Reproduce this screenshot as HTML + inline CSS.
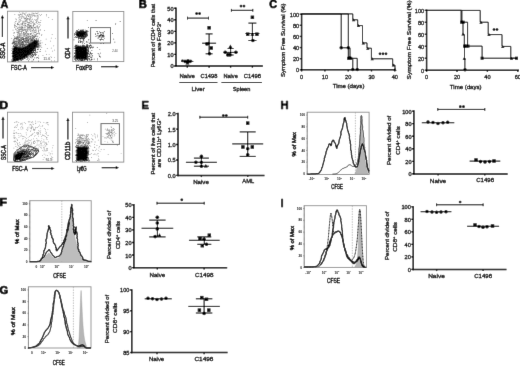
<!DOCTYPE html>
<html><head><meta charset="utf-8"><style>
html,body{margin:0;padding:0;background:#fff;}
svg{display:block;}
text{font-family:"Liberation Sans", sans-serif;}
</style></head><body>
<svg width="520" height="366" viewBox="0 0 520 366">
<defs>
<filter id="b03" x="-20%" y="-20%" width="140%" height="140%"><feGaussianBlur stdDeviation="0.3"/></filter>
<filter id="b04" x="-20%" y="-20%" width="140%" height="140%"><feGaussianBlur stdDeviation="0.4"/></filter>
<filter id="b05" x="-20%" y="-20%" width="140%" height="140%"><feGaussianBlur stdDeviation="0.5"/></filter>
<filter id="b06" x="-30%" y="-30%" width="160%" height="160%"><feGaussianBlur stdDeviation="0.6"/></filter>
<filter id="b08" x="-30%" y="-30%" width="160%" height="160%"><feGaussianBlur stdDeviation="0.8"/></filter>
<filter id="b12" x="-30%" y="-30%" width="160%" height="160%"><feGaussianBlur stdDeviation="1.2"/></filter>
<filter id="gb" x="0" y="0" width="520" height="366" filterUnits="userSpaceOnUse"><feConvolveMatrix order="3" kernelMatrix="0 1 0 1 12 1 0 1 0" divisor="16.0" edgeMode="duplicate"/></filter>
</defs>
<g filter="url(#gb)">
<rect width="520" height="366" fill="#fff"/>
<text x="0.41" y="8.05" font-size="11.2" font-weight="bold" fill="#000" textLength="7.77" lengthAdjust="spacingAndGlyphs" stroke="#000" stroke-width="0.7" stroke-linejoin="round">A</text>
<text x="138.80" y="7.60" font-size="11.2" font-weight="bold" fill="#000" textLength="8.12" lengthAdjust="spacingAndGlyphs" stroke="#000" stroke-width="0.7" stroke-linejoin="round">B</text>
<text x="269.17" y="8.38" font-size="11.2" font-weight="bold" fill="#000" textLength="7.81" lengthAdjust="spacingAndGlyphs" stroke="#000" stroke-width="0.7" stroke-linejoin="round">C</text>
<text x="-0.45" y="109.15" font-size="11.2" font-weight="bold" fill="#000" textLength="8.59" lengthAdjust="spacingAndGlyphs" stroke="#000" stroke-width="0.7" stroke-linejoin="round">D</text>
<text x="141.61" y="109.35" font-size="11.2" font-weight="bold" fill="#000" textLength="7.41" lengthAdjust="spacingAndGlyphs" stroke="#000" stroke-width="0.7" stroke-linejoin="round">E</text>
<text x="-0.48" y="206.35" font-size="11.2" font-weight="bold" fill="#000" textLength="7.54" lengthAdjust="spacingAndGlyphs" stroke="#000" stroke-width="0.7" stroke-linejoin="round">F</text>
<text x="-0.14" y="294.32" font-size="11.2" font-weight="bold" fill="#000" textLength="8.47" lengthAdjust="spacingAndGlyphs" stroke="#000" stroke-width="0.7" stroke-linejoin="round">G</text>
<text x="280.60" y="109.35" font-size="11.2" font-weight="bold" fill="#000" textLength="8.06" lengthAdjust="spacingAndGlyphs" stroke="#000" stroke-width="0.7" stroke-linejoin="round">H</text>
<text x="280.70" y="206.55" font-size="11.2" font-weight="bold" fill="#000" textLength="2.68" lengthAdjust="spacingAndGlyphs" stroke="#000" stroke-width="0.7" stroke-linejoin="round">I</text>
<line x1="176.00" y1="7.45" x2="176.00" y2="66.75" stroke="#000" stroke-width="1.5"/>
<line x1="174.10" y1="66.00" x2="176.00" y2="66.00" stroke="#000" stroke-width="1.35"/>
<text x="173.60" y="68.49" font-size="5.6" text-anchor="end" font-weight="normal" fill="#000" stroke="#000" stroke-width="0.3">0</text>
<line x1="174.10" y1="54.44" x2="176.00" y2="54.44" stroke="#000" stroke-width="1.35"/>
<text x="173.60" y="56.93" font-size="5.6" text-anchor="end" font-weight="normal" fill="#000" stroke="#000" stroke-width="0.3">10</text>
<line x1="174.10" y1="42.88" x2="176.00" y2="42.88" stroke="#000" stroke-width="1.35"/>
<text x="173.60" y="45.37" font-size="5.6" text-anchor="end" font-weight="normal" fill="#000" stroke="#000" stroke-width="0.3">20</text>
<line x1="174.10" y1="31.32" x2="176.00" y2="31.32" stroke="#000" stroke-width="1.35"/>
<text x="173.60" y="33.81" font-size="5.6" text-anchor="end" font-weight="normal" fill="#000" stroke="#000" stroke-width="0.3">30</text>
<line x1="174.10" y1="19.76" x2="176.00" y2="19.76" stroke="#000" stroke-width="1.35"/>
<text x="173.60" y="22.25" font-size="5.6" text-anchor="end" font-weight="normal" fill="#000" stroke="#000" stroke-width="0.3">40</text>
<line x1="174.10" y1="8.20" x2="176.00" y2="8.20" stroke="#000" stroke-width="1.35"/>
<text x="173.60" y="10.69" font-size="5.6" text-anchor="end" font-weight="normal" fill="#000" stroke="#000" stroke-width="0.3">50</text>
<line x1="175.25" y1="66.00" x2="262.90" y2="66.00" stroke="#000" stroke-width="1.5"/>
<line x1="187.30" y1="66.00" x2="187.30" y2="67.70" stroke="#000" stroke-width="1.35"/>
<line x1="209.10" y1="66.00" x2="209.10" y2="67.70" stroke="#000" stroke-width="1.35"/>
<line x1="230.60" y1="66.00" x2="230.60" y2="67.70" stroke="#000" stroke-width="1.35"/>
<line x1="252.40" y1="66.00" x2="252.40" y2="67.70" stroke="#000" stroke-width="1.35"/>
<text x="179.50" y="77.62" font-size="6.0" font-weight="normal" fill="#000" textLength="15.32" lengthAdjust="spacingAndGlyphs" stroke="#000" stroke-width="0.3">Naive</text>
<text x="200.56" y="77.50" font-size="6.0" font-weight="normal" fill="#000" textLength="16.84" lengthAdjust="spacingAndGlyphs" stroke="#000" stroke-width="0.3">C1498</text>
<text x="223.43" y="77.62" font-size="6.0" font-weight="normal" fill="#000" textLength="14.37" lengthAdjust="spacingAndGlyphs" stroke="#000" stroke-width="0.3">Naive</text>
<text x="243.86" y="77.50" font-size="6.0" font-weight="normal" fill="#000" textLength="17.15" lengthAdjust="spacingAndGlyphs" stroke="#000" stroke-width="0.3">C1498</text>
<line x1="179.40" y1="82.50" x2="217.40" y2="82.50" stroke="#000" stroke-width="1.0"/>
<line x1="221.50" y1="82.50" x2="261.90" y2="82.50" stroke="#000" stroke-width="1.0"/>
<text x="191.49" y="91.12" font-size="6.0" font-weight="normal" fill="#000" textLength="13.25" lengthAdjust="spacingAndGlyphs" stroke="#000" stroke-width="0.3">Liver</text>
<text x="232.77" y="91.16" font-size="6.0" font-weight="normal" fill="#000" textLength="17.55" lengthAdjust="spacingAndGlyphs" stroke="#000" stroke-width="0.3">Spleen</text>
<text x="154.78" y="67.36" font-size="6.0" font-weight="normal" fill="#000" transform="rotate(-90 154.78 67.36)" textLength="63.55" lengthAdjust="spacingAndGlyphs" stroke="#000" stroke-width="0.3">Percent of CD4<tspan font-size="3.8" dy="-2">+</tspan><tspan dy="2"> cells that</tspan></text>
<text x="160.75" y="50.94" font-size="6.0" font-weight="normal" fill="#000" transform="rotate(-90 160.75 50.94)" textLength="29.10" lengthAdjust="spacingAndGlyphs" stroke="#000" stroke-width="0.3">are FoxP3<tspan font-size="3.8" dy="-2">+</tspan></text>
<line x1="181.30" y1="61.50" x2="193.30" y2="61.50" stroke="#000" stroke-width="1.05"/>
<line x1="183.80" y1="60.30" x2="190.80" y2="60.30" stroke="#000" stroke-width="1.05"/>
<line x1="183.80" y1="62.60" x2="190.80" y2="62.60" stroke="#000" stroke-width="1.05"/>
<line x1="187.30" y1="60.30" x2="187.30" y2="62.60" stroke="#000" stroke-width="1.05"/>
<circle cx="182.50" cy="60.80" r="1.35" fill="#000"/>
<circle cx="185.00" cy="61.30" r="1.35" fill="#000"/>
<circle cx="188.00" cy="60.70" r="1.35" fill="#000"/>
<circle cx="191.00" cy="61.20" r="1.35" fill="#000"/>
<path d="M185.52 64.38L187.50 60.82L189.48 64.38Z" fill="#000"/>
<line x1="202.10" y1="43.20" x2="216.10" y2="43.20" stroke="#000" stroke-width="1.05"/>
<line x1="205.60" y1="33.90" x2="212.60" y2="33.90" stroke="#000" stroke-width="1.05"/>
<line x1="205.60" y1="53.80" x2="212.60" y2="53.80" stroke="#000" stroke-width="1.05"/>
<line x1="209.10" y1="33.90" x2="209.10" y2="53.80" stroke="#000" stroke-width="1.05"/>
<rect x="207.39" y="26.09" width="3.42" height="3.42" fill="#000"/>
<circle cx="208.20" cy="43.50" r="1.8" fill="#000"/>
<rect x="209.49" y="46.29" width="3.42" height="3.42" fill="#000"/>
<circle cx="209.50" cy="53.70" r="1.8" fill="#000"/>
<circle cx="206.80" cy="43.90" r="1.8" fill="#000"/>
<line x1="223.60" y1="52.40" x2="237.60" y2="52.40" stroke="#000" stroke-width="1.05"/>
<line x1="227.60" y1="48.50" x2="233.60" y2="48.50" stroke="#000" stroke-width="1.05"/>
<line x1="227.60" y1="55.00" x2="233.60" y2="55.00" stroke="#000" stroke-width="1.05"/>
<line x1="230.60" y1="48.50" x2="230.60" y2="55.00" stroke="#000" stroke-width="1.05"/>
<path d="M228.42 47.98L230.40 44.42L232.38 47.98Z" fill="#000"/>
<circle cx="225.20" cy="52.30" r="1.8" fill="#000"/>
<circle cx="235.90" cy="52.30" r="1.8" fill="#000"/>
<circle cx="230.00" cy="54.90" r="1.8" fill="#000"/>
<circle cx="227.80" cy="54.90" r="1.8" fill="#000"/>
<line x1="245.40" y1="33.50" x2="259.40" y2="33.50" stroke="#000" stroke-width="1.05"/>
<line x1="248.40" y1="23.10" x2="256.40" y2="23.10" stroke="#000" stroke-width="1.05"/>
<line x1="248.40" y1="40.50" x2="256.40" y2="40.50" stroke="#000" stroke-width="1.05"/>
<line x1="252.40" y1="23.10" x2="252.40" y2="40.50" stroke="#000" stroke-width="1.05"/>
<rect x="250.69" y="15.59" width="3.42" height="3.42" fill="#000"/>
<rect x="245.99" y="32.49" width="3.42" height="3.42" fill="#000"/>
<rect x="255.19" y="32.49" width="3.42" height="3.42" fill="#000"/>
<path d="M250.42 35.78L252.40 32.22L254.38 35.78Z" fill="#000"/>
<circle cx="252.90" cy="40.50" r="1.8" fill="#000"/>
<line x1="187.50" y1="18.10" x2="208.50" y2="18.10" stroke="#000" stroke-width="1.0"/>
<line x1="187.50" y1="16.70" x2="187.50" y2="19.50" stroke="#000" stroke-width="1.0"/>
<line x1="208.50" y1="16.70" x2="208.50" y2="19.50" stroke="#000" stroke-width="1.0"/>
<circle cx="196.60" cy="13.60" r="1.35" fill="#000"/>
<circle cx="199.60" cy="13.60" r="1.35" fill="#000"/>
<line x1="231.40" y1="10.30" x2="252.80" y2="10.30" stroke="#000" stroke-width="1.0"/>
<line x1="231.40" y1="8.90" x2="231.40" y2="11.70" stroke="#000" stroke-width="1.0"/>
<line x1="252.80" y1="8.90" x2="252.80" y2="11.70" stroke="#000" stroke-width="1.0"/>
<circle cx="241.00" cy="6.05" r="1.35" fill="#000"/>
<circle cx="244.00" cy="6.05" r="1.35" fill="#000"/>
<line x1="301.60" y1="13.45" x2="301.60" y2="70.55" stroke="#000" stroke-width="1.5"/>
<line x1="299.70" y1="69.80" x2="301.60" y2="69.80" stroke="#000" stroke-width="1.35"/>
<text x="299.20" y="72.29" font-size="5.6" text-anchor="end" font-weight="normal" fill="#000" stroke="#000" stroke-width="0.3">0</text>
<line x1="299.70" y1="58.68" x2="301.60" y2="58.68" stroke="#000" stroke-width="1.35"/>
<text x="299.20" y="61.17" font-size="5.6" text-anchor="end" font-weight="normal" fill="#000" stroke="#000" stroke-width="0.3">20</text>
<line x1="299.70" y1="47.56" x2="301.60" y2="47.56" stroke="#000" stroke-width="1.35"/>
<text x="299.20" y="50.05" font-size="5.6" text-anchor="end" font-weight="normal" fill="#000" stroke="#000" stroke-width="0.3">40</text>
<line x1="299.70" y1="36.44" x2="301.60" y2="36.44" stroke="#000" stroke-width="1.35"/>
<text x="299.20" y="38.93" font-size="5.6" text-anchor="end" font-weight="normal" fill="#000" stroke="#000" stroke-width="0.3">60</text>
<line x1="299.70" y1="25.32" x2="301.60" y2="25.32" stroke="#000" stroke-width="1.35"/>
<text x="299.20" y="27.81" font-size="5.6" text-anchor="end" font-weight="normal" fill="#000" stroke="#000" stroke-width="0.3">80</text>
<line x1="299.70" y1="14.20" x2="301.60" y2="14.20" stroke="#000" stroke-width="1.35"/>
<text x="299.20" y="16.69" font-size="5.6" text-anchor="end" font-weight="normal" fill="#000" stroke="#000" stroke-width="0.3">100</text>
<line x1="300.85" y1="69.80" x2="396.00" y2="69.80" stroke="#000" stroke-width="1.5"/>
<line x1="301.60" y1="69.80" x2="301.60" y2="71.50" stroke="#000" stroke-width="1.35"/>
<line x1="324.90" y1="69.80" x2="324.90" y2="71.50" stroke="#000" stroke-width="1.35"/>
<line x1="348.20" y1="69.80" x2="348.20" y2="71.50" stroke="#000" stroke-width="1.35"/>
<line x1="371.50" y1="69.80" x2="371.50" y2="71.50" stroke="#000" stroke-width="1.35"/>
<line x1="394.80" y1="69.80" x2="394.80" y2="71.50" stroke="#000" stroke-width="1.35"/>
<text x="301.60" y="79.00" font-size="5.6" text-anchor="middle" font-weight="normal" fill="#000" stroke="#000" stroke-width="0.3">0</text>
<text x="324.90" y="79.00" font-size="5.6" text-anchor="middle" font-weight="normal" fill="#000" stroke="#000" stroke-width="0.3">10</text>
<text x="348.20" y="79.00" font-size="5.6" text-anchor="middle" font-weight="normal" fill="#000" stroke="#000" stroke-width="0.3">20</text>
<text x="371.50" y="79.00" font-size="5.6" text-anchor="middle" font-weight="normal" fill="#000" stroke="#000" stroke-width="0.3">30</text>
<text x="394.80" y="79.00" font-size="5.6" text-anchor="middle" font-weight="normal" fill="#000" stroke="#000" stroke-width="0.3">40</text>
<text x="332.67" y="88.36" font-size="6.0" font-weight="normal" fill="#000" textLength="31.76" lengthAdjust="spacingAndGlyphs" stroke="#000" stroke-width="0.3">Time (days)</text>
<text x="285.38" y="77.05" font-size="6.0" font-weight="normal" fill="#000" transform="rotate(-90 285.38 77.05)" textLength="73.61" lengthAdjust="spacingAndGlyphs" stroke="#000" stroke-width="0.3">Symptom Free Survival (%)</text>
<path d="M301.6 13.9H341.2V47.8H348.3V58.3H352.8V69.8" stroke="#000" stroke-width="1.0" fill="none"/>
<path d="M301.6 13.9H348.3V47.8H350V58.3H357.2V69.8" stroke="#000" stroke-width="1.0" fill="none"/>
<path d="M301.6 13.9H352.8V19.8H357.7V25.6H362.5V42.9H367V48.2H371.4V58.8H392.7V65.1H395V69.8" stroke="#000" stroke-width="1.0" fill="none"/>
<circle cx="341.20" cy="47.80" r="1.75" fill="#000"/>
<circle cx="348.30" cy="47.80" r="1.75" fill="#000"/>
<circle cx="352.80" cy="69.60" r="1.75" fill="#000"/>
<circle cx="357.20" cy="69.60" r="1.75" fill="#000"/>
<rect x="347.10" y="56.80" width="3.00" height="3.00" fill="#000"/>
<rect x="349.10" y="56.80" width="3.00" height="3.00" fill="#000"/>
<rect x="348.00" y="56.40" width="3.00" height="3.00" fill="#000"/>
<path d="M351.95 21.29L353.60 18.32L355.25 21.29Z" fill="#000"/>
<path d="M356.85 27.09L358.50 24.12L360.15 27.09Z" fill="#000"/>
<path d="M361.65 44.38L363.30 41.41L364.95 44.38Z" fill="#000"/>
<path d="M366.15 49.69L367.80 46.72L369.45 49.69Z" fill="#000"/>
<path d="M370.55 60.28L372.20 57.31L373.85 60.28Z" fill="#000"/>
<path d="M391.75 66.58L393.40 63.61L395.05 66.58Z" fill="#000"/>
<path d="M393.35 70.78L395.00 67.81L396.65 70.78Z" fill="#000"/>
<circle cx="380.00" cy="53.85" r="1.35" fill="#000"/>
<circle cx="383.00" cy="53.85" r="1.35" fill="#000"/>
<circle cx="386.00" cy="53.85" r="1.35" fill="#000"/>
<line x1="426.60" y1="9.55" x2="426.60" y2="70.95" stroke="#000" stroke-width="1.5"/>
<line x1="424.70" y1="70.20" x2="426.60" y2="70.20" stroke="#000" stroke-width="1.35"/>
<text x="424.20" y="72.69" font-size="5.6" text-anchor="end" font-weight="normal" fill="#000" stroke="#000" stroke-width="0.3">0</text>
<line x1="424.70" y1="58.22" x2="426.60" y2="58.22" stroke="#000" stroke-width="1.35"/>
<text x="424.20" y="60.71" font-size="5.6" text-anchor="end" font-weight="normal" fill="#000" stroke="#000" stroke-width="0.3">20</text>
<line x1="424.70" y1="46.24" x2="426.60" y2="46.24" stroke="#000" stroke-width="1.35"/>
<text x="424.20" y="48.73" font-size="5.6" text-anchor="end" font-weight="normal" fill="#000" stroke="#000" stroke-width="0.3">40</text>
<line x1="424.70" y1="34.26" x2="426.60" y2="34.26" stroke="#000" stroke-width="1.35"/>
<text x="424.20" y="36.75" font-size="5.6" text-anchor="end" font-weight="normal" fill="#000" stroke="#000" stroke-width="0.3">60</text>
<line x1="424.70" y1="22.28" x2="426.60" y2="22.28" stroke="#000" stroke-width="1.35"/>
<text x="424.20" y="24.77" font-size="5.6" text-anchor="end" font-weight="normal" fill="#000" stroke="#000" stroke-width="0.3">80</text>
<line x1="424.70" y1="10.30" x2="426.60" y2="10.30" stroke="#000" stroke-width="1.35"/>
<text x="424.20" y="12.79" font-size="5.6" text-anchor="end" font-weight="normal" fill="#000" stroke="#000" stroke-width="0.3">100</text>
<line x1="425.85" y1="70.20" x2="519.00" y2="70.20" stroke="#000" stroke-width="1.5"/>
<line x1="426.60" y1="70.20" x2="426.60" y2="71.90" stroke="#000" stroke-width="1.35"/>
<line x1="457.00" y1="70.20" x2="457.00" y2="71.90" stroke="#000" stroke-width="1.35"/>
<line x1="487.40" y1="70.20" x2="487.40" y2="71.90" stroke="#000" stroke-width="1.35"/>
<line x1="517.80" y1="70.20" x2="517.80" y2="71.90" stroke="#000" stroke-width="1.35"/>
<text x="426.60" y="79.20" font-size="5.6" text-anchor="middle" font-weight="normal" fill="#000" stroke="#000" stroke-width="0.3">0</text>
<text x="457.00" y="79.20" font-size="5.6" text-anchor="middle" font-weight="normal" fill="#000" stroke="#000" stroke-width="0.3">20</text>
<text x="487.40" y="79.20" font-size="5.6" text-anchor="middle" font-weight="normal" fill="#000" stroke="#000" stroke-width="0.3">40</text>
<text x="517.80" y="79.20" font-size="5.6" text-anchor="middle" font-weight="normal" fill="#000" stroke="#000" stroke-width="0.3">60</text>
<text x="449.87" y="89.06" font-size="6.0" font-weight="normal" fill="#000" textLength="31.66" lengthAdjust="spacingAndGlyphs" stroke="#000" stroke-width="0.3">Time (days)</text>
<text x="410.57" y="79.37" font-size="6.0" font-weight="normal" fill="#000" transform="rotate(-90 410.57 79.37)" textLength="79.06" lengthAdjust="spacingAndGlyphs" stroke="#000" stroke-width="0.3">Symptom Free Survival (%)</text>
<path d="M426.6 10.4H461.1V22.2H467.6V46.1H482.1V58.2H516.5" stroke="#000" stroke-width="1.0" fill="none"/>
<path d="M426.6 10.4H461.9V22.2H463V34.4H464.3V46.1H464.5V58.2H464.9V70" stroke="#000" stroke-width="1.0" fill="none"/>
<path d="M426.6 10.4H480.2V22.2H488.2V34.6H502V46.4H510.8V58.2H516.5" stroke="#000" stroke-width="1.0" fill="none"/>
<rect x="460.10" y="20.70" width="3.00" height="3.00" fill="#000"/>
<rect x="461.70" y="20.70" width="3.00" height="3.00" fill="#000"/>
<rect x="463.00" y="44.60" width="3.00" height="3.00" fill="#000"/>
<rect x="464.80" y="44.60" width="3.00" height="3.00" fill="#000"/>
<rect x="466.50" y="44.60" width="3.00" height="3.00" fill="#000"/>
<rect x="480.60" y="56.70" width="3.00" height="3.00" fill="#000"/>
<rect x="515.00" y="56.70" width="3.00" height="3.00" fill="#000"/>
<circle cx="465.00" cy="69.80" r="1.75" fill="#000"/>
<path d="M461.35 35.59L463.00 32.62L464.65 35.59Z" fill="#000"/>
<path d="M462.65 59.69L464.30 56.72L465.95 59.69Z" fill="#000"/>
<path d="M479.35 23.68L481.00 20.71L482.65 23.68Z" fill="#000"/>
<path d="M487.35 36.09L489.00 33.12L490.65 36.09Z" fill="#000"/>
<path d="M501.15 47.88L502.80 44.91L504.45 47.88Z" fill="#000"/>
<path d="M509.85 59.69L511.50 56.72L513.15 59.69Z" fill="#000"/>
<circle cx="494.00" cy="29.50" r="1.35" fill="#000"/>
<circle cx="497.00" cy="29.50" r="1.35" fill="#000"/>
<line x1="178.00" y1="112.85" x2="178.00" y2="176.15" stroke="#000" stroke-width="1.5"/>
<line x1="176.10" y1="175.40" x2="178.00" y2="175.40" stroke="#000" stroke-width="1.35"/>
<text x="175.60" y="177.89" font-size="5.6" text-anchor="end" font-weight="normal" fill="#000" stroke="#000" stroke-width="0.3">0.0</text>
<line x1="176.10" y1="159.95" x2="178.00" y2="159.95" stroke="#000" stroke-width="1.35"/>
<text x="175.60" y="162.44" font-size="5.6" text-anchor="end" font-weight="normal" fill="#000" stroke="#000" stroke-width="0.3">0.5</text>
<line x1="176.10" y1="144.50" x2="178.00" y2="144.50" stroke="#000" stroke-width="1.35"/>
<text x="175.60" y="146.99" font-size="5.6" text-anchor="end" font-weight="normal" fill="#000" stroke="#000" stroke-width="0.3">1.0</text>
<line x1="176.10" y1="129.05" x2="178.00" y2="129.05" stroke="#000" stroke-width="1.35"/>
<text x="175.60" y="131.54" font-size="5.6" text-anchor="end" font-weight="normal" fill="#000" stroke="#000" stroke-width="0.3">1.5</text>
<line x1="176.10" y1="113.60" x2="178.00" y2="113.60" stroke="#000" stroke-width="1.35"/>
<text x="175.60" y="116.09" font-size="5.6" text-anchor="end" font-weight="normal" fill="#000" stroke="#000" stroke-width="0.3">2.0</text>
<line x1="177.25" y1="175.40" x2="264.50" y2="175.40" stroke="#000" stroke-width="1.5"/>
<line x1="201.40" y1="175.40" x2="201.40" y2="177.10" stroke="#000" stroke-width="1.35"/>
<line x1="247.70" y1="175.40" x2="247.70" y2="177.10" stroke="#000" stroke-width="1.35"/>
<text x="193.19" y="183.53" font-size="6.0" font-weight="normal" fill="#000" textLength="15.63" lengthAdjust="spacingAndGlyphs" stroke="#000" stroke-width="0.3">Naive</text>
<text x="242.30" y="183.46" font-size="6.0" font-weight="normal" fill="#000" textLength="11.81" lengthAdjust="spacingAndGlyphs" stroke="#000" stroke-width="0.3">AML</text>
<text x="155.07" y="174.49" font-size="6.0" font-weight="normal" fill="#000" transform="rotate(-90 155.07 174.49)" textLength="61.69" lengthAdjust="spacingAndGlyphs" stroke="#000" stroke-width="0.3">Percent of live cells that</text>
<text x="161.28" y="167.55" font-size="6.0" font-weight="normal" fill="#000" transform="rotate(-90 161.28 167.55)" textLength="49.24" lengthAdjust="spacingAndGlyphs" stroke="#000" stroke-width="0.3">are CD11b<tspan font-size="3.8" dy="-2">+</tspan><tspan dy="2"> Ly6G</tspan><tspan font-size="3.8" dy="-2">+</tspan></text>
<line x1="185.90" y1="162.30" x2="216.90" y2="162.30" stroke="#000" stroke-width="1.05"/>
<line x1="193.90" y1="158.10" x2="208.90" y2="158.10" stroke="#000" stroke-width="1.05"/>
<line x1="193.90" y1="166.20" x2="208.90" y2="166.20" stroke="#000" stroke-width="1.05"/>
<line x1="201.40" y1="158.10" x2="201.40" y2="166.20" stroke="#000" stroke-width="1.05"/>
<circle cx="201.40" cy="156.40" r="1.8" fill="#000"/>
<circle cx="195.90" cy="162.30" r="1.8" fill="#000"/>
<circle cx="201.40" cy="162.30" r="1.8" fill="#000"/>
<circle cx="201.40" cy="166.20" r="1.8" fill="#000"/>
<path d="M203.82 167.58L205.80 164.02L207.78 167.58Z" fill="#000"/>
<line x1="232.20" y1="143.90" x2="263.20" y2="143.90" stroke="#000" stroke-width="1.05"/>
<line x1="239.70" y1="131.90" x2="255.70" y2="131.90" stroke="#000" stroke-width="1.05"/>
<line x1="239.70" y1="156.40" x2="255.70" y2="156.40" stroke="#000" stroke-width="1.05"/>
<line x1="247.70" y1="131.90" x2="247.70" y2="156.40" stroke="#000" stroke-width="1.05"/>
<rect x="245.99" y="121.39" width="3.42" height="3.42" fill="#000"/>
<rect x="241.19" y="145.29" width="3.42" height="3.42" fill="#000"/>
<rect x="250.59" y="145.29" width="3.42" height="3.42" fill="#000"/>
<circle cx="247.70" cy="148.70" r="1.8" fill="#000"/>
<circle cx="247.70" cy="154.80" r="1.8" fill="#000"/>
<line x1="199.90" y1="117.20" x2="247.70" y2="117.20" stroke="#000" stroke-width="1.0"/>
<line x1="199.90" y1="115.80" x2="199.90" y2="118.60" stroke="#000" stroke-width="1.0"/>
<line x1="247.70" y1="115.80" x2="247.70" y2="118.60" stroke="#000" stroke-width="1.0"/>
<circle cx="223.30" cy="115.50" r="1.35" fill="#000"/>
<circle cx="226.30" cy="115.50" r="1.35" fill="#000"/>
<line x1="133.90" y1="204.05" x2="133.90" y2="268.35" stroke="#000" stroke-width="1.5"/>
<line x1="132.00" y1="267.60" x2="133.90" y2="267.60" stroke="#000" stroke-width="1.35"/>
<text x="131.50" y="270.09" font-size="5.6" text-anchor="end" font-weight="normal" fill="#000" stroke="#000" stroke-width="0.3">0</text>
<line x1="132.00" y1="255.04" x2="133.90" y2="255.04" stroke="#000" stroke-width="1.35"/>
<text x="131.50" y="257.53" font-size="5.6" text-anchor="end" font-weight="normal" fill="#000" stroke="#000" stroke-width="0.3">10</text>
<line x1="132.00" y1="242.48" x2="133.90" y2="242.48" stroke="#000" stroke-width="1.35"/>
<text x="131.50" y="244.97" font-size="5.6" text-anchor="end" font-weight="normal" fill="#000" stroke="#000" stroke-width="0.3">20</text>
<line x1="132.00" y1="229.92" x2="133.90" y2="229.92" stroke="#000" stroke-width="1.35"/>
<text x="131.50" y="232.41" font-size="5.6" text-anchor="end" font-weight="normal" fill="#000" stroke="#000" stroke-width="0.3">30</text>
<line x1="132.00" y1="217.36" x2="133.90" y2="217.36" stroke="#000" stroke-width="1.35"/>
<text x="131.50" y="219.85" font-size="5.6" text-anchor="end" font-weight="normal" fill="#000" stroke="#000" stroke-width="0.3">40</text>
<line x1="132.00" y1="204.80" x2="133.90" y2="204.80" stroke="#000" stroke-width="1.35"/>
<text x="131.50" y="207.29" font-size="5.6" text-anchor="end" font-weight="normal" fill="#000" stroke="#000" stroke-width="0.3">50</text>
<line x1="133.15" y1="267.80" x2="227.20" y2="267.80" stroke="#000" stroke-width="1.5"/>
<line x1="157.30" y1="267.80" x2="157.30" y2="269.50" stroke="#000" stroke-width="1.35"/>
<line x1="204.10" y1="267.80" x2="204.10" y2="269.50" stroke="#000" stroke-width="1.35"/>
<text x="149.49" y="276.83" font-size="6.0" font-weight="normal" fill="#000" textLength="15.63" lengthAdjust="spacingAndGlyphs" stroke="#000" stroke-width="0.3">Naive</text>
<text x="195.04" y="276.70" font-size="6.0" font-weight="normal" fill="#000" textLength="18.59" lengthAdjust="spacingAndGlyphs" stroke="#000" stroke-width="0.3">C1498</text>
<text x="111.28" y="259.10" font-size="6.0" font-weight="normal" fill="#000" transform="rotate(-90 111.28 259.10)" textLength="48.44" lengthAdjust="spacingAndGlyphs" stroke="#000" stroke-width="0.3">Percent divided of</text>
<text x="120.17" y="249.05" font-size="6.0" font-weight="normal" fill="#000" transform="rotate(-90 120.17 249.05)" textLength="28.21" lengthAdjust="spacingAndGlyphs" stroke="#000" stroke-width="0.3">CD4<tspan font-size="3.8" dy="-2">+</tspan><tspan dy="2"> cells</tspan></text>
<line x1="141.55" y1="228.30" x2="173.25" y2="228.30" stroke="#000" stroke-width="1.05"/>
<line x1="149.20" y1="220.10" x2="165.60" y2="220.10" stroke="#000" stroke-width="1.05"/>
<line x1="149.20" y1="236.90" x2="165.60" y2="236.90" stroke="#000" stroke-width="1.05"/>
<line x1="157.40" y1="220.10" x2="157.40" y2="236.90" stroke="#000" stroke-width="1.05"/>
<circle cx="157.30" cy="217.30" r="1.8" fill="#000"/>
<circle cx="157.30" cy="223.00" r="1.8" fill="#000"/>
<circle cx="157.30" cy="228.90" r="1.8" fill="#000"/>
<circle cx="155.10" cy="236.60" r="1.8" fill="#000"/>
<path d="M157.52 236.78L159.50 233.22L161.48 236.78Z" fill="#000"/>
<line x1="188.95" y1="240.30" x2="219.65" y2="240.30" stroke="#000" stroke-width="1.05"/>
<line x1="197.30" y1="236.90" x2="211.30" y2="236.90" stroke="#000" stroke-width="1.05"/>
<line x1="197.30" y1="244.30" x2="211.30" y2="244.30" stroke="#000" stroke-width="1.05"/>
<line x1="204.30" y1="236.90" x2="204.30" y2="244.30" stroke="#000" stroke-width="1.05"/>
<rect x="198.29" y="236.79" width="3.42" height="3.42" fill="#000"/>
<rect x="207.59" y="233.49" width="3.42" height="3.42" fill="#000"/>
<rect x="200.59" y="243.99" width="3.42" height="3.42" fill="#000"/>
<circle cx="204.00" cy="239.20" r="1.8" fill="#000"/>
<circle cx="206.50" cy="244.30" r="1.8" fill="#000"/>
<line x1="157.00" y1="203.20" x2="204.20" y2="203.20" stroke="#000" stroke-width="1.0"/>
<line x1="157.00" y1="201.80" x2="157.00" y2="204.60" stroke="#000" stroke-width="1.0"/>
<line x1="204.20" y1="201.80" x2="204.20" y2="204.60" stroke="#000" stroke-width="1.0"/>
<circle cx="181.80" cy="199.80" r="1.35" fill="#000"/>
<line x1="131.80" y1="289.15" x2="131.80" y2="353.25" stroke="#000" stroke-width="1.5"/>
<line x1="129.90" y1="352.50" x2="131.80" y2="352.50" stroke="#000" stroke-width="1.35"/>
<text x="129.40" y="354.99" font-size="5.6" text-anchor="end" font-weight="normal" fill="#000" stroke="#000" stroke-width="0.3">85</text>
<line x1="129.90" y1="331.63" x2="131.80" y2="331.63" stroke="#000" stroke-width="1.35"/>
<text x="129.40" y="334.12" font-size="5.6" text-anchor="end" font-weight="normal" fill="#000" stroke="#000" stroke-width="0.3">90</text>
<line x1="129.90" y1="310.77" x2="131.80" y2="310.77" stroke="#000" stroke-width="1.35"/>
<text x="129.40" y="313.26" font-size="5.6" text-anchor="end" font-weight="normal" fill="#000" stroke="#000" stroke-width="0.3">95</text>
<line x1="129.90" y1="289.90" x2="131.80" y2="289.90" stroke="#000" stroke-width="1.35"/>
<text x="129.40" y="292.39" font-size="5.6" text-anchor="end" font-weight="normal" fill="#000" stroke="#000" stroke-width="0.3">100</text>
<line x1="131.05" y1="352.50" x2="227.60" y2="352.50" stroke="#000" stroke-width="1.5"/>
<line x1="157.00" y1="352.50" x2="157.00" y2="354.20" stroke="#000" stroke-width="1.35"/>
<line x1="204.10" y1="352.50" x2="204.10" y2="354.20" stroke="#000" stroke-width="1.35"/>
<text x="148.90" y="361.02" font-size="6.0" font-weight="normal" fill="#000" textLength="15.32" lengthAdjust="spacingAndGlyphs" stroke="#000" stroke-width="0.3">Naive</text>
<text x="194.43" y="360.90" font-size="6.0" font-weight="normal" fill="#000" textLength="19.00" lengthAdjust="spacingAndGlyphs" stroke="#000" stroke-width="0.3">C1498</text>
<text x="108.58" y="343.20" font-size="6.0" font-weight="normal" fill="#000" transform="rotate(-90 108.58 343.20)" textLength="48.44" lengthAdjust="spacingAndGlyphs" stroke="#000" stroke-width="0.3">Percent divided of</text>
<text x="117.17" y="332.87" font-size="6.0" font-weight="normal" fill="#000" transform="rotate(-90 117.17 332.87)" textLength="30.24" lengthAdjust="spacingAndGlyphs" stroke="#000" stroke-width="0.3">CD8<tspan font-size="3.8" dy="-2">+</tspan><tspan dy="2"> cells</tspan></text>
<line x1="144.70" y1="298.80" x2="171.80" y2="298.80" stroke="#000" stroke-width="1.05"/>
<circle cx="148.00" cy="298.20" r="1.7" fill="#000"/>
<circle cx="152.50" cy="298.80" r="1.7" fill="#000"/>
<circle cx="157.00" cy="299.50" r="1.7" fill="#000"/>
<circle cx="161.50" cy="299.00" r="1.7" fill="#000"/>
<circle cx="166.00" cy="298.30" r="1.7" fill="#000"/>
<line x1="188.35" y1="306.40" x2="219.85" y2="306.40" stroke="#000" stroke-width="1.05"/>
<line x1="195.85" y1="298.80" x2="212.35" y2="298.80" stroke="#000" stroke-width="1.05"/>
<line x1="195.85" y1="313.00" x2="212.35" y2="313.00" stroke="#000" stroke-width="1.05"/>
<line x1="204.10" y1="298.80" x2="204.10" y2="313.00" stroke="#000" stroke-width="1.05"/>
<rect x="200.09" y="295.89" width="3.42" height="3.42" fill="#000"/>
<rect x="204.79" y="297.59" width="3.42" height="3.42" fill="#000"/>
<rect x="197.69" y="308.39" width="3.42" height="3.42" fill="#000"/>
<rect x="207.09" y="308.39" width="3.42" height="3.42" fill="#000"/>
<circle cx="204.10" cy="313.40" r="1.8" fill="#000"/>
<line x1="413.90" y1="110.35" x2="413.90" y2="174.65" stroke="#000" stroke-width="1.5"/>
<line x1="412.00" y1="173.90" x2="413.90" y2="173.90" stroke="#000" stroke-width="1.35"/>
<text x="411.50" y="176.39" font-size="5.6" text-anchor="end" font-weight="normal" fill="#000" stroke="#000" stroke-width="0.3">0</text>
<line x1="412.00" y1="161.34" x2="413.90" y2="161.34" stroke="#000" stroke-width="1.35"/>
<text x="411.50" y="163.83" font-size="5.6" text-anchor="end" font-weight="normal" fill="#000" stroke="#000" stroke-width="0.3">20</text>
<line x1="412.00" y1="148.78" x2="413.90" y2="148.78" stroke="#000" stroke-width="1.35"/>
<text x="411.50" y="151.27" font-size="5.6" text-anchor="end" font-weight="normal" fill="#000" stroke="#000" stroke-width="0.3">40</text>
<line x1="412.00" y1="136.22" x2="413.90" y2="136.22" stroke="#000" stroke-width="1.35"/>
<text x="411.50" y="138.71" font-size="5.6" text-anchor="end" font-weight="normal" fill="#000" stroke="#000" stroke-width="0.3">60</text>
<line x1="412.00" y1="123.66" x2="413.90" y2="123.66" stroke="#000" stroke-width="1.35"/>
<text x="411.50" y="126.15" font-size="5.6" text-anchor="end" font-weight="normal" fill="#000" stroke="#000" stroke-width="0.3">80</text>
<line x1="412.00" y1="111.10" x2="413.90" y2="111.10" stroke="#000" stroke-width="1.35"/>
<text x="411.50" y="113.59" font-size="5.6" text-anchor="end" font-weight="normal" fill="#000" stroke="#000" stroke-width="0.3">100</text>
<line x1="413.15" y1="173.90" x2="507.70" y2="173.90" stroke="#000" stroke-width="1.5"/>
<line x1="438.10" y1="173.90" x2="438.10" y2="175.60" stroke="#000" stroke-width="1.35"/>
<line x1="484.80" y1="173.90" x2="484.80" y2="175.60" stroke="#000" stroke-width="1.35"/>
<text x="429.87" y="182.53" font-size="6.0" font-weight="normal" fill="#000" textLength="16.26" lengthAdjust="spacingAndGlyphs" stroke="#000" stroke-width="0.3">Naive</text>
<text x="476.25" y="182.40" font-size="6.0" font-weight="normal" fill="#000" textLength="17.76" lengthAdjust="spacingAndGlyphs" stroke="#000" stroke-width="0.3">C1498</text>
<text x="391.27" y="165.01" font-size="6.0" font-weight="normal" fill="#000" transform="rotate(-90 391.27 165.01)" textLength="49.35" lengthAdjust="spacingAndGlyphs" stroke="#000" stroke-width="0.3">Percent divided of</text>
<text x="399.77" y="154.66" font-size="6.0" font-weight="normal" fill="#000" transform="rotate(-90 399.77 154.66)" textLength="28.52" lengthAdjust="spacingAndGlyphs" stroke="#000" stroke-width="0.3">CD4<tspan font-size="3.8" dy="-2">+</tspan><tspan dy="2"> cells</tspan></text>
<line x1="421.80" y1="122.70" x2="454.30" y2="122.70" stroke="#000" stroke-width="1.05"/>
<circle cx="428.00" cy="122.00" r="1.7" fill="#000"/>
<circle cx="433.00" cy="122.50" r="1.7" fill="#000"/>
<circle cx="438.00" cy="123.50" r="1.7" fill="#000"/>
<circle cx="443.00" cy="122.80" r="1.7" fill="#000"/>
<circle cx="447.70" cy="122.30" r="1.7" fill="#000"/>
<line x1="469.60" y1="161.10" x2="500.30" y2="161.10" stroke="#000" stroke-width="1.05"/>
<rect x="474.29" y="158.29" width="3.42" height="3.42" fill="#000"/>
<circle cx="480.50" cy="161.60" r="1.8" fill="#000"/>
<circle cx="485.00" cy="162.00" r="1.8" fill="#000"/>
<circle cx="489.50" cy="161.60" r="1.8" fill="#000"/>
<rect x="492.29" y="159.29" width="3.42" height="3.42" fill="#000"/>
<line x1="437.80" y1="109.40" x2="484.80" y2="109.40" stroke="#000" stroke-width="1.0"/>
<line x1="437.80" y1="108.00" x2="437.80" y2="110.80" stroke="#000" stroke-width="1.0"/>
<line x1="484.80" y1="108.00" x2="484.80" y2="110.80" stroke="#000" stroke-width="1.0"/>
<circle cx="460.30" cy="106.70" r="1.35" fill="#000"/>
<circle cx="463.50" cy="106.70" r="1.35" fill="#000"/>
<line x1="413.20" y1="206.05" x2="413.20" y2="270.15" stroke="#000" stroke-width="1.5"/>
<line x1="411.30" y1="269.40" x2="413.20" y2="269.40" stroke="#000" stroke-width="1.35"/>
<text x="410.80" y="271.89" font-size="5.6" text-anchor="end" font-weight="normal" fill="#000" stroke="#000" stroke-width="0.3">0</text>
<line x1="411.30" y1="256.88" x2="413.20" y2="256.88" stroke="#000" stroke-width="1.35"/>
<text x="410.80" y="259.37" font-size="5.6" text-anchor="end" font-weight="normal" fill="#000" stroke="#000" stroke-width="0.3">20</text>
<line x1="411.30" y1="244.36" x2="413.20" y2="244.36" stroke="#000" stroke-width="1.35"/>
<text x="410.80" y="246.85" font-size="5.6" text-anchor="end" font-weight="normal" fill="#000" stroke="#000" stroke-width="0.3">40</text>
<line x1="411.30" y1="231.84" x2="413.20" y2="231.84" stroke="#000" stroke-width="1.35"/>
<text x="410.80" y="234.33" font-size="5.6" text-anchor="end" font-weight="normal" fill="#000" stroke="#000" stroke-width="0.3">60</text>
<line x1="411.30" y1="219.32" x2="413.20" y2="219.32" stroke="#000" stroke-width="1.35"/>
<text x="410.80" y="221.81" font-size="5.6" text-anchor="end" font-weight="normal" fill="#000" stroke="#000" stroke-width="0.3">80</text>
<line x1="411.30" y1="206.80" x2="413.20" y2="206.80" stroke="#000" stroke-width="1.35"/>
<text x="410.80" y="209.29" font-size="5.6" text-anchor="end" font-weight="normal" fill="#000" stroke="#000" stroke-width="0.3">100</text>
<line x1="412.45" y1="269.40" x2="506.50" y2="269.40" stroke="#000" stroke-width="1.5"/>
<line x1="436.60" y1="269.40" x2="436.60" y2="271.10" stroke="#000" stroke-width="1.35"/>
<line x1="483.10" y1="269.40" x2="483.10" y2="271.10" stroke="#000" stroke-width="1.35"/>
<text x="428.16" y="278.12" font-size="6.0" font-weight="normal" fill="#000" textLength="16.58" lengthAdjust="spacingAndGlyphs" stroke="#000" stroke-width="0.3">Naive</text>
<text x="474.25" y="278.00" font-size="6.0" font-weight="normal" fill="#000" textLength="17.76" lengthAdjust="spacingAndGlyphs" stroke="#000" stroke-width="0.3">C1498</text>
<text x="389.27" y="260.01" font-size="6.0" font-weight="normal" fill="#000" transform="rotate(-90 389.27 260.01)" textLength="48.54" lengthAdjust="spacingAndGlyphs" stroke="#000" stroke-width="0.3">Percent divided of</text>
<text x="397.27" y="251.77" font-size="6.0" font-weight="normal" fill="#000" transform="rotate(-90 397.27 251.77)" textLength="29.73" lengthAdjust="spacingAndGlyphs" stroke="#000" stroke-width="0.3">CD8<tspan font-size="3.8" dy="-2">+</tspan><tspan dy="2"> cells</tspan></text>
<line x1="420.60" y1="211.70" x2="451.40" y2="211.70" stroke="#000" stroke-width="1.05"/>
<circle cx="427.00" cy="211.50" r="1.7" fill="#000"/>
<circle cx="432.00" cy="212.00" r="1.7" fill="#000"/>
<circle cx="436.60" cy="212.20" r="1.7" fill="#000"/>
<circle cx="441.00" cy="212.00" r="1.7" fill="#000"/>
<circle cx="446.00" cy="211.80" r="1.7" fill="#000"/>
<line x1="467.10" y1="226.30" x2="499.10" y2="226.30" stroke="#000" stroke-width="1.05"/>
<rect x="473.29" y="223.29" width="3.42" height="3.42" fill="#000"/>
<circle cx="479.00" cy="226.50" r="1.8" fill="#000"/>
<circle cx="483.00" cy="227.20" r="1.8" fill="#000"/>
<circle cx="487.00" cy="226.80" r="1.8" fill="#000"/>
<rect x="490.79" y="224.29" width="3.42" height="3.42" fill="#000"/>
<line x1="436.60" y1="204.80" x2="483.10" y2="204.80" stroke="#000" stroke-width="1.0"/>
<line x1="436.60" y1="203.40" x2="436.60" y2="206.20" stroke="#000" stroke-width="1.0"/>
<line x1="483.10" y1="203.40" x2="483.10" y2="206.20" stroke="#000" stroke-width="1.0"/>
<circle cx="460.10" cy="202.00" r="1.35" fill="#000"/>
<rect x="29.8" y="200.7" width="61.40" height="61.40" fill="none" stroke="#8f8f8f" stroke-width="0.9"/>
<line x1="29.80" y1="200.70" x2="29.80" y2="262.10" stroke="#777" stroke-width="0.9" stroke-dasharray="0.6 0.6"/>
<line x1="61.80" y1="200.70" x2="61.80" y2="262.10" stroke="#999" stroke-width="0.6" stroke-dasharray="1.5 1.1"/>
<line x1="28.80" y1="261.90" x2="29.80" y2="261.90" stroke="#555" stroke-width="0.5"/>
<text x="27.60" y="263.05" font-size="3.2" text-anchor="end" font-weight="bold" fill="#000">0</text>
<line x1="28.80" y1="250.26" x2="29.80" y2="250.26" stroke="#555" stroke-width="0.5"/>
<text x="27.60" y="251.41" font-size="3.2" text-anchor="end" font-weight="bold" fill="#000">20</text>
<line x1="28.80" y1="238.62" x2="29.80" y2="238.62" stroke="#555" stroke-width="0.5"/>
<text x="27.60" y="239.77" font-size="3.2" text-anchor="end" font-weight="bold" fill="#000">40</text>
<line x1="28.80" y1="226.98" x2="29.80" y2="226.98" stroke="#555" stroke-width="0.5"/>
<text x="27.60" y="228.13" font-size="3.2" text-anchor="end" font-weight="bold" fill="#000">60</text>
<line x1="28.80" y1="215.34" x2="29.80" y2="215.34" stroke="#555" stroke-width="0.5"/>
<text x="27.60" y="216.49" font-size="3.2" text-anchor="end" font-weight="bold" fill="#000">80</text>
<line x1="28.80" y1="203.70" x2="29.80" y2="203.70" stroke="#555" stroke-width="0.5"/>
<text x="27.60" y="204.85" font-size="3.2" text-anchor="end" font-weight="bold" fill="#000">100</text>
<text x="36.40" y="267.60" font-size="3.2" text-anchor="middle" font-weight="bold" fill="#000">0</text>
<text x="42.30" y="267.60" font-size="3.2" text-anchor="middle" font-weight="bold" fill="#000">10<tspan font-size="2.3" dy="-1.3">2</tspan></text>
<text x="56.80" y="267.60" font-size="3.2" text-anchor="middle" font-weight="bold" fill="#000">10<tspan font-size="2.3" dy="-1.3">3</tspan></text>
<text x="71.30" y="267.60" font-size="3.2" text-anchor="middle" font-weight="bold" fill="#000">10<tspan font-size="2.3" dy="-1.3">4</tspan></text>
<text x="86.40" y="267.60" font-size="3.2" text-anchor="middle" font-weight="bold" fill="#000">10<tspan font-size="2.3" dy="-1.3">5</tspan></text>
<text x="18.75" y="244.12" font-size="6.2" font-weight="normal" fill="#000" transform="rotate(-90 18.75 244.12)" textLength="24.96" lengthAdjust="spacingAndGlyphs" stroke="#000" stroke-width="0.45" stroke-linejoin="round">% of Max</text>
<text x="53.14" y="278.45" font-size="6.4" font-weight="normal" fill="#000" textLength="12.86" lengthAdjust="spacingAndGlyphs" stroke="#000" stroke-width="0.45" stroke-linejoin="round">CFSE</text>
<path d="M29.81 261.54C31.16 261.54 35.98 261.75 37.93 261.54C39.88 261.33 40.49 260.78 41.54 260.27C42.59 259.76 43.35 259.37 44.25 258.47C45.15 257.57 46.20 255.76 46.95 254.86C47.70 253.96 48.16 253.05 48.76 253.05C49.36 253.05 49.96 254.26 50.56 254.86C51.16 255.46 51.62 256.06 52.37 256.66C53.12 257.26 54.18 258.17 55.08 258.47C55.98 258.77 56.88 258.92 57.78 258.47C58.68 258.02 59.74 257.26 60.49 255.76C61.24 254.25 61.70 251.25 62.3 249.44C62.90 247.63 63.50 246.58 64.1 244.93C64.70 243.28 65.31 241.62 65.91 239.52C66.51 237.42 67.17 235.31 67.71 232.3C68.25 229.29 68.71 224.18 69.16 221.47C69.61 218.76 70.00 218.46 70.42 216.05C70.84 213.64 71.29 207.03 71.68 207.03C72.07 207.03 72.38 212.14 72.77 216.05C73.16 219.96 73.61 226.58 74.03 230.49C74.45 234.40 74.84 237.11 75.29 239.52C75.74 241.93 76.20 242.83 76.74 244.93C77.28 247.03 77.79 250.04 78.54 252.15C79.29 254.26 80.20 256.22 81.25 257.57C82.30 258.92 83.51 259.61 84.86 260.27C86.21 260.93 88.32 261.33 89.37 261.54C90.42 261.75 90.88 261.54 91.18 261.54Z" stroke="#999" stroke-width="0.4" fill="#bdbdbd"/>
<path d="M29.81 261.54L30.65 261.54L31.85 261.56L32.54 261.57L33.25 261.59L33.98 261.60L34.69 261.58L35.37 261.56L36.00 261.58L37.03 261.53L37.75 261.46L38.53 261.40L39.23 261.15L39.97 260.76L40.44 260.27L40.91 259.74L41.14 258.94L41.55 258.48L42.11 258.00L42.30 257.30L42.70 256.62L43.00 255.84L42.84 254.83L43.44 253.99L43.76 252.99L43.85 251.86L43.83 250.64L44.47 250.16L44.56 249.52L44.88 248.90L45.23 248.27L45.36 247.55L45.66 246.84L45.48 245.99L45.78 245.18L45.73 244.26L46.17 243.40L46.43 242.48L46.02 241.43L45.92 240.43L46.01 239.46L46.71 238.60L46.72 237.66L46.94 236.78L46.85 235.90L47.03 235.07L47.09 234.20L47.14 233.33L47.41 232.50L47.60 231.66L48.00 230.88L48.08 230.08L48.36 229.36L48.49 228.66L48.70 228.05L48.68 226.96L48.34 226.11L48.79 225.58L48.81 225.57L48.81 225.98L49.20 226.47L49.40 227.24L49.93 227.80L49.79 228.61L50.00 229.41L50.41 230.18L50.87 230.93L50.55 231.79L50.35 232.62L51.02 233.30L50.87 234.13L51.18 234.85L51.64 235.50L51.86 236.15L51.74 236.90L51.74 237.61L52.48 237.98L52.56 238.64L53.14 239.09L53.03 239.82L53.37 240.38L53.23 241.10L53.18 241.79L53.62 242.31L53.57 243.00L54.17 243.47L54.76 243.94L54.77 244.61L55.31 245.10L55.56 245.69L55.62 246.35L55.59 247.04L56.01 247.67L56.40 248.35L56.03 249.18L56.36 249.72L56.38 250.62L57.39 250.63L57.67 249.78L58.02 249.21L58.43 248.62L58.94 248.03L59.40 247.42L59.86 246.77L60.38 246.20L61.02 245.89L61.40 245.24L61.79 244.61L62.39 244.13L62.50 243.46L62.74 242.89L63.46 242.57L63.63 241.91L63.94 241.18L63.84 240.40L64.24 239.81L64.74 239.16L64.61 238.47L65.10 237.96L65.46 237.35L65.31 236.55L65.77 235.85L65.99 235.02L66.38 234.13L66.44 233.03L66.87 231.89L67.11 231.29L66.73 230.56L66.63 229.87L67.13 229.30L67.66 228.75L67.43 228.06L67.54 227.45L67.88 226.32L67.97 225.13L68.18 223.96L68.37 222.84L68.62 221.81L69.03 220.95L69.09 220.17L69.33 219.43L69.91 218.87L69.69 218.09L70.02 217.49L70.38 216.78L70.28 215.92L70.21 215.00L70.70 214.06L70.56 212.98L70.52 211.78L70.71 211.06L71.05 210.27L70.78 209.37L70.86 208.49L70.95 207.62L71.44 206.83L71.40 206.06L71.75 205.44L71.51 204.43L72.05 204.72L71.97 205.70L71.79 206.98L72.05 207.67L72.38 208.39L72.66 209.13L72.51 209.90L72.73 210.61L72.38 211.40L72.21 212.23L72.68 213.07L72.86 213.97L72.56 214.93L72.57 215.90L72.48 216.88L72.83 217.83L73.21 218.77L73.30 219.70L72.98 220.62L73.27 221.46L73.39 222.29L73.43 223.13L73.49 223.97L73.56 224.80L73.23 225.66L73.71 226.42L74.11 227.16L73.60 227.96L73.44 228.70L73.31 229.39L73.72 229.96L73.63 231.08L73.68 232.11L74.33 232.94L74.32 233.70L74.93 234.54L75.41 233.47L75.37 232.78L75.21 232.02L75.22 231.20L75.18 230.34L75.08 229.48L75.49 228.73L75.50 228.01L76.03 227.13L76.50 227.15L76.16 228.08L76.20 229.17L76.04 229.80L76.01 230.44L76.02 231.10L76.32 231.72L76.95 232.28L76.72 232.94L77.10 233.59L77.22 234.32L77.03 235.11L77.09 235.90L77.24 236.69L76.94 237.54L77.08 238.34L77.41 239.11L77.69 239.86L77.38 240.64L77.56 241.33L77.45 242.03L77.78 242.67L78.10 243.31L78.03 243.98L77.81 244.66L78.25 245.25L78.01 245.90L77.90 247.09L78.02 248.14L78.13 249.05L78.89 249.67L78.84 250.31L78.78 251.17L79.53 251.79L79.82 252.34L80.13 252.91L80.26 253.59L80.57 254.19L80.85 254.82L80.94 255.54L81.68 255.94L82.15 256.53L82.47 257.19L82.73 257.83L82.97 258.41L82.84 259.19L83.36 259.82L84.14 259.86L84.83 260.03L85.55 260.13L86.24 260.35L86.91 260.61L87.57 260.92L88.24 261.13L88.95 261.27L89.74 261.36L90.48 261.44L91.18 261.51L91.18 261.54" stroke="#000" stroke-width="1.25" fill="none" stroke-linejoin="round"/>
<path d="M39.73 261.18L40.20 260.66L40.60 260.15L41.13 259.65L41.58 259.06L41.97 258.47L42.45 258.08L43.31 257.65L43.96 257.05L44.51 256.39L44.75 255.52L45.26 254.86L45.59 254.10L45.90 253.35L46.20 252.63L46.60 251.91L47.37 251.39L47.86 250.83L48.32 250.27L48.67 249.89L49.12 249.50L49.65 249.91L49.90 250.57L50.22 251.29L50.44 251.95L50.74 252.62L51.53 253.01L51.87 253.75L52.24 254.53L52.76 255.20L53.40 255.65L53.80 256.19L54.37 256.44L54.73 257.21L55.38 257.53L56.04 257.25L56.56 256.76L57.29 256.75L57.88 256.38L58.56 256.20L59.14 255.96L59.67 255.47L60.16 254.89L60.64 254.45L61.00 253.82L61.10 253.18L61.33 252.50L61.85 251.74L61.66 251.05L61.64 250.35L62.08 249.75L62.21 249.04L62.55 248.33L62.82 247.56L63.00 246.75L63.62 246.09L63.56 245.26L63.77 244.57L63.85 243.91L64.25 243.40L64.33 242.79L64.53 242.21L64.96 241.67L65.03 240.96L65.31 240.32L65.77 239.72L65.61 238.89L65.61 238.06L65.82 237.20L66.38 236.30L66.69 235.21L66.61 234.58L66.69 233.96L66.69 233.31L66.93 232.70L66.85 232.03L67.28 231.45L67.69 230.87L67.98 230.28L68.05 229.66L68.30 229.06L67.90 228.29L67.94 227.58L68.45 226.96L68.66 226.27L68.61 225.55L68.98 224.93L69.02 224.29L69.32 223.22L69.19 222.38L69.16 222.37" stroke="#000" stroke-width="1.15" fill="none" stroke-linejoin="round"/>
<rect x="28.4" y="286.8" width="62.60" height="61.20" fill="none" stroke="#8f8f8f" stroke-width="0.9"/>
<line x1="28.40" y1="286.80" x2="28.40" y2="348.00" stroke="#777" stroke-width="0.9" stroke-dasharray="0.6 0.6"/>
<line x1="73.40" y1="286.80" x2="73.40" y2="348.00" stroke="#999" stroke-width="0.6" stroke-dasharray="1.5 1.1"/>
<line x1="27.40" y1="348.30" x2="28.40" y2="348.30" stroke="#555" stroke-width="0.5"/>
<text x="26.00" y="349.45" font-size="3.2" text-anchor="end" font-weight="bold" fill="#000">0</text>
<line x1="27.40" y1="336.62" x2="28.40" y2="336.62" stroke="#555" stroke-width="0.5"/>
<text x="26.00" y="337.77" font-size="3.2" text-anchor="end" font-weight="bold" fill="#000">20</text>
<line x1="27.40" y1="324.94" x2="28.40" y2="324.94" stroke="#555" stroke-width="0.5"/>
<text x="26.00" y="326.09" font-size="3.2" text-anchor="end" font-weight="bold" fill="#000">40</text>
<line x1="27.40" y1="313.26" x2="28.40" y2="313.26" stroke="#555" stroke-width="0.5"/>
<text x="26.00" y="314.41" font-size="3.2" text-anchor="end" font-weight="bold" fill="#000">60</text>
<line x1="27.40" y1="301.58" x2="28.40" y2="301.58" stroke="#555" stroke-width="0.5"/>
<text x="26.00" y="302.73" font-size="3.2" text-anchor="end" font-weight="bold" fill="#000">80</text>
<line x1="27.40" y1="289.90" x2="28.40" y2="289.90" stroke="#555" stroke-width="0.5"/>
<text x="26.00" y="291.05" font-size="3.2" text-anchor="end" font-weight="bold" fill="#000">100</text>
<text x="31.80" y="354.00" font-size="3.2" text-anchor="middle" font-weight="bold" fill="#000">0</text>
<text x="43.50" y="354.00" font-size="3.2" text-anchor="middle" font-weight="bold" fill="#000">10<tspan font-size="2.3" dy="-1.3">2</tspan></text>
<text x="57.60" y="354.00" font-size="3.2" text-anchor="middle" font-weight="bold" fill="#000">10<tspan font-size="2.3" dy="-1.3">3</tspan></text>
<text x="70.60" y="354.00" font-size="3.2" text-anchor="middle" font-weight="bold" fill="#000">10<tspan font-size="2.3" dy="-1.3">4</tspan></text>
<text x="85.20" y="354.00" font-size="3.2" text-anchor="middle" font-weight="bold" fill="#000">10<tspan font-size="2.3" dy="-1.3">5</tspan></text>
<text x="14.55" y="335.35" font-size="6.2" font-weight="normal" fill="#000" transform="rotate(-90 14.55 335.35)" textLength="28.31" lengthAdjust="spacingAndGlyphs" stroke="#000" stroke-width="0.45" stroke-linejoin="round">% of Max</text>
<text x="52.87" y="365.45" font-size="6.4" font-weight="normal" fill="#000" textLength="11.82" lengthAdjust="spacingAndGlyphs" stroke="#000" stroke-width="0.45" stroke-linejoin="round">CFSE</text>
<path d="M77.01 348.01C77.20 347.69 77.80 348.01 78.15 346.1C78.50 344.19 78.79 342.28 79.11 336.54C79.43 330.80 79.75 319.33 80.07 311.68C80.39 304.03 80.73 292.24 81.02 290.65C81.31 289.06 81.50 297.02 81.79 302.12C82.08 307.22 82.39 315.82 82.74 321.24C83.09 326.66 83.47 331.12 83.89 334.63C84.31 338.13 84.69 340.10 85.23 342.27C85.77 344.44 86.66 346.67 87.14 347.63C87.62 348.59 87.94 347.95 88.1 348.01Z" stroke="#999" stroke-width="0.4" fill="#b5b5b5"/>
<path d="M28.00 348.12L28.80 347.95L29.94 347.74L30.59 347.62L31.28 347.49L31.97 347.34L32.68 347.20L33.34 346.95L33.98 346.76L34.59 346.62L35.59 346.18L36.50 345.74L37.20 345.05L37.92 344.45L38.52 343.75L39.19 343.12L39.81 342.44L40.15 341.58L40.57 340.77L40.99 339.95L41.62 339.19L42.09 338.34L42.35 337.35L42.94 336.44L43.24 335.33L43.79 334.35L44.10 333.32L44.40 332.41L45.03 331.84L45.25 331.22L45.65 330.52L46.28 330.13L46.78 329.62L47.08 328.96L47.65 328.59L48.04 327.98L48.50 327.26L48.64 326.60L49.12 326.06L49.41 325.38L49.82 324.65L50.14 323.81L50.22 322.79L50.44 321.69L50.48 321.08L50.56 320.46L50.66 319.81L50.87 319.18L51.17 318.55L51.16 317.84L51.49 317.20L51.59 316.50L51.69 315.81L52.01 315.15L52.09 314.45L52.12 313.73L52.25 313.01L52.46 312.29L52.36 311.52L52.72 310.80L52.57 310.02L52.83 309.28L53.05 308.54L52.88 307.76L53.14 307.03L53.16 306.28L53.29 305.53L53.19 304.74L53.19 303.95L53.30 303.16L53.70 302.41L53.65 301.61L53.89 300.86L54.12 300.13L54.28 299.41L54.16 298.69L54.14 298.02L54.24 297.41L54.48 296.29L54.39 295.22L54.64 294.29L54.84 293.46L55.03 292.75L54.88 292.07L55.31 291.50L55.57 290.82L56.18 290.47L56.84 290.53L57.41 290.90L57.99 291.05L58.25 291.64L58.58 292.25L58.97 293.09L59.20 293.75L59.45 294.46L59.71 295.20L59.92 295.97L59.91 296.84L59.90 297.75L60.32 298.60L60.69 299.49L60.61 300.50L60.84 301.46L61.11 302.45L61.41 303.46L61.53 304.53L61.60 305.61L61.89 306.65L62.16 307.67L62.56 308.65L62.55 309.72L63.00 310.69L63.18 311.74L63.25 312.84L63.68 313.91L63.78 315.11L63.74 315.74L63.91 316.34L63.99 316.95L64.36 317.51L64.48 318.12L64.70 318.70L64.60 319.33L64.93 320.45L65.14 321.55L65.13 322.66L65.29 323.72L65.41 324.76L65.78 325.72L66.06 326.68L66.20 327.63L66.46 328.52L66.76 329.37L66.97 330.23L67.29 331.07L67.49 331.95L67.50 332.92L67.65 333.87L68.01 334.75L68.40 335.62L68.82 336.46L69.29 337.23L69.64 338.04L69.83 338.92L70.09 339.76L70.60 340.44L70.92 341.18L71.30 341.84L71.72 342.40L72.14 342.89L72.54 343.37L73.09 343.68L73.52 344.12L74.12 344.37L74.71 344.73L75.35 345.15L76.06 345.46L76.80 345.63L77.42 345.94L78.23 346.10L78.96 346.04L79.49 345.70L80.18 345.51L80.76 345.22L81.42 345.03L82.02 344.82L82.73 344.94L83.34 345.21L83.92 345.65L84.57 346.09L84.92 346.62L85.33 347.17L85.93 347.61L86.51 347.78L87.31 347.90L88.24 347.96L89.19 347.98L90.07 347.98L90.76 347.99L91.00 348.00" stroke="#000" stroke-width="1.25" fill="none" stroke-linejoin="round"/>
<path d="M28.00 348.12L28.80 348.00L29.94 347.85L30.59 347.75L31.27 347.64L31.96 347.51L32.66 347.41L33.34 347.29L33.98 347.18L34.57 347.02L35.57 346.76L36.42 346.39L37.24 346.10L37.98 345.75L38.61 345.28L39.24 344.83L39.86 344.38L40.25 343.72L40.74 343.17L41.26 342.63L41.53 341.92L42.05 341.39L42.50 340.81L43.01 340.24L43.32 339.53L43.61 338.81L44.21 338.33L44.73 337.84L45.10 337.26L45.43 336.66L45.86 336.17L46.43 335.85L46.82 335.39L47.60 334.91L48.08 334.31L48.39 333.68L48.88 333.10L49.10 332.50L49.57 331.82L49.96 330.96L50.16 329.93L50.45 328.83L50.77 327.67L50.96 327.07L51.19 326.47L51.01 325.77L51.10 325.12L51.31 324.47L51.36 323.77L51.55 323.07L51.51 322.32L51.86 321.62L51.95 320.86L51.89 320.07L52.14 319.31L52.17 318.51L52.20 317.70L52.38 316.90L52.39 316.06L52.48 315.19L52.84 314.34L53.01 313.44L52.87 312.50L53.16 311.60L53.05 310.65L53.18 309.74L53.51 308.86L53.62 307.98L53.59 307.11L53.65 306.27L53.72 305.46L53.69 304.65L54.06 303.89L53.91 303.08L54.01 302.32L54.23 301.57L54.23 300.83L54.50 300.12L54.38 299.40L54.64 298.73L54.78 298.08L54.79 297.43L54.92 296.81L54.85 296.17L55.00 295.57L55.09 294.97L55.13 293.83L55.20 292.79L55.42 291.93L55.50 291.22L55.64 290.46L56.28 290.27L56.98 290.33L57.46 290.75L57.84 291.44L58.32 291.89L58.77 292.48L59.11 293.22L59.26 294.11L59.48 294.71L59.75 295.32L59.92 295.99L59.95 296.75L60.34 297.44L60.60 298.26L60.68 299.21L60.95 300.25L61.36 301.41L61.48 302.03L61.61 302.67L61.88 303.28L61.98 303.92L62.13 304.54L62.08 305.18L62.44 306.27L62.63 307.29L62.74 308.28L62.96 309.19L63.40 309.98L63.66 310.81L64.02 311.59L64.27 312.38L64.47 313.17L64.56 313.95L64.64 314.71L65.02 315.36L65.41 315.98L65.50 316.61L65.82 317.38L66.09 318.15L65.99 318.83L66.29 319.53L66.32 320.44L66.60 321.40L66.63 322.49L66.81 323.59L67.34 324.65L67.69 325.74L67.71 326.94L67.86 327.53L68.07 328.11L68.12 328.74L68.20 329.37L68.44 329.96L68.65 330.55L68.97 331.10L69.11 331.70L69.51 332.81L69.69 333.96L69.97 335.08L70.47 336.10L70.72 337.17L71.23 338.10L71.66 338.99L71.87 339.93L72.23 340.77L72.45 341.63L72.85 342.36L73.23 343.02L73.80 343.46L74.09 344.04L74.86 344.38L75.45 344.83L75.99 345.26L76.49 345.63L77.10 346.02L77.70 346.26L78.35 346.58L78.93 346.82L79.67 346.76L80.30 346.62L80.98 346.39L81.61 346.11L82.35 346.09L83.01 346.19L83.67 346.42L84.32 346.81L84.94 347.31L85.46 347.72L86.20 348.00L86.91 348.11L87.79 348.16L88.74 348.19L89.66 348.19L90.45 348.19L91.00 348.20" stroke="#222" stroke-width="1.05" fill="none" stroke-linejoin="round"/>
<rect x="307.2" y="112.2" width="61.90" height="62.30" fill="none" stroke="#8f8f8f" stroke-width="0.9"/>
<line x1="307.20" y1="112.20" x2="307.20" y2="174.50" stroke="#777" stroke-width="0.9" stroke-dasharray="0.6 0.6"/>
<line x1="355.40" y1="112.20" x2="355.40" y2="174.50" stroke="#999" stroke-width="0.6" stroke-dasharray="1.5 1.1"/>
<line x1="306.20" y1="174.10" x2="307.20" y2="174.10" stroke="#555" stroke-width="0.5"/>
<text x="305.00" y="175.25" font-size="3.2" text-anchor="end" font-weight="bold" fill="#000">0</text>
<line x1="306.20" y1="162.30" x2="307.20" y2="162.30" stroke="#555" stroke-width="0.5"/>
<text x="305.00" y="163.45" font-size="3.2" text-anchor="end" font-weight="bold" fill="#000">20</text>
<line x1="306.20" y1="150.50" x2="307.20" y2="150.50" stroke="#555" stroke-width="0.5"/>
<text x="305.00" y="151.65" font-size="3.2" text-anchor="end" font-weight="bold" fill="#000">40</text>
<line x1="306.20" y1="138.70" x2="307.20" y2="138.70" stroke="#555" stroke-width="0.5"/>
<text x="305.00" y="139.85" font-size="3.2" text-anchor="end" font-weight="bold" fill="#000">60</text>
<line x1="306.20" y1="126.90" x2="307.20" y2="126.90" stroke="#555" stroke-width="0.5"/>
<text x="305.00" y="128.05" font-size="3.2" text-anchor="end" font-weight="bold" fill="#000">80</text>
<line x1="306.20" y1="115.10" x2="307.20" y2="115.10" stroke="#555" stroke-width="0.5"/>
<text x="305.00" y="116.25" font-size="3.2" text-anchor="end" font-weight="bold" fill="#000">100</text>
<text x="311.60" y="180.40" font-size="3.2" text-anchor="middle" font-weight="bold" fill="#000">-10<tspan font-size="2.3" dy="-1.3">2</tspan></text>
<text x="326.70" y="180.40" font-size="3.2" text-anchor="middle" font-weight="bold" fill="#000">10<tspan font-size="2.3" dy="-1.3">2</tspan></text>
<text x="339.40" y="180.40" font-size="3.2" text-anchor="middle" font-weight="bold" fill="#000">10<tspan font-size="2.3" dy="-1.3">3</tspan></text>
<text x="352.20" y="180.40" font-size="3.2" text-anchor="middle" font-weight="bold" fill="#000">10<tspan font-size="2.3" dy="-1.3">4</tspan></text>
<text x="363.80" y="180.40" font-size="3.2" text-anchor="middle" font-weight="bold" fill="#000">10<tspan font-size="2.3" dy="-1.3">5</tspan></text>
<text x="295.65" y="156.41" font-size="6.2" font-weight="normal" fill="#000" transform="rotate(-90 295.65 156.41)" textLength="24.45" lengthAdjust="spacingAndGlyphs" stroke="#000" stroke-width="0.45" stroke-linejoin="round">% of Max</text>
<text x="331.27" y="188.95" font-size="6.4" font-weight="normal" fill="#000" textLength="11.61" lengthAdjust="spacingAndGlyphs" stroke="#000" stroke-width="0.45" stroke-linejoin="round">CFSE</text>
<path d="M354.82 174.1C355.15 173.19 356.28 171.05 356.83 168.61C357.38 166.17 357.68 163.72 358.11 159.45C358.54 155.18 359.00 148.77 359.4 142.97C359.80 137.17 360.19 129.23 360.49 124.65C360.80 120.07 360.99 115.80 361.23 115.49C361.48 115.18 361.65 118.85 361.96 122.82C362.26 126.79 362.69 134.42 363.06 139.3C363.43 144.18 363.76 148.15 364.16 152.12C364.56 156.09 364.98 160.06 365.44 163.11C365.90 166.16 366.44 168.61 366.9 170.44C367.36 172.27 367.98 173.49 368.19 174.1Z" stroke="#999" stroke-width="0.4" fill="#b5b5b5"/>
<path d="M332.47 174.10L333.15 174.06L333.79 174.02L334.49 173.99L335.20 173.90L335.85 173.80L336.64 173.56L337.32 173.22L337.98 172.86L338.58 172.34L339.27 171.80L339.65 171.27L340.05 170.73L340.57 170.28L341.21 169.98L341.53 169.40L342.19 168.81L342.98 168.45L343.79 168.23L344.44 167.81L345.09 167.44L345.87 167.46L346.47 166.96L347.18 166.88L347.62 166.32L347.98 165.68L348.36 165.10L349.00 164.67L349.72 164.81L350.47 164.82L350.95 165.24L351.43 165.74L351.99 166.00L352.58 166.44L353.27 166.53L353.80 166.45L354.32 166.34L355.02 166.15L355.47 165.62L355.89 164.94L356.29 164.48L356.59 163.85L356.81 163.07L357.28 162.22L357.60 161.22L357.67 160.09L357.85 159.51L357.98 158.88L358.27 158.24L358.40 157.52L358.32 156.71L358.66 155.89L358.48 154.94L358.59 153.95L358.86 152.88L358.77 151.68L358.94 150.41L358.86 149.05L359.18 147.67L359.44 146.24L359.53 144.76L359.78 143.29L359.68 141.79L359.86 140.32L359.95 138.88L360.04 137.48L360.06 136.06L360.30 134.61L360.51 133.11L360.43 131.58L360.52 130.05L360.31 128.54L360.55 127.08L360.68 125.67L360.95 124.35L361.03 123.12L360.84 121.98L360.83 120.99L360.98 120.12L360.77 119.30L360.90 118.58L360.85 117.92L360.85 116.84L360.88 116.03L361.43 115.44L361.83 116.20L361.96 117.07L362.03 118.19L361.83 118.85L362.15 119.51L362.17 120.23L362.17 120.99L362.05 121.82L362.06 122.72L362.09 123.71L362.43 124.72L362.58 125.81L362.73 126.94L362.61 128.11L362.55 129.29L362.96 130.43L363.21 131.57L363.35 132.70L363.47 133.79L363.46 134.87L363.46 135.97L363.67 137.05L363.95 138.12L363.95 139.23L364.02 140.32L364.02 141.41L363.89 142.51L364.01 143.57L364.20 144.61L364.31 145.64L364.38 146.64L364.77 147.59L364.61 148.58L364.65 149.53L364.67 150.46L364.77 151.37L365.07 152.25L365.26 153.13L365.56 154.00L365.51 154.91L365.81 155.78L366.01 156.67L366.11 157.58L366.23 158.52L366.27 159.50L366.48 160.48L366.67 161.47L366.76 162.48L366.88 163.47L366.88 164.45L367.10 165.37L366.87 166.31L366.95 167.16L367.27 167.89L367.46 168.57L367.58 169.19L367.88 170.27L368.27 171.13L368.43 171.94L368.67 172.57L369.07 173.20L369.10 173.19" stroke="#222" stroke-width="0.8" fill="none" stroke-linejoin="round"/>
<path d="M307.20 174.10L308.23 174.06L308.92 174.05L309.70 174.01L310.55 173.99L311.42 173.94L312.31 173.91L313.18 173.90L314.01 173.85L314.77 173.82L315.44 173.78L316.43 173.70L317.12 173.64L317.79 173.53L318.41 173.37L319.07 172.95L319.65 172.46L319.99 171.93L320.40 171.26L320.73 170.72L321.27 170.18L321.48 169.41L321.61 168.55L321.90 167.67L322.53 166.82L322.57 165.68L323.00 164.54L323.10 163.91L323.36 163.30L323.41 162.63L323.68 162.01L323.80 161.35L324.01 160.72L324.31 160.13L324.38 159.49L324.29 158.81L324.29 158.13L324.78 157.55L324.90 156.88L324.90 156.18L325.33 155.59L325.45 154.94L325.65 154.33L325.90 153.76L325.96 152.61L326.13 151.67L326.56 150.99L326.53 150.30L326.99 149.57L327.08 148.70L327.47 148.15L327.80 147.52L328.20 146.89L328.48 146.24L328.59 145.59L328.75 144.76L329.12 144.04L329.81 143.77L330.37 144.25L330.77 144.89L330.73 145.64L331.22 145.42L331.56 144.51L331.56 143.71L331.66 142.92L331.72 142.20L332.10 141.49L332.44 140.83L332.99 140.21L333.68 140.26L333.85 140.96L334.04 141.76L334.60 142.38L334.93 142.93L335.42 143.53L335.62 144.34L335.64 145.14L336.04 145.76L336.05 146.57L336.35 147.31L336.69 147.87L336.76 148.46L336.97 147.74L337.00 147.13L337.22 146.51L337.33 145.89L337.67 145.22L338.02 144.66L338.36 144.05L338.77 143.29L338.89 142.58L338.97 141.73L339.11 140.80L339.30 139.83L339.69 138.87L339.91 137.91L340.33 137.02L340.48 136.08L340.74 135.16L341.08 134.26L340.91 133.28L340.90 132.35L341.07 131.49L341.38 130.71L341.74 129.99L342.11 129.29L342.22 128.52L342.66 127.83L342.51 126.99L342.89 126.30L342.86 125.52L343.22 124.82L343.07 124.00L343.52 123.26L343.74 122.40L344.05 121.35L344.11 120.17L344.04 119.01L344.47 118.13L344.51 117.52L344.97 117.50L345.05 118.20L345.22 119.00L345.41 119.86L345.74 120.61L346.01 121.21L346.03 121.83L346.30 122.68L346.63 123.23L346.73 123.90L346.72 124.66L346.78 125.51L346.97 126.45L347.15 127.45L347.31 128.44L347.52 129.35L347.72 130.10L347.79 130.71L348.18 131.33L348.26 132.00L348.43 132.67L348.63 133.43L349.08 134.13L349.22 135.00L349.29 135.71L349.57 136.52L349.39 137.60L349.50 138.79L349.68 139.41L349.73 140.07L350.04 140.70L350.23 141.35L350.23 142.02L350.17 142.68L350.23 143.31L350.67 144.42L350.66 145.52L350.55 146.59L350.63 147.62L350.64 148.68L350.70 149.77L351.17 150.88L351.38 151.47L351.41 152.10L351.26 152.76L351.52 153.38L351.43 154.05L351.48 154.69L351.71 155.30L351.82 155.92L351.77 156.54L351.98 157.67L352.41 158.68L352.48 159.73L352.93 160.64L353.18 161.53L353.14 162.42L353.29 163.19L353.71 163.76L354.13 164.51L354.37 165.19L354.57 165.80L355.05 166.40L355.54 166.95L356.34 167.03L357.10 166.60L357.56 165.83L357.78 164.96L357.96 164.27L358.18 163.49L358.41 162.60L358.77 161.66L358.79 160.56L358.81 159.41L359.14 158.85L359.14 158.19L359.26 157.50L359.24 156.77L359.61 156.08L359.60 155.32L359.65 154.57L359.97 153.87L360.04 153.15L360.02 152.44L360.35 151.83L360.34 151.21L360.45 150.08L360.88 149.07L361.10 148.10L361.28 147.22L361.23 146.38L361.55 145.75L361.80 144.93L362.14 144.41L362.41 143.91L362.74 144.50L362.94 145.26L363.28 145.79L363.42 146.39L363.62 147.22L363.75 148.10L363.90 148.69L364.13 149.31L364.63 149.91L364.76 150.69L364.88 151.52L365.31 152.33L365.44 153.26L365.41 154.27L365.46 155.31L365.57 156.40L366.11 157.53L366.14 158.17L366.07 158.83L366.19 159.47L366.45 160.10L366.76 160.71L366.54 161.38L366.50 162.01L366.72 163.14L367.06 164.17L367.10 165.21L367.22 166.19L367.41 167.09L367.66 167.91L368.01 168.61L368.29 169.23L368.52 169.79L368.84 170.49L369.02 171.07L369.10 171.36" stroke="#000" stroke-width="1.25" fill="none" stroke-linejoin="round"/>
<rect x="304.2" y="205.7" width="62.20" height="61.70" fill="none" stroke="#8f8f8f" stroke-width="0.9"/>
<line x1="304.20" y1="205.70" x2="304.20" y2="267.40" stroke="#777" stroke-width="0.9" stroke-dasharray="0.6 0.6"/>
<line x1="352.30" y1="205.70" x2="352.30" y2="267.40" stroke="#999" stroke-width="0.6" stroke-dasharray="1.5 1.1"/>
<line x1="303.20" y1="267.60" x2="304.20" y2="267.60" stroke="#555" stroke-width="0.5"/>
<text x="302.00" y="268.75" font-size="3.2" text-anchor="end" font-weight="bold" fill="#000">0</text>
<line x1="303.20" y1="255.78" x2="304.20" y2="255.78" stroke="#555" stroke-width="0.5"/>
<text x="302.00" y="256.93" font-size="3.2" text-anchor="end" font-weight="bold" fill="#000">20</text>
<line x1="303.20" y1="243.96" x2="304.20" y2="243.96" stroke="#555" stroke-width="0.5"/>
<text x="302.00" y="245.11" font-size="3.2" text-anchor="end" font-weight="bold" fill="#000">40</text>
<line x1="303.20" y1="232.14" x2="304.20" y2="232.14" stroke="#555" stroke-width="0.5"/>
<text x="302.00" y="233.29" font-size="3.2" text-anchor="end" font-weight="bold" fill="#000">60</text>
<line x1="303.20" y1="220.32" x2="304.20" y2="220.32" stroke="#555" stroke-width="0.5"/>
<text x="302.00" y="221.47" font-size="3.2" text-anchor="end" font-weight="bold" fill="#000">80</text>
<line x1="303.20" y1="208.50" x2="304.20" y2="208.50" stroke="#555" stroke-width="0.5"/>
<text x="302.00" y="209.65" font-size="3.2" text-anchor="end" font-weight="bold" fill="#000">100</text>
<text x="308.20" y="273.60" font-size="3.2" text-anchor="middle" font-weight="bold" fill="#000">-10<tspan font-size="2.3" dy="-1.3">2</tspan></text>
<text x="324.10" y="273.60" font-size="3.2" text-anchor="middle" font-weight="bold" fill="#000">10<tspan font-size="2.3" dy="-1.3">2</tspan></text>
<text x="336.90" y="273.60" font-size="3.2" text-anchor="middle" font-weight="bold" fill="#000">10<tspan font-size="2.3" dy="-1.3">3</tspan></text>
<text x="348.70" y="273.60" font-size="3.2" text-anchor="middle" font-weight="bold" fill="#000">10<tspan font-size="2.3" dy="-1.3">4</tspan></text>
<text x="361.00" y="273.60" font-size="3.2" text-anchor="middle" font-weight="bold" fill="#000">10<tspan font-size="2.3" dy="-1.3">5</tspan></text>
<text x="294.45" y="250.31" font-size="6.2" font-weight="normal" fill="#000" transform="rotate(-90 294.45 250.31)" textLength="24.55" lengthAdjust="spacingAndGlyphs" stroke="#000" stroke-width="0.45" stroke-linejoin="round">% of Max</text>
<text x="327.04" y="283.00" font-size="6.4" font-weight="normal" fill="#000" textLength="13.06" lengthAdjust="spacingAndGlyphs" stroke="#000" stroke-width="0.45" stroke-linejoin="round">CFSE</text>
<path d="M354.65 267.35C354.95 266.68 356.02 264.91 356.48 263.33C356.94 261.75 357.08 260.89 357.39 257.84C357.69 254.79 358.03 250.53 358.31 245.05C358.59 239.57 358.80 230.73 359.04 224.94C359.28 219.15 359.53 210.62 359.77 210.31C360.01 210.00 360.23 217.32 360.5 223.11C360.77 228.90 361.11 238.96 361.41 245.05C361.72 251.14 362.02 255.95 362.33 259.67C362.63 263.39 363.09 266.07 363.24 267.35Z" stroke="#999" stroke-width="0.4" fill="#b5b5b5"/>
<path d="M304.19 267.17C306.26 267.11 314.10 266.98 316.63 266.8C319.16 266.62 318.61 266.50 319.37 266.07C320.13 265.64 320.59 265.15 321.2 264.24C321.81 263.33 322.41 261.96 323.02 260.59C323.63 259.22 324.30 257.70 324.85 256.02C325.40 254.34 325.85 252.51 326.31 250.53C326.77 248.55 327.22 246.57 327.59 244.13C327.96 241.69 328.20 239.11 328.51 235.91C328.81 232.71 329.12 228.29 329.42 224.94C329.73 221.59 330.10 217.78 330.34 215.8C330.58 213.82 330.67 213.05 330.88 213.05C331.09 213.05 331.38 214.43 331.62 215.8C331.87 217.17 332.11 219.15 332.35 221.28C332.59 223.41 332.81 226.61 333.08 228.59C333.35 230.57 333.62 232.40 333.99 233.16C334.36 233.92 334.81 233.31 335.27 233.16C335.73 233.01 336.24 232.55 336.73 232.25C337.22 231.95 337.74 231.34 338.2 231.34C338.66 231.34 339.05 231.79 339.48 232.25C339.91 232.71 340.37 233.32 340.76 234.08C341.15 234.84 341.46 235.60 341.85 236.82C342.25 238.04 342.70 239.71 343.13 241.39C343.56 243.07 343.95 244.90 344.41 246.88C344.87 248.86 345.33 251.44 345.88 253.27C346.43 255.10 347.09 256.77 347.7 257.84C348.31 258.91 348.92 259.27 349.53 259.67C350.14 260.07 350.75 260.37 351.36 260.22C351.97 260.07 352.58 259.76 353.19 258.76C353.80 257.75 354.50 256.17 355.02 254.19C355.54 252.21 355.91 249.62 356.3 246.88C356.69 244.14 357.06 241.39 357.39 237.73C357.72 234.07 358.00 229.20 358.31 224.94C358.62 220.68 358.98 214.73 359.22 212.14C359.46 209.55 359.56 209.09 359.77 209.4C359.98 209.71 360.23 210.47 360.5 213.97C360.77 217.47 361.11 224.63 361.41 230.42C361.72 236.21 362.02 243.52 362.33 248.7C362.63 253.88 362.94 258.45 363.24 261.5C363.55 264.55 364.01 266.07 364.16 266.99" stroke="#000" stroke-width="1.0" fill="none" stroke-dasharray="1.0 0.5"/>
<path d="M320.28 265.16L320.77 264.54L321.20 263.95L321.61 263.22L322.35 262.67L322.62 261.77L323.14 261.07L323.77 260.36L323.93 259.39L324.40 258.51L324.86 257.58L325.02 256.48L325.44 255.42L325.80 254.89L325.96 254.27L326.25 253.68L326.23 252.98L326.35 252.31L326.45 251.64L326.76 251.03L327.20 250.48L327.35 249.87L327.60 249.31L327.79 248.19L328.20 247.22L328.26 246.20L328.52 245.29L328.97 244.48L329.37 243.68L329.59 242.81L329.70 241.92L329.99 241.13L330.26 240.35L330.58 239.62L331.13 239.01L331.29 238.26L331.81 237.70L332.21 237.12L332.21 236.36L332.51 235.77L332.87 235.23L333.03 234.58L333.46 234.10L334.05 233.76L334.23 233.13L334.88 232.58L335.35 231.95L336.04 231.71L336.73 231.68L337.27 231.33L337.98 231.05L338.68 231.04L339.26 231.50L339.86 231.83L340.38 232.40L340.70 233.24L340.75 233.97L341.14 234.61L341.50 235.39L341.72 236.35L342.23 237.33L342.42 238.48L342.85 239.60L342.86 240.22L342.78 240.87L343.39 241.94L343.46 242.57L343.55 243.20L343.89 243.79L344.07 244.42L343.90 245.14L343.89 245.81L344.38 246.36L344.42 247.00L344.40 247.64L344.96 248.70L345.21 249.76L345.73 250.68L345.99 251.62L346.14 252.56L346.41 253.42L346.65 254.26L347.26 254.86L347.66 255.50L347.87 256.25L348.29 256.81L348.76 257.32L349.20 257.82L349.36 258.49L349.78 258.94L350.54 259.46L350.92 260.24L351.60 260.75L352.27 261.32L353.02 261.75L353.68 262.17L354.34 262.30L354.99 262.12L355.74 262.08L356.31 261.60L357.04 261.35L357.37 260.53L357.89 260.14L358.30 259.69L358.62 258.97L359.08 258.42L359.37 257.78L359.79 258.17L360.12 258.69L360.51 259.34L360.46 260.06L360.84 260.88L361.19 261.86L361.31 262.98L361.78 263.95L362.10 264.84L362.57 265.43L362.99 265.98L363.55 266.33L364.09 266.62L364.76 267.00L365.07 267.17" stroke="#000" stroke-width="1.15" fill="none" stroke-linejoin="round"/>
<path d="M304.19 266.99L305.20 266.98L305.89 266.97L306.66 266.96L307.49 266.94L308.35 266.95L309.23 266.94L310.10 266.92L310.93 266.88L311.70 266.86L312.39 266.83L313.46 266.75L314.27 266.72L314.91 266.68L315.66 266.47L316.39 266.23L317.17 265.80L317.65 265.41L318.08 264.96L318.57 264.54L318.97 263.97L319.44 263.37L319.84 262.61L319.94 261.63L320.41 260.72L320.88 259.78L321.25 258.84L321.42 257.92L321.41 256.98L321.54 256.11L321.81 255.32L322.46 254.71L322.65 253.94L322.93 253.23L323.45 252.63L323.61 251.88L323.95 251.22L324.22 250.59L324.36 249.94L324.96 249.40L325.70 249.13L326.23 248.73L326.89 248.45L327.50 248.46L327.87 248.01L328.44 247.52L329.00 247.03L329.40 246.29L329.61 245.69L329.98 245.09L329.98 244.28L330.28 243.53L330.47 242.70L330.78 241.85L330.82 240.89L331.26 239.97L331.26 238.91L331.39 237.83L331.87 236.77L332.28 235.63L332.24 235.00L332.27 234.37L332.25 233.70L332.32 233.02L332.57 232.35L332.54 231.62L332.55 230.90L332.77 230.20L332.79 229.48L333.09 228.80L333.37 228.13L333.54 227.46L333.53 226.78L333.51 226.12L333.59 225.48L333.47 224.82L333.79 224.23L333.81 223.60L333.86 222.98L333.81 222.35L334.01 221.76L334.22 221.19L334.37 220.01L334.78 218.90L335.00 217.74L335.01 216.54L335.27 215.43L335.68 214.44L335.81 213.49L336.03 212.69L335.99 211.87L336.28 211.23L336.63 210.44L337.10 209.87L337.63 210.37L337.82 211.11L338.08 211.90L338.40 212.68L338.78 213.23L338.95 213.90L338.91 214.65L339.24 215.24L339.67 215.73L340.05 216.39L340.10 217.06L340.45 217.66L340.72 218.45L340.89 219.08L340.89 219.78L340.72 220.57L340.94 221.33L341.15 222.17L341.33 223.11L341.47 224.15L341.65 225.27L341.67 226.49L341.61 227.13L341.70 227.77L341.92 228.41L341.96 229.08L341.90 229.77L342.26 230.42L342.44 231.11L342.39 231.87L342.37 232.65L342.41 233.44L342.50 234.25L342.47 235.07L342.66 235.86L342.63 236.67L342.58 237.46L342.85 238.19L342.82 238.91L342.91 239.59L342.91 240.23L343.35 240.79L343.26 241.95L343.36 243.02L343.39 244.05L343.49 245.04L343.96 245.98L344.11 246.96L344.55 247.87L344.66 248.82L344.69 249.77L345.15 250.59L345.42 251.42L345.80 252.22L346.05 253.03L346.29 253.83L346.58 254.56L346.45 255.40L346.59 256.11L346.99 256.64L347.39 257.43L347.86 258.09L348.39 258.63L348.92 259.13L349.32 259.65L349.79 260.07L350.35 260.39L350.83 260.83L351.20 261.40L351.62 261.92L352.19 262.21L352.73 262.76L353.26 263.32L353.95 263.60L354.65 263.36L355.10 262.64L355.56 262.18L355.89 261.53L356.27 260.74L356.63 260.20L357.05 259.68L357.52 259.24L357.96 258.59L358.18 257.89L358.60 257.41L359.04 256.96L359.49 257.31L359.95 257.98L360.21 258.73L360.45 259.34L360.48 260.13L360.71 260.93L360.96 261.77L361.18 262.58L361.43 263.32L361.61 264.05L361.85 264.77L362.12 265.46L362.50 266.06L362.83 266.60L363.46 267.14L364.30 267.37L364.91 267.40L365.76 267.36L366.35 267.35" stroke="#000" stroke-width="1.25" fill="none" stroke-linejoin="round"/>
<rect x="7.5" y="11.2" width="50.40" height="50.70" fill="none" stroke="#8a8a8a" stroke-width="0.9"/>
<path d="M19.0 36.8h0.7v0.7h-0.7zM21.4 36.8h0.7v0.7h-0.7zM24.5 36.4h0.7v0.7h-0.7zM26.8 36.7h0.7v0.7h-0.7zM28.1 36.7h0.7v0.7h-0.7zM16.8 37.3h0.7v0.7h-0.7zM17.9 37.4h0.7v0.7h-0.7zM20.5 37.5h0.7v0.7h-0.7zM22.1 37.2h0.7v0.7h-0.7zM25.1 37.5h0.7v0.7h-0.7zM32.5 37.3h0.7v0.7h-0.7zM34.2 37.1h0.7v0.7h-0.7zM14.3 38.3h0.7v0.7h-0.7zM15.5 38.3h0.7v0.7h-0.7zM16.1 38.0h0.7v0.7h-0.7zM17.1 37.8h0.7v0.7h-0.7zM18.3 37.7h0.7v0.7h-0.7zM20.6 38.0h0.7v0.7h-0.7zM23.1 37.8h0.7v0.7h-0.7zM23.6 38.3h0.7v0.7h-0.7zM26.6 38.1h0.7v0.7h-0.7zM30.2 38.0h0.7v0.7h-0.7zM32.1 37.8h0.7v0.7h-0.7zM32.9 38.0h0.7v0.7h-0.7zM36.4 38.0h0.7v0.7h-0.7zM13.5 39.0h0.7v0.7h-0.7zM14.2 38.5h0.7v0.7h-0.7zM14.7 38.6h0.7v0.7h-0.7zM17.4 38.8h0.7v0.7h-0.7zM18.6 39.0h0.7v0.7h-0.7zM20.8 38.6h0.7v0.7h-0.7zM22.2 39.0h0.7v0.7h-0.7zM23.6 39.0h0.7v0.7h-0.7zM24.6 38.4h0.7v0.7h-0.7zM25.4 38.6h0.7v0.7h-0.7zM29.1 38.6h0.7v0.7h-0.7zM31.2 38.7h0.7v0.7h-0.7zM34.2 38.9h0.7v0.7h-0.7zM16.0 39.6h0.7v0.7h-0.7zM18.7 39.4h0.7v0.7h-0.7zM19.2 39.3h0.7v0.7h-0.7zM21.5 39.6h0.7v0.7h-0.7zM22.6 39.1h0.7v0.7h-0.7zM23.3 39.5h0.7v0.7h-0.7zM26.7 39.7h0.7v0.7h-0.7zM28.6 39.5h0.7v0.7h-0.7zM30.9 39.2h0.7v0.7h-0.7zM32.3 39.2h0.7v0.7h-0.7zM33.0 39.5h0.7v0.7h-0.7zM34.2 39.1h0.7v0.7h-0.7zM19.2 40.3h0.7v0.7h-0.7zM20.8 39.9h0.7v0.7h-0.7zM23.4 40.1h0.7v0.7h-0.7zM24.7 40.2h0.7v0.7h-0.7zM25.8 40.2h0.7v0.7h-0.7zM26.4 40.3h0.7v0.7h-0.7zM28.1 40.1h0.7v0.7h-0.7zM29.8 40.4h0.7v0.7h-0.7zM30.9 40.0h0.7v0.7h-0.7zM31.9 40.2h0.7v0.7h-0.7zM32.5 40.0h0.7v0.7h-0.7zM34.0 39.9h0.7v0.7h-0.7zM34.8 39.9h0.7v0.7h-0.7zM35.3 40.1h0.7v0.7h-0.7zM36.2 40.0h0.7v0.7h-0.7zM37.3 40.3h0.7v0.7h-0.7zM38.0 40.0h0.7v0.7h-0.7zM12.8 40.8h0.7v0.7h-0.7zM12.9 40.6h0.7v0.7h-0.7zM13.7 40.7h0.7v0.7h-0.7zM19.7 40.6h0.7v0.7h-0.7zM20.4 40.8h0.7v0.7h-0.7zM21.1 40.6h0.7v0.7h-0.7zM22.2 41.0h0.7v0.7h-0.7zM23.5 40.9h0.7v0.7h-0.7zM24.3 41.0h0.7v0.7h-0.7zM26.5 40.8h0.7v0.7h-0.7zM27.7 40.6h0.7v0.7h-0.7zM28.8 40.9h0.7v0.7h-0.7zM30.1 40.6h0.7v0.7h-0.7zM31.2 40.6h0.7v0.7h-0.7zM32.3 40.8h0.7v0.7h-0.7zM32.7 40.9h0.7v0.7h-0.7zM33.7 40.5h0.7v0.7h-0.7zM34.3 40.6h0.7v0.7h-0.7zM34.9 40.6h0.7v0.7h-0.7zM35.3 40.9h0.7v0.7h-0.7zM36.4 40.5h0.7v0.7h-0.7zM37.2 41.0h0.7v0.7h-0.7zM38.0 41.0h0.7v0.7h-0.7zM13.9 41.3h0.7v0.7h-0.7zM15.1 41.3h0.7v0.7h-0.7zM16.3 41.3h0.7v0.7h-0.7zM17.1 41.4h0.7v0.7h-0.7zM18.4 41.5h0.7v0.7h-0.7zM18.7 41.4h0.7v0.7h-0.7zM19.4 41.6h0.7v0.7h-0.7zM21.9 41.5h0.7v0.7h-0.7zM22.5 41.7h0.7v0.7h-0.7zM23.5 41.8h0.7v0.7h-0.7zM25.2 41.2h0.7v0.7h-0.7zM26.9 41.8h0.7v0.7h-0.7zM30.9 41.7h0.7v0.7h-0.7zM31.1 41.8h0.7v0.7h-0.7zM32.8 41.3h0.7v0.7h-0.7zM33.3 41.4h0.7v0.7h-0.7zM34.1 41.8h0.7v0.7h-0.7zM35.2 41.3h0.7v0.7h-0.7zM35.4 41.5h0.7v0.7h-0.7zM36.2 41.7h0.7v0.7h-0.7zM37.2 41.7h0.7v0.7h-0.7zM37.4 41.3h0.7v0.7h-0.7zM12.0 42.4h0.7v0.7h-0.7zM13.0 42.1h0.7v0.7h-0.7zM13.8 42.2h0.7v0.7h-0.7zM14.5 42.0h0.7v0.7h-0.7zM15.8 42.5h0.7v0.7h-0.7zM16.9 41.9h0.7v0.7h-0.7zM18.2 42.3h0.7v0.7h-0.7zM19.5 42.0h0.7v0.7h-0.7zM21.2 42.3h0.7v0.7h-0.7zM21.7 42.2h0.7v0.7h-0.7zM22.5 42.1h0.7v0.7h-0.7zM25.0 42.2h0.7v0.7h-0.7zM27.5 42.2h0.7v0.7h-0.7zM28.1 42.0h0.7v0.7h-0.7zM30.1 42.2h0.7v0.7h-0.7zM31.7 42.1h0.7v0.7h-0.7zM32.1 42.5h0.7v0.7h-0.7zM32.8 42.1h0.7v0.7h-0.7zM33.6 42.3h0.7v0.7h-0.7zM34.2 42.3h0.7v0.7h-0.7zM34.9 42.3h0.7v0.7h-0.7zM35.8 42.0h0.7v0.7h-0.7zM36.6 42.3h0.7v0.7h-0.7zM36.8 42.0h0.7v0.7h-0.7zM37.7 42.5h0.7v0.7h-0.7zM38.7 42.4h0.7v0.7h-0.7zM13.3 42.8h0.7v0.7h-0.7zM13.9 43.2h0.7v0.7h-0.7zM15.2 43.0h0.7v0.7h-0.7zM15.8 43.0h0.7v0.7h-0.7zM17.5 43.0h0.7v0.7h-0.7zM18.4 42.8h0.7v0.7h-0.7zM18.8 42.9h0.7v0.7h-0.7zM23.3 43.1h0.7v0.7h-0.7zM28.7 43.0h0.7v0.7h-0.7zM29.3 43.0h0.7v0.7h-0.7zM30.2 42.9h0.7v0.7h-0.7zM30.7 43.0h0.7v0.7h-0.7zM31.6 43.0h0.7v0.7h-0.7zM31.8 42.7h0.7v0.7h-0.7zM32.8 42.6h0.7v0.7h-0.7zM33.7 42.9h0.7v0.7h-0.7zM34.1 42.9h0.7v0.7h-0.7zM34.7 43.0h0.7v0.7h-0.7zM35.4 42.8h0.7v0.7h-0.7zM36.6 42.7h0.7v0.7h-0.7zM37.3 43.0h0.7v0.7h-0.7zM38.0 43.0h0.7v0.7h-0.7zM38.7 43.2h0.7v0.7h-0.7zM11.8 43.3h0.7v0.7h-0.7zM12.4 43.5h0.7v0.7h-0.7zM19.6 43.6h0.7v0.7h-0.7zM20.6 43.4h0.7v0.7h-0.7zM21.8 43.7h0.7v0.7h-0.7zM27.5 43.9h0.7v0.7h-0.7zM27.7 43.8h0.7v0.7h-0.7zM28.5 43.8h0.7v0.7h-0.7zM29.3 43.6h0.7v0.7h-0.7zM30.3 43.7h0.7v0.7h-0.7zM30.6 43.4h0.7v0.7h-0.7zM31.6 43.4h0.7v0.7h-0.7zM32.2 43.7h0.7v0.7h-0.7zM32.8 43.3h0.7v0.7h-0.7zM33.6 43.9h0.7v0.7h-0.7zM34.3 43.4h0.7v0.7h-0.7zM34.9 43.9h0.7v0.7h-0.7zM35.4 43.3h0.7v0.7h-0.7zM36.4 43.6h0.7v0.7h-0.7zM36.9 43.7h0.7v0.7h-0.7zM37.5 43.8h0.7v0.7h-0.7zM13.9 44.3h0.7v0.7h-0.7zM14.3 44.6h0.7v0.7h-0.7zM15.2 44.5h0.7v0.7h-0.7zM16.3 44.0h0.7v0.7h-0.7zM17.7 44.5h0.7v0.7h-0.7zM18.7 44.0h0.7v0.7h-0.7zM19.8 44.6h0.7v0.7h-0.7zM20.5 44.5h0.7v0.7h-0.7zM21.0 44.1h0.7v0.7h-0.7zM21.8 44.1h0.7v0.7h-0.7zM22.0 44.2h0.7v0.7h-0.7zM22.8 44.1h0.7v0.7h-0.7zM23.5 44.6h0.7v0.7h-0.7zM24.9 44.0h0.7v0.7h-0.7zM26.1 44.6h0.7v0.7h-0.7zM27.7 44.3h0.7v0.7h-0.7zM28.7 44.2h0.7v0.7h-0.7zM29.2 44.0h0.7v0.7h-0.7zM30.2 44.3h0.7v0.7h-0.7zM30.8 44.2h0.7v0.7h-0.7zM31.4 44.5h0.7v0.7h-0.7zM32.1 44.4h0.7v0.7h-0.7zM33.1 44.4h0.7v0.7h-0.7zM33.4 44.4h0.7v0.7h-0.7zM34.2 44.5h0.7v0.7h-0.7zM35.1 44.2h0.7v0.7h-0.7zM35.4 44.3h0.7v0.7h-0.7zM36.0 44.1h0.7v0.7h-0.7zM37.1 44.4h0.7v0.7h-0.7zM37.9 44.4h0.7v0.7h-0.7zM38.4 44.2h0.7v0.7h-0.7zM13.3 45.2h0.7v0.7h-0.7zM15.2 44.9h0.7v0.7h-0.7zM16.3 44.9h0.7v0.7h-0.7zM16.5 45.2h0.7v0.7h-0.7zM17.6 44.9h0.7v0.7h-0.7zM22.3 45.2h0.7v0.7h-0.7zM24.0 45.3h0.7v0.7h-0.7zM27.8 44.9h0.7v0.7h-0.7zM28.9 45.1h0.7v0.7h-0.7zM29.4 45.3h0.7v0.7h-0.7zM30.0 45.0h0.7v0.7h-0.7zM31.0 45.1h0.7v0.7h-0.7zM31.2 45.1h0.7v0.7h-0.7zM32.1 44.8h0.7v0.7h-0.7zM32.6 44.8h0.7v0.7h-0.7zM33.3 44.9h0.7v0.7h-0.7zM34.0 45.2h0.7v0.7h-0.7zM34.7 45.2h0.7v0.7h-0.7zM35.5 44.7h0.7v0.7h-0.7zM36.6 45.0h0.7v0.7h-0.7zM37.1 44.8h0.7v0.7h-0.7zM37.9 45.1h0.7v0.7h-0.7zM13.5 45.8h0.7v0.7h-0.7zM13.7 45.7h0.7v0.7h-0.7zM14.5 46.0h0.7v0.7h-0.7zM15.1 45.8h0.7v0.7h-0.7zM16.3 45.6h0.7v0.7h-0.7zM17.2 45.6h0.7v0.7h-0.7zM19.5 45.6h0.7v0.7h-0.7zM20.3 45.5h0.7v0.7h-0.7zM21.6 45.5h0.7v0.7h-0.7zM22.0 46.0h0.7v0.7h-0.7zM23.2 45.6h0.7v0.7h-0.7zM24.4 45.6h0.7v0.7h-0.7zM25.0 45.9h0.7v0.7h-0.7zM26.1 45.9h0.7v0.7h-0.7zM26.2 45.9h0.7v0.7h-0.7zM27.3 45.7h0.7v0.7h-0.7zM28.0 45.4h0.7v0.7h-0.7zM28.8 45.4h0.7v0.7h-0.7zM29.5 45.5h0.7v0.7h-0.7zM30.2 46.0h0.7v0.7h-0.7zM30.5 45.5h0.7v0.7h-0.7zM31.2 45.6h0.7v0.7h-0.7zM32.3 45.5h0.7v0.7h-0.7zM32.8 45.5h0.7v0.7h-0.7zM33.3 45.6h0.7v0.7h-0.7zM34.5 46.0h0.7v0.7h-0.7zM34.9 45.7h0.7v0.7h-0.7zM35.6 46.0h0.7v0.7h-0.7zM36.2 45.8h0.7v0.7h-0.7zM36.9 46.0h0.7v0.7h-0.7zM37.8 45.5h0.7v0.7h-0.7zM12.9 46.3h0.7v0.7h-0.7zM14.0 46.3h0.7v0.7h-0.7zM15.1 46.5h0.7v0.7h-0.7zM15.8 46.6h0.7v0.7h-0.7zM16.6 46.7h0.7v0.7h-0.7zM17.4 46.7h0.7v0.7h-0.7zM18.4 46.4h0.7v0.7h-0.7zM18.8 46.5h0.7v0.7h-0.7zM19.7 46.6h0.7v0.7h-0.7zM20.7 46.4h0.7v0.7h-0.7zM21.9 46.5h0.7v0.7h-0.7zM22.4 46.3h0.7v0.7h-0.7zM23.8 46.4h0.7v0.7h-0.7zM25.4 46.6h0.7v0.7h-0.7zM25.9 46.2h0.7v0.7h-0.7zM26.7 46.7h0.7v0.7h-0.7zM27.4 46.5h0.7v0.7h-0.7zM27.7 46.3h0.7v0.7h-0.7zM28.4 46.2h0.7v0.7h-0.7zM29.1 46.3h0.7v0.7h-0.7zM29.8 46.2h0.7v0.7h-0.7zM30.6 46.2h0.7v0.7h-0.7zM31.4 46.1h0.7v0.7h-0.7zM31.8 46.6h0.7v0.7h-0.7zM32.8 46.2h0.7v0.7h-0.7zM33.8 46.5h0.7v0.7h-0.7zM34.0 46.2h0.7v0.7h-0.7zM34.7 46.6h0.7v0.7h-0.7zM35.8 46.4h0.7v0.7h-0.7zM36.2 46.5h0.7v0.7h-0.7zM37.1 46.4h0.7v0.7h-0.7zM37.8 46.3h0.7v0.7h-0.7zM38.2 46.7h0.7v0.7h-0.7zM12.6 47.4h0.7v0.7h-0.7zM14.1 46.9h0.7v0.7h-0.7zM14.7 47.2h0.7v0.7h-0.7zM15.3 46.9h0.7v0.7h-0.7zM15.8 47.1h0.7v0.7h-0.7zM17.0 47.0h0.7v0.7h-0.7zM17.5 47.2h0.7v0.7h-0.7zM18.1 47.4h0.7v0.7h-0.7zM19.1 47.3h0.7v0.7h-0.7zM19.5 46.9h0.7v0.7h-0.7zM20.1 47.1h0.7v0.7h-0.7zM20.7 47.2h0.7v0.7h-0.7zM21.5 46.9h0.7v0.7h-0.7zM22.4 47.1h0.7v0.7h-0.7zM23.3 47.3h0.7v0.7h-0.7zM24.0 47.2h0.7v0.7h-0.7zM24.2 47.0h0.7v0.7h-0.7zM25.0 47.0h0.7v0.7h-0.7zM25.6 47.2h0.7v0.7h-0.7zM26.7 47.3h0.7v0.7h-0.7zM27.5 46.9h0.7v0.7h-0.7zM28.2 46.9h0.7v0.7h-0.7zM28.3 46.9h0.7v0.7h-0.7zM29.6 46.9h0.7v0.7h-0.7zM29.8 47.3h0.7v0.7h-0.7zM30.8 47.0h0.7v0.7h-0.7zM31.5 47.4h0.7v0.7h-0.7zM32.1 47.2h0.7v0.7h-0.7zM32.9 47.0h0.7v0.7h-0.7zM33.3 47.2h0.7v0.7h-0.7zM34.3 47.2h0.7v0.7h-0.7zM35.1 47.4h0.7v0.7h-0.7zM35.7 47.1h0.7v0.7h-0.7zM36.6 46.8h0.7v0.7h-0.7zM37.3 47.2h0.7v0.7h-0.7zM13.3 48.0h0.7v0.7h-0.7zM13.9 47.6h0.7v0.7h-0.7zM14.5 47.7h0.7v0.7h-0.7zM15.1 47.8h0.7v0.7h-0.7zM16.3 47.6h0.7v0.7h-0.7zM16.6 47.7h0.7v0.7h-0.7zM17.5 47.5h0.7v0.7h-0.7zM18.1 47.7h0.7v0.7h-0.7zM18.9 47.5h0.7v0.7h-0.7zM19.8 48.0h0.7v0.7h-0.7zM20.1 47.6h0.7v0.7h-0.7zM21.2 47.9h0.7v0.7h-0.7zM21.8 48.0h0.7v0.7h-0.7zM22.4 48.0h0.7v0.7h-0.7zM23.2 47.9h0.7v0.7h-0.7zM23.9 47.6h0.7v0.7h-0.7zM24.5 47.7h0.7v0.7h-0.7zM24.8 47.8h0.7v0.7h-0.7zM25.8 47.6h0.7v0.7h-0.7zM26.6 47.5h0.7v0.7h-0.7zM27.2 47.7h0.7v0.7h-0.7zM27.7 47.5h0.7v0.7h-0.7zM28.8 47.9h0.7v0.7h-0.7zM29.1 47.6h0.7v0.7h-0.7zM30.1 47.8h0.7v0.7h-0.7zM30.5 48.1h0.7v0.7h-0.7zM31.3 48.0h0.7v0.7h-0.7zM32.0 47.8h0.7v0.7h-0.7zM32.8 47.6h0.7v0.7h-0.7zM33.4 47.5h0.7v0.7h-0.7zM34.5 48.0h0.7v0.7h-0.7zM34.8 47.7h0.7v0.7h-0.7zM35.3 47.8h0.7v0.7h-0.7zM12.1 48.4h0.7v0.7h-0.7zM12.3 48.5h0.7v0.7h-0.7zM13.0 48.4h0.7v0.7h-0.7zM14.1 48.5h0.7v0.7h-0.7zM14.6 48.4h0.7v0.7h-0.7zM15.2 48.6h0.7v0.7h-0.7zM15.9 48.3h0.7v0.7h-0.7zM16.8 48.8h0.7v0.7h-0.7zM17.4 48.5h0.7v0.7h-0.7zM18.2 48.3h0.7v0.7h-0.7zM18.6 48.6h0.7v0.7h-0.7zM19.6 48.2h0.7v0.7h-0.7zM19.9 48.6h0.7v0.7h-0.7zM20.7 48.7h0.7v0.7h-0.7zM21.4 48.8h0.7v0.7h-0.7zM22.4 48.8h0.7v0.7h-0.7zM23.0 48.5h0.7v0.7h-0.7zM23.5 48.7h0.7v0.7h-0.7zM24.6 48.5h0.7v0.7h-0.7zM25.0 48.3h0.7v0.7h-0.7zM25.8 48.4h0.7v0.7h-0.7zM26.4 48.4h0.7v0.7h-0.7zM27.1 48.4h0.7v0.7h-0.7zM27.9 48.5h0.7v0.7h-0.7zM28.5 48.6h0.7v0.7h-0.7zM29.6 48.6h0.7v0.7h-0.7zM29.9 48.3h0.7v0.7h-0.7zM30.9 48.3h0.7v0.7h-0.7zM31.6 48.2h0.7v0.7h-0.7zM32.0 48.3h0.7v0.7h-0.7zM33.0 48.3h0.7v0.7h-0.7zM33.5 48.2h0.7v0.7h-0.7zM34.1 48.4h0.7v0.7h-0.7zM34.9 48.6h0.7v0.7h-0.7zM37.7 48.4h0.7v0.7h-0.7zM12.3 49.4h0.7v0.7h-0.7zM13.4 49.2h0.7v0.7h-0.7zM14.1 49.5h0.7v0.7h-0.7zM14.4 49.2h0.7v0.7h-0.7zM15.5 49.1h0.7v0.7h-0.7zM15.8 49.1h0.7v0.7h-0.7zM16.6 49.0h0.7v0.7h-0.7zM17.6 49.0h0.7v0.7h-0.7zM18.2 48.9h0.7v0.7h-0.7zM19.0 49.1h0.7v0.7h-0.7zM19.2 49.5h0.7v0.7h-0.7zM20.3 49.3h0.7v0.7h-0.7zM20.9 49.2h0.7v0.7h-0.7zM21.8 49.0h0.7v0.7h-0.7zM22.3 49.2h0.7v0.7h-0.7zM22.9 49.5h0.7v0.7h-0.7zM24.0 48.9h0.7v0.7h-0.7zM24.2 49.1h0.7v0.7h-0.7zM25.4 49.0h0.7v0.7h-0.7zM26.0 49.2h0.7v0.7h-0.7zM26.8 49.4h0.7v0.7h-0.7zM27.1 49.2h0.7v0.7h-0.7zM28.2 49.4h0.7v0.7h-0.7zM28.7 49.3h0.7v0.7h-0.7zM29.5 49.0h0.7v0.7h-0.7zM30.0 49.5h0.7v0.7h-0.7zM30.9 49.1h0.7v0.7h-0.7zM31.6 49.5h0.7v0.7h-0.7zM32.2 49.0h0.7v0.7h-0.7zM32.6 49.0h0.7v0.7h-0.7zM33.5 49.2h0.7v0.7h-0.7zM34.5 49.3h0.7v0.7h-0.7zM34.8 49.2h0.7v0.7h-0.7zM35.4 48.9h0.7v0.7h-0.7zM37.1 49.3h0.7v0.7h-0.7zM37.8 49.3h0.7v0.7h-0.7zM40.0 49.0h0.7v0.7h-0.7zM11.5 49.9h0.7v0.7h-0.7zM13.3 50.0h0.7v0.7h-0.7zM13.9 50.2h0.7v0.7h-0.7zM14.5 49.8h0.7v0.7h-0.7zM15.1 50.1h0.7v0.7h-0.7zM16.3 49.8h0.7v0.7h-0.7zM16.6 50.1h0.7v0.7h-0.7zM17.7 49.8h0.7v0.7h-0.7zM18.0 49.6h0.7v0.7h-0.7zM18.6 50.1h0.7v0.7h-0.7zM19.2 49.9h0.7v0.7h-0.7zM20.3 50.0h0.7v0.7h-0.7zM21.2 50.1h0.7v0.7h-0.7zM21.3 49.8h0.7v0.7h-0.7zM22.6 49.8h0.7v0.7h-0.7zM22.8 50.1h0.7v0.7h-0.7zM23.7 50.1h0.7v0.7h-0.7zM24.2 49.9h0.7v0.7h-0.7zM25.3 50.1h0.7v0.7h-0.7zM25.5 49.8h0.7v0.7h-0.7zM26.7 50.2h0.7v0.7h-0.7zM27.2 50.0h0.7v0.7h-0.7zM27.9 50.0h0.7v0.7h-0.7zM28.5 49.7h0.7v0.7h-0.7zM29.0 49.8h0.7v0.7h-0.7zM30.2 50.0h0.7v0.7h-0.7zM30.9 50.2h0.7v0.7h-0.7zM31.3 49.7h0.7v0.7h-0.7zM32.3 49.9h0.7v0.7h-0.7zM32.9 50.1h0.7v0.7h-0.7zM33.7 50.2h0.7v0.7h-0.7zM34.4 49.8h0.7v0.7h-0.7zM35.1 50.1h0.7v0.7h-0.7zM35.4 49.9h0.7v0.7h-0.7zM12.8 50.4h0.7v0.7h-0.7zM13.5 50.5h0.7v0.7h-0.7zM14.2 50.5h0.7v0.7h-0.7zM14.4 50.6h0.7v0.7h-0.7zM15.4 50.4h0.7v0.7h-0.7zM15.7 50.9h0.7v0.7h-0.7zM16.6 50.4h0.7v0.7h-0.7zM17.4 50.7h0.7v0.7h-0.7zM18.0 50.6h0.7v0.7h-0.7zM18.6 50.3h0.7v0.7h-0.7zM19.3 50.3h0.7v0.7h-0.7zM20.2 50.6h0.7v0.7h-0.7zM21.0 50.3h0.7v0.7h-0.7zM21.6 50.5h0.7v0.7h-0.7zM22.2 50.6h0.7v0.7h-0.7zM23.0 50.4h0.7v0.7h-0.7zM24.0 50.8h0.7v0.7h-0.7zM24.1 50.9h0.7v0.7h-0.7zM24.9 50.6h0.7v0.7h-0.7zM25.7 50.8h0.7v0.7h-0.7zM26.6 50.9h0.7v0.7h-0.7zM27.0 50.7h0.7v0.7h-0.7zM28.1 50.9h0.7v0.7h-0.7zM28.7 50.3h0.7v0.7h-0.7zM29.4 50.9h0.7v0.7h-0.7zM29.8 50.8h0.7v0.7h-0.7zM30.7 50.9h0.7v0.7h-0.7zM31.6 50.4h0.7v0.7h-0.7zM32.2 50.3h0.7v0.7h-0.7zM32.7 50.8h0.7v0.7h-0.7zM34.4 50.4h0.7v0.7h-0.7zM34.6 50.6h0.7v0.7h-0.7zM12.1 51.0h0.7v0.7h-0.7zM12.5 51.2h0.7v0.7h-0.7zM13.2 51.1h0.7v0.7h-0.7zM13.8 51.5h0.7v0.7h-0.7zM14.4 51.1h0.7v0.7h-0.7zM15.5 51.5h0.7v0.7h-0.7zM16.1 51.2h0.7v0.7h-0.7zM16.5 51.5h0.7v0.7h-0.7zM17.4 51.1h0.7v0.7h-0.7zM17.9 51.6h0.7v0.7h-0.7zM18.7 51.0h0.7v0.7h-0.7zM19.5 51.0h0.7v0.7h-0.7zM20.3 51.5h0.7v0.7h-0.7zM21.0 51.2h0.7v0.7h-0.7zM21.9 51.1h0.7v0.7h-0.7zM22.5 51.2h0.7v0.7h-0.7zM23.0 51.3h0.7v0.7h-0.7zM23.9 51.2h0.7v0.7h-0.7zM24.5 51.2h0.7v0.7h-0.7zM25.1 51.5h0.7v0.7h-0.7zM25.8 51.3h0.7v0.7h-0.7zM26.7 51.0h0.7v0.7h-0.7zM27.2 51.4h0.7v0.7h-0.7zM27.7 51.3h0.7v0.7h-0.7zM28.5 51.4h0.7v0.7h-0.7zM29.5 51.4h0.7v0.7h-0.7zM29.8 51.2h0.7v0.7h-0.7zM30.9 51.6h0.7v0.7h-0.7zM31.2 51.3h0.7v0.7h-0.7zM31.8 51.3h0.7v0.7h-0.7zM32.9 51.1h0.7v0.7h-0.7zM33.3 51.3h0.7v0.7h-0.7zM35.4 51.2h0.7v0.7h-0.7zM39.7 51.1h0.7v0.7h-0.7zM12.1 51.9h0.7v0.7h-0.7zM12.7 51.7h0.7v0.7h-0.7zM13.1 52.2h0.7v0.7h-0.7zM14.0 51.7h0.7v0.7h-0.7zM14.6 52.3h0.7v0.7h-0.7zM15.5 52.1h0.7v0.7h-0.7zM16.1 52.0h0.7v0.7h-0.7zM17.0 52.1h0.7v0.7h-0.7zM17.4 52.0h0.7v0.7h-0.7zM18.0 51.9h0.7v0.7h-0.7zM18.9 52.0h0.7v0.7h-0.7zM19.3 51.8h0.7v0.7h-0.7zM20.2 52.2h0.7v0.7h-0.7zM20.8 52.3h0.7v0.7h-0.7zM21.4 52.2h0.7v0.7h-0.7zM22.0 52.2h0.7v0.7h-0.7zM23.3 52.0h0.7v0.7h-0.7zM23.6 52.1h0.7v0.7h-0.7zM24.5 51.8h0.7v0.7h-0.7zM24.8 52.1h0.7v0.7h-0.7zM25.7 52.3h0.7v0.7h-0.7zM26.2 52.3h0.7v0.7h-0.7zM27.3 52.0h0.7v0.7h-0.7zM28.0 52.2h0.7v0.7h-0.7zM28.5 52.0h0.7v0.7h-0.7zM29.1 52.1h0.7v0.7h-0.7zM30.2 51.9h0.7v0.7h-0.7zM31.0 52.2h0.7v0.7h-0.7zM31.2 51.8h0.7v0.7h-0.7zM32.0 52.1h0.7v0.7h-0.7zM32.9 52.0h0.7v0.7h-0.7zM33.3 51.9h0.7v0.7h-0.7zM34.2 52.3h0.7v0.7h-0.7zM34.7 52.0h0.7v0.7h-0.7zM36.4 52.0h0.7v0.7h-0.7zM37.0 51.8h0.7v0.7h-0.7zM11.7 53.0h0.7v0.7h-0.7zM12.6 52.5h0.7v0.7h-0.7zM12.9 52.9h0.7v0.7h-0.7zM13.6 53.0h0.7v0.7h-0.7zM14.5 52.7h0.7v0.7h-0.7zM15.1 52.4h0.7v0.7h-0.7zM15.9 52.4h0.7v0.7h-0.7zM16.5 52.4h0.7v0.7h-0.7zM17.6 52.7h0.7v0.7h-0.7zM18.3 52.5h0.7v0.7h-0.7zM18.5 52.9h0.7v0.7h-0.7zM19.6 52.7h0.7v0.7h-0.7zM20.5 52.9h0.7v0.7h-0.7zM21.0 52.5h0.7v0.7h-0.7zM21.6 52.4h0.7v0.7h-0.7zM22.6 52.6h0.7v0.7h-0.7zM23.3 52.7h0.7v0.7h-0.7zM23.6 52.6h0.7v0.7h-0.7zM24.7 52.7h0.7v0.7h-0.7zM25.2 52.6h0.7v0.7h-0.7zM26.1 52.5h0.7v0.7h-0.7zM26.7 52.5h0.7v0.7h-0.7zM27.2 52.7h0.7v0.7h-0.7zM27.9 52.6h0.7v0.7h-0.7zM28.6 52.9h0.7v0.7h-0.7zM29.3 52.9h0.7v0.7h-0.7zM29.8 52.6h0.7v0.7h-0.7zM30.5 52.9h0.7v0.7h-0.7zM31.5 52.5h0.7v0.7h-0.7zM32.4 52.6h0.7v0.7h-0.7zM32.7 52.6h0.7v0.7h-0.7zM34.7 52.5h0.7v0.7h-0.7zM11.6 53.1h0.7v0.7h-0.7zM12.3 53.1h0.7v0.7h-0.7zM13.0 53.2h0.7v0.7h-0.7zM13.8 53.2h0.7v0.7h-0.7zM14.7 53.3h0.7v0.7h-0.7zM15.1 53.5h0.7v0.7h-0.7zM16.0 53.3h0.7v0.7h-0.7zM17.0 53.3h0.7v0.7h-0.7zM17.5 53.1h0.7v0.7h-0.7zM17.9 53.2h0.7v0.7h-0.7zM18.7 53.3h0.7v0.7h-0.7zM19.4 53.7h0.7v0.7h-0.7zM20.5 53.4h0.7v0.7h-0.7zM21.0 53.7h0.7v0.7h-0.7zM21.7 53.6h0.7v0.7h-0.7zM22.1 53.7h0.7v0.7h-0.7zM23.3 53.4h0.7v0.7h-0.7zM23.7 53.3h0.7v0.7h-0.7zM24.7 53.7h0.7v0.7h-0.7zM25.2 53.5h0.7v0.7h-0.7zM26.0 53.5h0.7v0.7h-0.7zM26.7 53.7h0.7v0.7h-0.7zM27.2 53.2h0.7v0.7h-0.7zM27.6 53.6h0.7v0.7h-0.7zM28.7 53.6h0.7v0.7h-0.7zM29.5 53.1h0.7v0.7h-0.7zM30.0 53.5h0.7v0.7h-0.7zM30.6 53.2h0.7v0.7h-0.7zM31.2 53.6h0.7v0.7h-0.7zM32.0 53.6h0.7v0.7h-0.7zM34.5 53.1h0.7v0.7h-0.7zM34.9 53.4h0.7v0.7h-0.7zM12.4 54.4h0.7v0.7h-0.7zM13.0 54.4h0.7v0.7h-0.7zM13.7 53.9h0.7v0.7h-0.7zM14.8 54.0h0.7v0.7h-0.7zM15.4 53.9h0.7v0.7h-0.7zM15.9 53.9h0.7v0.7h-0.7zM16.4 54.4h0.7v0.7h-0.7zM17.7 54.4h0.7v0.7h-0.7zM18.2 54.4h0.7v0.7h-0.7zM18.7 54.1h0.7v0.7h-0.7zM19.6 54.3h0.7v0.7h-0.7zM19.9 54.0h0.7v0.7h-0.7zM21.2 54.0h0.7v0.7h-0.7zM21.8 54.2h0.7v0.7h-0.7zM22.3 54.0h0.7v0.7h-0.7zM23.1 54.4h0.7v0.7h-0.7zM23.6 54.1h0.7v0.7h-0.7zM24.4 54.0h0.7v0.7h-0.7zM25.3 54.2h0.7v0.7h-0.7zM25.9 53.9h0.7v0.7h-0.7zM26.3 54.2h0.7v0.7h-0.7zM27.0 54.3h0.7v0.7h-0.7zM28.2 54.0h0.7v0.7h-0.7zM28.9 54.0h0.7v0.7h-0.7zM29.2 54.1h0.7v0.7h-0.7zM30.0 54.2h0.7v0.7h-0.7zM31.9 54.2h0.7v0.7h-0.7zM32.7 54.4h0.7v0.7h-0.7zM34.4 53.9h0.7v0.7h-0.7zM34.7 53.9h0.7v0.7h-0.7zM35.8 54.3h0.7v0.7h-0.7zM12.8 55.1h0.7v0.7h-0.7zM13.5 55.0h0.7v0.7h-0.7zM14.1 55.0h0.7v0.7h-0.7zM14.4 55.1h0.7v0.7h-0.7zM15.0 54.7h0.7v0.7h-0.7zM15.9 54.6h0.7v0.7h-0.7zM16.9 54.5h0.7v0.7h-0.7zM17.7 55.0h0.7v0.7h-0.7zM18.2 54.6h0.7v0.7h-0.7zM19.0 55.1h0.7v0.7h-0.7zM19.2 54.5h0.7v0.7h-0.7zM20.1 54.6h0.7v0.7h-0.7zM20.9 55.1h0.7v0.7h-0.7zM21.6 54.6h0.7v0.7h-0.7zM22.6 54.6h0.7v0.7h-0.7zM23.3 54.9h0.7v0.7h-0.7zM23.8 54.8h0.7v0.7h-0.7zM24.2 54.9h0.7v0.7h-0.7zM24.8 54.7h0.7v0.7h-0.7zM25.9 55.0h0.7v0.7h-0.7zM26.3 55.1h0.7v0.7h-0.7zM27.4 54.6h0.7v0.7h-0.7zM28.0 54.8h0.7v0.7h-0.7zM28.3 54.6h0.7v0.7h-0.7zM29.3 54.6h0.7v0.7h-0.7zM30.7 54.7h0.7v0.7h-0.7zM33.5 54.6h0.7v0.7h-0.7zM34.7 54.5h0.7v0.7h-0.7zM11.8 55.8h0.7v0.7h-0.7zM12.2 55.2h0.7v0.7h-0.7zM13.2 55.6h0.7v0.7h-0.7zM13.8 55.3h0.7v0.7h-0.7zM14.9 55.8h0.7v0.7h-0.7zM15.5 55.4h0.7v0.7h-0.7zM15.8 55.6h0.7v0.7h-0.7zM16.8 55.7h0.7v0.7h-0.7zM17.6 55.6h0.7v0.7h-0.7zM18.1 55.4h0.7v0.7h-0.7zM19.0 55.4h0.7v0.7h-0.7zM19.6 55.8h0.7v0.7h-0.7zM20.2 55.7h0.7v0.7h-0.7zM20.7 55.8h0.7v0.7h-0.7zM21.5 55.4h0.7v0.7h-0.7zM22.4 55.5h0.7v0.7h-0.7zM22.8 55.7h0.7v0.7h-0.7zM24.0 55.3h0.7v0.7h-0.7zM24.3 55.2h0.7v0.7h-0.7zM24.9 55.2h0.7v0.7h-0.7zM25.7 55.6h0.7v0.7h-0.7zM26.5 55.7h0.7v0.7h-0.7zM27.4 55.3h0.7v0.7h-0.7zM27.7 55.4h0.7v0.7h-0.7zM28.9 55.7h0.7v0.7h-0.7zM30.3 55.8h0.7v0.7h-0.7zM31.0 55.3h0.7v0.7h-0.7zM31.9 55.5h0.7v0.7h-0.7zM32.8 55.8h0.7v0.7h-0.7zM33.3 55.3h0.7v0.7h-0.7zM35.2 55.2h0.7v0.7h-0.7zM12.0 56.2h0.7v0.7h-0.7zM12.8 56.1h0.7v0.7h-0.7zM13.2 55.9h0.7v0.7h-0.7zM14.1 56.5h0.7v0.7h-0.7zM14.4 56.4h0.7v0.7h-0.7zM15.1 56.1h0.7v0.7h-0.7zM16.1 56.2h0.7v0.7h-0.7zM17.0 56.5h0.7v0.7h-0.7zM17.7 56.1h0.7v0.7h-0.7zM18.1 56.4h0.7v0.7h-0.7zM19.1 56.4h0.7v0.7h-0.7zM19.5 56.4h0.7v0.7h-0.7zM20.3 55.9h0.7v0.7h-0.7zM20.8 56.2h0.7v0.7h-0.7zM21.4 56.5h0.7v0.7h-0.7zM22.5 56.3h0.7v0.7h-0.7zM23.2 56.1h0.7v0.7h-0.7zM23.6 56.5h0.7v0.7h-0.7zM24.2 56.0h0.7v0.7h-0.7zM24.9 56.2h0.7v0.7h-0.7zM25.8 55.9h0.7v0.7h-0.7zM26.2 56.3h0.7v0.7h-0.7zM27.2 56.1h0.7v0.7h-0.7zM31.6 56.0h0.7v0.7h-0.7zM32.2 56.5h0.7v0.7h-0.7zM12.6 56.7h0.7v0.7h-0.7zM13.1 56.6h0.7v0.7h-0.7zM14.1 57.2h0.7v0.7h-0.7zM14.4 57.2h0.7v0.7h-0.7zM15.5 56.7h0.7v0.7h-0.7zM15.8 56.6h0.7v0.7h-0.7zM16.7 57.1h0.7v0.7h-0.7zM17.4 56.6h0.7v0.7h-0.7zM18.1 56.6h0.7v0.7h-0.7zM19.1 56.6h0.7v0.7h-0.7zM19.6 56.6h0.7v0.7h-0.7zM20.0 56.9h0.7v0.7h-0.7zM20.8 57.0h0.7v0.7h-0.7zM21.3 56.8h0.7v0.7h-0.7zM22.3 56.8h0.7v0.7h-0.7zM22.9 56.7h0.7v0.7h-0.7zM23.6 56.9h0.7v0.7h-0.7zM24.3 56.7h0.7v0.7h-0.7zM24.9 56.9h0.7v0.7h-0.7zM25.6 57.1h0.7v0.7h-0.7zM26.5 57.2h0.7v0.7h-0.7zM27.8 56.6h0.7v0.7h-0.7zM37.0 57.0h0.7v0.7h-0.7zM12.5 57.7h0.7v0.7h-0.7zM13.5 57.7h0.7v0.7h-0.7zM13.7 57.4h0.7v0.7h-0.7zM14.8 57.3h0.7v0.7h-0.7zM15.6 57.5h0.7v0.7h-0.7zM16.1 57.7h0.7v0.7h-0.7zM16.7 57.4h0.7v0.7h-0.7zM17.2 57.8h0.7v0.7h-0.7zM18.1 57.5h0.7v0.7h-0.7zM18.8 57.4h0.7v0.7h-0.7zM19.3 57.5h0.7v0.7h-0.7zM20.5 57.6h0.7v0.7h-0.7zM20.6 57.5h0.7v0.7h-0.7zM21.7 57.9h0.7v0.7h-0.7zM22.5 57.4h0.7v0.7h-0.7zM23.0 57.6h0.7v0.7h-0.7zM24.0 57.7h0.7v0.7h-0.7zM24.3 57.5h0.7v0.7h-0.7zM25.0 57.9h0.7v0.7h-0.7zM26.2 57.4h0.7v0.7h-0.7zM27.0 57.6h0.7v0.7h-0.7zM27.7 57.7h0.7v0.7h-0.7zM29.9 57.3h0.7v0.7h-0.7zM31.5 57.6h0.7v0.7h-0.7zM34.4 57.5h0.7v0.7h-0.7zM36.3 57.5h0.7v0.7h-0.7zM38.2 57.8h0.7v0.7h-0.7zM12.7 58.3h0.7v0.7h-0.7zM12.9 58.5h0.7v0.7h-0.7zM13.9 58.4h0.7v0.7h-0.7zM14.5 58.3h0.7v0.7h-0.7zM15.6 58.1h0.7v0.7h-0.7zM16.1 58.1h0.7v0.7h-0.7zM16.6 58.0h0.7v0.7h-0.7zM17.2 58.6h0.7v0.7h-0.7zM18.0 58.0h0.7v0.7h-0.7zM18.8 58.1h0.7v0.7h-0.7zM19.8 58.1h0.7v0.7h-0.7zM20.0 58.3h0.7v0.7h-0.7zM20.8 58.3h0.7v0.7h-0.7zM21.7 58.1h0.7v0.7h-0.7zM22.3 58.3h0.7v0.7h-0.7zM22.9 58.2h0.7v0.7h-0.7zM24.0 58.3h0.7v0.7h-0.7zM24.1 58.1h0.7v0.7h-0.7zM11.7 58.9h0.7v0.7h-0.7zM12.7 58.7h0.7v0.7h-0.7zM13.3 58.9h0.7v0.7h-0.7zM14.1 58.9h0.7v0.7h-0.7zM14.5 59.0h0.7v0.7h-0.7zM15.1 59.0h0.7v0.7h-0.7zM16.2 58.8h0.7v0.7h-0.7zM16.7 59.2h0.7v0.7h-0.7zM17.6 59.0h0.7v0.7h-0.7zM18.3 59.0h0.7v0.7h-0.7zM18.7 59.3h0.7v0.7h-0.7zM19.7 59.1h0.7v0.7h-0.7zM20.3 59.2h0.7v0.7h-0.7zM20.9 59.1h0.7v0.7h-0.7zM21.9 58.8h0.7v0.7h-0.7zM22.1 59.1h0.7v0.7h-0.7zM22.8 59.3h0.7v0.7h-0.7zM26.7 59.1h0.7v0.7h-0.7zM28.9 58.8h0.7v0.7h-0.7zM33.2 59.1h0.7v0.7h-0.7zM11.5 59.7h0.7v0.7h-0.7zM12.8 60.0h0.7v0.7h-0.7zM13.5 59.5h0.7v0.7h-0.7zM14.0 59.7h0.7v0.7h-0.7zM14.8 59.9h0.7v0.7h-0.7zM15.1 59.9h0.7v0.7h-0.7zM16.1 59.6h0.7v0.7h-0.7zM16.6 59.9h0.7v0.7h-0.7zM17.6 59.7h0.7v0.7h-0.7zM18.0 59.4h0.7v0.7h-0.7zM18.8 59.5h0.7v0.7h-0.7zM19.5 59.4h0.7v0.7h-0.7zM20.2 59.8h0.7v0.7h-0.7zM20.7 59.6h0.7v0.7h-0.7zM21.4 60.0h0.7v0.7h-0.7zM33.0 59.5h0.7v0.7h-0.7zM11.8 60.7h0.7v0.7h-0.7zM12.5 60.7h0.7v0.7h-0.7zM13.0 60.4h0.7v0.7h-0.7zM13.9 60.2h0.7v0.7h-0.7zM14.7 60.5h0.7v0.7h-0.7zM15.5 60.6h0.7v0.7h-0.7zM15.9 60.2h0.7v0.7h-0.7zM16.8 60.2h0.7v0.7h-0.7zM17.3 60.2h0.7v0.7h-0.7zM18.2 60.5h0.7v0.7h-0.7zM18.5 60.6h0.7v0.7h-0.7zM28.3 60.5h0.7v0.7h-0.7zM31.7 60.7h0.7v0.7h-0.7zM11.6 61.2h0.7v0.7h-0.7zM12.8 61.4h0.7v0.7h-0.7zM13.4 61.4h0.7v0.7h-0.7zM13.7 61.3h0.7v0.7h-0.7zM14.8 61.0h0.7v0.7h-0.7zM38.3 60.8h0.7v0.7h-0.7z" fill="#000" filter="url(#b05)"/>
<path d="M19.0 12.4h0.7v0.7h-0.7zM21.9 12.6h0.7v0.7h-0.7zM23.0 12.8h0.7v0.7h-0.7zM25.7 12.6h0.7v0.7h-0.7zM31.6 12.8h0.7v0.7h-0.7zM32.6 12.7h0.7v0.7h-0.7zM35.0 12.7h0.7v0.7h-0.7zM36.1 13.0h0.7v0.7h-0.7zM37.7 12.5h0.7v0.7h-0.7zM20.3 13.8h0.7v0.7h-0.7zM21.9 13.5h0.7v0.7h-0.7zM23.9 13.2h0.7v0.7h-0.7zM25.0 13.8h0.7v0.7h-0.7zM28.7 13.6h0.7v0.7h-0.7zM33.1 13.3h0.7v0.7h-0.7zM34.1 13.5h0.7v0.7h-0.7zM36.8 13.2h0.7v0.7h-0.7zM14.5 14.3h0.7v0.7h-0.7zM17.9 14.0h0.7v0.7h-0.7zM19.5 14.1h0.7v0.7h-0.7zM20.5 14.2h0.7v0.7h-0.7zM21.6 14.1h0.7v0.7h-0.7zM24.3 14.0h0.7v0.7h-0.7zM27.3 14.3h0.7v0.7h-0.7zM28.6 14.5h0.7v0.7h-0.7zM29.5 14.2h0.7v0.7h-0.7zM29.8 13.9h0.7v0.7h-0.7zM30.9 14.2h0.7v0.7h-0.7zM32.6 14.3h0.7v0.7h-0.7zM38.8 14.1h0.7v0.7h-0.7zM41.0 14.3h0.7v0.7h-0.7zM46.2 14.3h0.7v0.7h-0.7zM19.0 15.0h0.7v0.7h-0.7zM21.7 15.0h0.7v0.7h-0.7zM27.1 15.2h0.7v0.7h-0.7zM30.7 15.2h0.7v0.7h-0.7zM32.7 15.0h0.7v0.7h-0.7zM33.7 15.0h0.7v0.7h-0.7zM35.0 14.9h0.7v0.7h-0.7zM36.8 14.7h0.7v0.7h-0.7zM18.0 15.4h0.7v0.7h-0.7zM25.3 15.4h0.7v0.7h-0.7zM26.0 15.8h0.7v0.7h-0.7zM26.5 15.8h0.7v0.7h-0.7zM28.2 15.8h0.7v0.7h-0.7zM28.8 15.4h0.7v0.7h-0.7zM30.3 15.8h0.7v0.7h-0.7zM32.0 15.8h0.7v0.7h-0.7zM34.2 15.6h0.7v0.7h-0.7zM36.8 15.4h0.7v0.7h-0.7zM37.8 15.6h0.7v0.7h-0.7zM40.2 15.3h0.7v0.7h-0.7zM46.0 15.6h0.7v0.7h-0.7zM19.7 16.3h0.7v0.7h-0.7zM21.3 16.6h0.7v0.7h-0.7zM22.3 16.0h0.7v0.7h-0.7zM23.5 16.2h0.7v0.7h-0.7zM28.1 16.4h0.7v0.7h-0.7zM28.6 16.0h0.7v0.7h-0.7zM34.7 16.2h0.7v0.7h-0.7zM36.6 16.6h0.7v0.7h-0.7zM37.7 16.5h0.7v0.7h-0.7zM19.1 16.8h0.7v0.7h-0.7zM22.8 17.3h0.7v0.7h-0.7zM23.9 16.9h0.7v0.7h-0.7zM25.9 16.9h0.7v0.7h-0.7zM29.6 16.9h0.7v0.7h-0.7zM29.9 16.8h0.7v0.7h-0.7zM31.3 16.7h0.7v0.7h-0.7zM37.7 17.1h0.7v0.7h-0.7zM48.4 17.1h0.7v0.7h-0.7zM18.4 17.5h0.7v0.7h-0.7zM20.7 17.5h0.7v0.7h-0.7zM25.0 17.9h0.7v0.7h-0.7zM25.7 17.5h0.7v0.7h-0.7zM26.8 18.0h0.7v0.7h-0.7zM30.0 17.8h0.7v0.7h-0.7zM15.5 18.6h0.7v0.7h-0.7zM18.9 18.7h0.7v0.7h-0.7zM21.4 18.1h0.7v0.7h-0.7zM23.8 18.1h0.7v0.7h-0.7zM24.2 18.4h0.7v0.7h-0.7zM25.1 18.6h0.7v0.7h-0.7zM26.6 18.6h0.7v0.7h-0.7zM27.1 18.5h0.7v0.7h-0.7zM27.6 18.4h0.7v0.7h-0.7zM28.6 18.2h0.7v0.7h-0.7zM29.2 18.7h0.7v0.7h-0.7zM30.0 18.7h0.7v0.7h-0.7zM32.0 18.7h0.7v0.7h-0.7zM37.2 18.3h0.7v0.7h-0.7zM37.7 18.6h0.7v0.7h-0.7zM15.9 19.3h0.7v0.7h-0.7zM19.6 19.4h0.7v0.7h-0.7zM24.6 18.8h0.7v0.7h-0.7zM26.1 19.0h0.7v0.7h-0.7zM27.5 19.0h0.7v0.7h-0.7zM27.8 18.9h0.7v0.7h-0.7zM29.2 19.0h0.7v0.7h-0.7zM31.7 19.1h0.7v0.7h-0.7zM34.5 19.0h0.7v0.7h-0.7zM51.9 19.0h0.7v0.7h-0.7zM15.9 19.5h0.7v0.7h-0.7zM20.2 19.5h0.7v0.7h-0.7zM24.9 19.9h0.7v0.7h-0.7zM25.9 19.8h0.7v0.7h-0.7zM29.1 19.5h0.7v0.7h-0.7zM30.9 19.9h0.7v0.7h-0.7zM35.9 19.6h0.7v0.7h-0.7zM36.3 19.5h0.7v0.7h-0.7zM37.0 19.6h0.7v0.7h-0.7zM40.5 20.0h0.7v0.7h-0.7zM18.6 20.6h0.7v0.7h-0.7zM20.6 20.3h0.7v0.7h-0.7zM22.6 20.7h0.7v0.7h-0.7zM24.8 20.4h0.7v0.7h-0.7zM26.6 20.2h0.7v0.7h-0.7zM29.5 20.5h0.7v0.7h-0.7zM29.9 20.7h0.7v0.7h-0.7zM33.0 20.8h0.7v0.7h-0.7zM35.4 20.3h0.7v0.7h-0.7zM36.9 20.8h0.7v0.7h-0.7zM15.0 21.0h0.7v0.7h-0.7zM15.9 21.4h0.7v0.7h-0.7zM19.7 21.3h0.7v0.7h-0.7zM22.6 21.3h0.7v0.7h-0.7zM23.9 21.2h0.7v0.7h-0.7zM24.9 21.5h0.7v0.7h-0.7zM25.5 21.2h0.7v0.7h-0.7zM27.3 21.4h0.7v0.7h-0.7zM30.7 21.3h0.7v0.7h-0.7zM31.1 20.9h0.7v0.7h-0.7zM36.1 21.0h0.7v0.7h-0.7zM18.4 21.7h0.7v0.7h-0.7zM19.0 21.7h0.7v0.7h-0.7zM22.5 22.1h0.7v0.7h-0.7zM22.9 21.6h0.7v0.7h-0.7zM26.4 21.6h0.7v0.7h-0.7zM27.4 21.7h0.7v0.7h-0.7zM28.4 22.0h0.7v0.7h-0.7zM29.5 22.0h0.7v0.7h-0.7zM32.3 21.8h0.7v0.7h-0.7zM32.8 22.1h0.7v0.7h-0.7zM35.8 21.9h0.7v0.7h-0.7zM38.0 21.7h0.7v0.7h-0.7zM38.7 22.1h0.7v0.7h-0.7zM14.6 22.6h0.7v0.7h-0.7zM15.1 22.9h0.7v0.7h-0.7zM17.6 22.7h0.7v0.7h-0.7zM22.6 22.5h0.7v0.7h-0.7zM23.8 22.6h0.7v0.7h-0.7zM25.2 22.9h0.7v0.7h-0.7zM27.4 22.4h0.7v0.7h-0.7zM28.5 22.3h0.7v0.7h-0.7zM29.0 22.5h0.7v0.7h-0.7zM31.7 22.5h0.7v0.7h-0.7zM35.7 22.5h0.7v0.7h-0.7zM36.0 22.6h0.7v0.7h-0.7zM38.8 22.5h0.7v0.7h-0.7zM40.1 22.3h0.7v0.7h-0.7zM17.0 23.2h0.7v0.7h-0.7zM17.4 23.6h0.7v0.7h-0.7zM20.6 23.6h0.7v0.7h-0.7zM21.7 23.2h0.7v0.7h-0.7zM22.3 23.2h0.7v0.7h-0.7zM23.7 23.4h0.7v0.7h-0.7zM24.1 23.4h0.7v0.7h-0.7zM25.2 23.5h0.7v0.7h-0.7zM25.6 23.3h0.7v0.7h-0.7zM28.5 23.5h0.7v0.7h-0.7zM29.9 23.0h0.7v0.7h-0.7zM31.2 23.4h0.7v0.7h-0.7zM33.6 23.1h0.7v0.7h-0.7zM34.3 23.4h0.7v0.7h-0.7zM37.1 23.4h0.7v0.7h-0.7zM17.5 23.9h0.7v0.7h-0.7zM18.3 24.3h0.7v0.7h-0.7zM18.7 23.9h0.7v0.7h-0.7zM21.7 24.3h0.7v0.7h-0.7zM22.4 24.0h0.7v0.7h-0.7zM27.0 24.2h0.7v0.7h-0.7zM27.8 23.8h0.7v0.7h-0.7zM28.7 24.1h0.7v0.7h-0.7zM33.4 23.7h0.7v0.7h-0.7zM34.1 24.2h0.7v0.7h-0.7zM34.9 23.9h0.7v0.7h-0.7zM38.7 24.2h0.7v0.7h-0.7zM14.0 24.5h0.7v0.7h-0.7zM14.5 24.7h0.7v0.7h-0.7zM15.1 24.9h0.7v0.7h-0.7zM16.8 24.4h0.7v0.7h-0.7zM17.5 24.6h0.7v0.7h-0.7zM19.4 24.8h0.7v0.7h-0.7zM20.7 24.5h0.7v0.7h-0.7zM24.4 24.5h0.7v0.7h-0.7zM25.3 24.9h0.7v0.7h-0.7zM27.4 24.6h0.7v0.7h-0.7zM27.9 24.9h0.7v0.7h-0.7zM28.4 24.6h0.7v0.7h-0.7zM30.0 24.9h0.7v0.7h-0.7zM30.8 24.7h0.7v0.7h-0.7zM33.2 24.7h0.7v0.7h-0.7zM40.0 24.8h0.7v0.7h-0.7zM14.6 25.6h0.7v0.7h-0.7zM21.9 25.6h0.7v0.7h-0.7zM23.4 25.2h0.7v0.7h-0.7zM24.7 25.3h0.7v0.7h-0.7zM25.1 25.6h0.7v0.7h-0.7zM25.6 25.7h0.7v0.7h-0.7zM26.8 25.4h0.7v0.7h-0.7zM29.0 25.2h0.7v0.7h-0.7zM29.8 25.3h0.7v0.7h-0.7zM30.4 25.7h0.7v0.7h-0.7zM31.4 25.7h0.7v0.7h-0.7zM32.8 25.3h0.7v0.7h-0.7zM33.4 25.3h0.7v0.7h-0.7zM36.8 25.2h0.7v0.7h-0.7zM14.3 25.8h0.7v0.7h-0.7zM16.2 26.0h0.7v0.7h-0.7zM18.9 25.9h0.7v0.7h-0.7zM20.8 26.1h0.7v0.7h-0.7zM23.9 26.4h0.7v0.7h-0.7zM26.6 26.1h0.7v0.7h-0.7zM27.2 26.4h0.7v0.7h-0.7zM28.0 25.8h0.7v0.7h-0.7zM29.3 26.0h0.7v0.7h-0.7zM30.3 26.1h0.7v0.7h-0.7zM30.6 26.1h0.7v0.7h-0.7zM33.3 26.3h0.7v0.7h-0.7zM35.8 26.1h0.7v0.7h-0.7zM37.4 25.9h0.7v0.7h-0.7zM39.1 26.2h0.7v0.7h-0.7zM15.5 26.6h0.7v0.7h-0.7zM17.6 26.8h0.7v0.7h-0.7zM20.7 26.8h0.7v0.7h-0.7zM21.9 26.5h0.7v0.7h-0.7zM22.4 26.9h0.7v0.7h-0.7zM22.8 26.9h0.7v0.7h-0.7zM27.0 27.1h0.7v0.7h-0.7zM28.0 27.1h0.7v0.7h-0.7zM29.1 26.7h0.7v0.7h-0.7zM30.3 26.6h0.7v0.7h-0.7zM30.5 27.0h0.7v0.7h-0.7zM31.3 27.1h0.7v0.7h-0.7zM32.5 26.8h0.7v0.7h-0.7zM33.7 27.0h0.7v0.7h-0.7zM34.6 26.9h0.7v0.7h-0.7zM37.4 26.6h0.7v0.7h-0.7zM38.6 26.9h0.7v0.7h-0.7zM14.3 27.2h0.7v0.7h-0.7zM16.9 27.7h0.7v0.7h-0.7zM18.6 27.3h0.7v0.7h-0.7zM19.5 27.2h0.7v0.7h-0.7zM20.5 27.6h0.7v0.7h-0.7zM21.2 27.7h0.7v0.7h-0.7zM21.7 27.2h0.7v0.7h-0.7zM22.2 27.6h0.7v0.7h-0.7zM23.9 27.6h0.7v0.7h-0.7zM24.3 27.6h0.7v0.7h-0.7zM25.2 27.6h0.7v0.7h-0.7zM27.8 27.3h0.7v0.7h-0.7zM28.6 27.4h0.7v0.7h-0.7zM29.3 27.6h0.7v0.7h-0.7zM31.0 27.5h0.7v0.7h-0.7zM31.3 27.6h0.7v0.7h-0.7zM32.1 27.5h0.7v0.7h-0.7zM34.2 27.3h0.7v0.7h-0.7zM34.7 27.3h0.7v0.7h-0.7zM35.6 27.3h0.7v0.7h-0.7zM37.0 27.4h0.7v0.7h-0.7zM38.5 27.4h0.7v0.7h-0.7zM15.4 28.4h0.7v0.7h-0.7zM16.9 28.0h0.7v0.7h-0.7zM17.1 28.3h0.7v0.7h-0.7zM18.7 28.0h0.7v0.7h-0.7zM20.5 28.5h0.7v0.7h-0.7zM22.5 28.4h0.7v0.7h-0.7zM26.8 28.5h0.7v0.7h-0.7zM27.6 28.0h0.7v0.7h-0.7zM28.7 28.0h0.7v0.7h-0.7zM30.8 28.4h0.7v0.7h-0.7zM32.6 28.3h0.7v0.7h-0.7zM34.7 28.4h0.7v0.7h-0.7zM37.7 28.3h0.7v0.7h-0.7zM38.1 28.5h0.7v0.7h-0.7zM15.0 29.0h0.7v0.7h-0.7zM18.4 29.1h0.7v0.7h-0.7zM18.6 29.1h0.7v0.7h-0.7zM19.5 29.1h0.7v0.7h-0.7zM20.0 29.1h0.7v0.7h-0.7zM21.1 28.7h0.7v0.7h-0.7zM21.7 28.7h0.7v0.7h-0.7zM22.5 28.8h0.7v0.7h-0.7zM22.9 28.8h0.7v0.7h-0.7zM24.0 29.0h0.7v0.7h-0.7zM25.0 29.1h0.7v0.7h-0.7zM28.4 29.2h0.7v0.7h-0.7zM29.6 29.2h0.7v0.7h-0.7zM30.0 28.6h0.7v0.7h-0.7zM30.8 28.6h0.7v0.7h-0.7zM32.8 28.7h0.7v0.7h-0.7zM33.2 28.8h0.7v0.7h-0.7zM35.2 28.7h0.7v0.7h-0.7zM35.8 28.7h0.7v0.7h-0.7zM12.7 29.8h0.7v0.7h-0.7zM16.3 29.4h0.7v0.7h-0.7zM16.8 29.9h0.7v0.7h-0.7zM18.3 29.7h0.7v0.7h-0.7zM19.6 29.7h0.7v0.7h-0.7zM20.8 29.4h0.7v0.7h-0.7zM22.5 29.6h0.7v0.7h-0.7zM23.6 29.7h0.7v0.7h-0.7zM24.5 29.7h0.7v0.7h-0.7zM25.8 29.5h0.7v0.7h-0.7zM26.7 29.5h0.7v0.7h-0.7zM27.2 29.6h0.7v0.7h-0.7zM28.9 29.7h0.7v0.7h-0.7zM30.6 29.7h0.7v0.7h-0.7zM33.3 29.5h0.7v0.7h-0.7zM37.9 29.8h0.7v0.7h-0.7zM39.7 29.7h0.7v0.7h-0.7zM40.3 29.5h0.7v0.7h-0.7zM16.7 30.2h0.7v0.7h-0.7zM18.9 30.4h0.7v0.7h-0.7zM21.1 30.5h0.7v0.7h-0.7zM22.2 30.2h0.7v0.7h-0.7zM23.2 30.3h0.7v0.7h-0.7zM25.0 30.1h0.7v0.7h-0.7zM27.0 30.6h0.7v0.7h-0.7zM30.6 30.6h0.7v0.7h-0.7zM32.3 30.1h0.7v0.7h-0.7zM32.7 30.5h0.7v0.7h-0.7zM34.2 30.3h0.7v0.7h-0.7zM35.1 30.3h0.7v0.7h-0.7zM35.9 30.6h0.7v0.7h-0.7zM38.4 30.6h0.7v0.7h-0.7zM44.2 30.1h0.7v0.7h-0.7zM16.7 30.9h0.7v0.7h-0.7zM17.9 31.0h0.7v0.7h-0.7zM19.1 30.8h0.7v0.7h-0.7zM19.5 31.1h0.7v0.7h-0.7zM20.3 30.9h0.7v0.7h-0.7zM21.0 31.3h0.7v0.7h-0.7zM22.4 31.0h0.7v0.7h-0.7zM25.4 31.3h0.7v0.7h-0.7zM26.1 31.2h0.7v0.7h-0.7zM26.4 30.8h0.7v0.7h-0.7zM27.7 30.7h0.7v0.7h-0.7zM30.2 30.9h0.7v0.7h-0.7zM30.5 31.2h0.7v0.7h-0.7zM32.4 30.7h0.7v0.7h-0.7zM33.8 31.1h0.7v0.7h-0.7zM36.1 30.7h0.7v0.7h-0.7zM38.2 31.3h0.7v0.7h-0.7zM14.3 31.9h0.7v0.7h-0.7zM17.3 32.0h0.7v0.7h-0.7zM18.0 31.7h0.7v0.7h-0.7zM23.0 32.0h0.7v0.7h-0.7zM24.2 31.9h0.7v0.7h-0.7zM26.4 32.0h0.7v0.7h-0.7zM31.7 31.9h0.7v0.7h-0.7zM34.1 32.0h0.7v0.7h-0.7zM35.1 31.7h0.7v0.7h-0.7zM38.0 31.8h0.7v0.7h-0.7zM13.7 32.2h0.7v0.7h-0.7zM16.6 32.2h0.7v0.7h-0.7zM18.4 32.2h0.7v0.7h-0.7zM18.5 32.4h0.7v0.7h-0.7zM21.0 32.2h0.7v0.7h-0.7zM23.3 32.2h0.7v0.7h-0.7zM23.9 32.7h0.7v0.7h-0.7zM25.4 32.4h0.7v0.7h-0.7zM26.1 32.3h0.7v0.7h-0.7zM33.5 32.6h0.7v0.7h-0.7zM35.0 32.1h0.7v0.7h-0.7zM35.6 32.2h0.7v0.7h-0.7zM13.6 33.3h0.7v0.7h-0.7zM17.5 33.4h0.7v0.7h-0.7zM18.1 33.3h0.7v0.7h-0.7zM19.1 32.8h0.7v0.7h-0.7zM20.5 33.1h0.7v0.7h-0.7zM21.2 33.4h0.7v0.7h-0.7zM21.6 33.4h0.7v0.7h-0.7zM23.0 32.8h0.7v0.7h-0.7zM24.6 33.4h0.7v0.7h-0.7zM25.3 33.1h0.7v0.7h-0.7zM25.7 33.2h0.7v0.7h-0.7zM26.8 33.3h0.7v0.7h-0.7zM27.6 33.2h0.7v0.7h-0.7zM28.6 33.3h0.7v0.7h-0.7zM30.0 33.1h0.7v0.7h-0.7zM30.9 33.2h0.7v0.7h-0.7zM31.2 33.4h0.7v0.7h-0.7zM36.1 33.4h0.7v0.7h-0.7zM36.9 33.0h0.7v0.7h-0.7zM37.6 33.2h0.7v0.7h-0.7zM38.7 33.3h0.7v0.7h-0.7zM39.3 32.8h0.7v0.7h-0.7zM19.5 33.6h0.7v0.7h-0.7zM22.8 33.6h0.7v0.7h-0.7zM23.8 34.1h0.7v0.7h-0.7zM24.4 33.8h0.7v0.7h-0.7zM25.6 33.6h0.7v0.7h-0.7zM27.1 34.1h0.7v0.7h-0.7zM27.8 33.5h0.7v0.7h-0.7zM28.4 34.1h0.7v0.7h-0.7zM30.3 33.7h0.7v0.7h-0.7zM30.9 33.6h0.7v0.7h-0.7zM32.8 33.5h0.7v0.7h-0.7zM34.2 33.9h0.7v0.7h-0.7zM34.6 33.9h0.7v0.7h-0.7zM36.2 33.8h0.7v0.7h-0.7zM17.3 34.3h0.7v0.7h-0.7zM18.1 34.8h0.7v0.7h-0.7zM18.8 34.6h0.7v0.7h-0.7zM19.4 34.5h0.7v0.7h-0.7zM19.9 34.3h0.7v0.7h-0.7zM21.6 34.3h0.7v0.7h-0.7zM23.2 34.5h0.7v0.7h-0.7zM23.8 34.6h0.7v0.7h-0.7zM25.2 34.4h0.7v0.7h-0.7zM25.7 34.6h0.7v0.7h-0.7zM26.2 34.7h0.7v0.7h-0.7zM28.2 34.4h0.7v0.7h-0.7zM28.7 34.4h0.7v0.7h-0.7zM30.1 34.4h0.7v0.7h-0.7zM30.4 34.5h0.7v0.7h-0.7zM31.7 34.7h0.7v0.7h-0.7zM34.9 34.7h0.7v0.7h-0.7zM35.5 34.8h0.7v0.7h-0.7zM36.4 34.4h0.7v0.7h-0.7zM38.9 34.4h0.7v0.7h-0.7zM41.5 34.3h0.7v0.7h-0.7zM51.8 34.2h0.7v0.7h-0.7zM13.2 35.1h0.7v0.7h-0.7zM17.2 35.4h0.7v0.7h-0.7zM19.4 35.3h0.7v0.7h-0.7zM20.0 35.0h0.7v0.7h-0.7zM21.1 35.4h0.7v0.7h-0.7zM23.9 35.3h0.7v0.7h-0.7zM25.0 35.4h0.7v0.7h-0.7zM26.1 35.4h0.7v0.7h-0.7zM26.6 35.2h0.7v0.7h-0.7zM27.8 35.3h0.7v0.7h-0.7zM29.1 35.5h0.7v0.7h-0.7zM31.6 35.0h0.7v0.7h-0.7zM32.3 35.1h0.7v0.7h-0.7zM32.8 35.4h0.7v0.7h-0.7zM33.8 35.3h0.7v0.7h-0.7zM35.4 35.4h0.7v0.7h-0.7zM41.0 35.0h0.7v0.7h-0.7zM14.0 36.0h0.7v0.7h-0.7zM16.8 35.9h0.7v0.7h-0.7zM17.6 36.0h0.7v0.7h-0.7zM18.7 36.1h0.7v0.7h-0.7zM21.8 35.6h0.7v0.7h-0.7zM23.0 35.8h0.7v0.7h-0.7zM23.7 35.8h0.7v0.7h-0.7zM25.3 35.9h0.7v0.7h-0.7zM27.6 35.7h0.7v0.7h-0.7zM28.5 36.1h0.7v0.7h-0.7zM29.1 36.0h0.7v0.7h-0.7zM30.6 36.1h0.7v0.7h-0.7zM31.7 36.2h0.7v0.7h-0.7zM32.0 35.7h0.7v0.7h-0.7zM33.0 36.1h0.7v0.7h-0.7zM33.6 36.0h0.7v0.7h-0.7zM34.2 36.0h0.7v0.7h-0.7zM35.1 35.9h0.7v0.7h-0.7zM35.3 36.2h0.7v0.7h-0.7zM36.1 35.7h0.7v0.7h-0.7zM37.3 35.9h0.7v0.7h-0.7zM37.5 35.8h0.7v0.7h-0.7zM15.8 36.5h0.7v0.7h-0.7zM16.8 36.7h0.7v0.7h-0.7zM17.4 36.4h0.7v0.7h-0.7zM18.0 36.8h0.7v0.7h-0.7zM19.0 36.7h0.7v0.7h-0.7zM19.5 36.8h0.7v0.7h-0.7zM20.2 36.5h0.7v0.7h-0.7zM23.1 36.9h0.7v0.7h-0.7zM25.7 36.9h0.7v0.7h-0.7zM26.3 36.6h0.7v0.7h-0.7zM27.4 36.4h0.7v0.7h-0.7zM29.9 36.3h0.7v0.7h-0.7zM30.5 36.8h0.7v0.7h-0.7zM31.6 36.7h0.7v0.7h-0.7zM33.1 36.9h0.7v0.7h-0.7zM33.6 36.7h0.7v0.7h-0.7zM34.7 36.6h0.7v0.7h-0.7zM36.8 36.5h0.7v0.7h-0.7zM39.2 36.9h0.7v0.7h-0.7zM14.6 37.2h0.7v0.7h-0.7zM15.1 37.6h0.7v0.7h-0.7zM16.0 37.0h0.7v0.7h-0.7zM16.7 37.0h0.7v0.7h-0.7zM17.2 37.1h0.7v0.7h-0.7zM19.4 37.0h0.7v0.7h-0.7zM26.0 37.2h0.7v0.7h-0.7zM26.8 37.5h0.7v0.7h-0.7zM27.2 37.6h0.7v0.7h-0.7zM28.1 37.5h0.7v0.7h-0.7zM28.5 37.1h0.7v0.7h-0.7zM29.9 37.6h0.7v0.7h-0.7zM30.5 37.6h0.7v0.7h-0.7zM33.5 37.0h0.7v0.7h-0.7zM34.0 37.2h0.7v0.7h-0.7zM11.4 38.2h0.7v0.7h-0.7zM13.8 37.8h0.7v0.7h-0.7zM15.8 38.3h0.7v0.7h-0.7zM18.6 38.0h0.7v0.7h-0.7zM20.8 37.9h0.7v0.7h-0.7zM21.9 38.0h0.7v0.7h-0.7zM22.5 37.9h0.7v0.7h-0.7zM25.0 37.9h0.7v0.7h-0.7zM25.5 38.0h0.7v0.7h-0.7zM26.2 38.1h0.7v0.7h-0.7zM27.2 38.2h0.7v0.7h-0.7zM28.0 37.9h0.7v0.7h-0.7zM29.4 37.8h0.7v0.7h-0.7zM30.5 37.8h0.7v0.7h-0.7zM32.4 38.2h0.7v0.7h-0.7zM32.7 37.8h0.7v0.7h-0.7zM33.4 38.0h0.7v0.7h-0.7zM35.5 37.9h0.7v0.7h-0.7zM50.9 37.8h0.7v0.7h-0.7zM14.9 38.4h0.7v0.7h-0.7zM17.7 39.0h0.7v0.7h-0.7zM19.5 38.9h0.7v0.7h-0.7zM21.5 38.5h0.7v0.7h-0.7zM23.6 38.5h0.7v0.7h-0.7zM25.1 38.7h0.7v0.7h-0.7zM26.4 38.8h0.7v0.7h-0.7zM27.6 38.9h0.7v0.7h-0.7zM28.4 38.7h0.7v0.7h-0.7zM31.2 38.5h0.7v0.7h-0.7zM33.7 38.5h0.7v0.7h-0.7zM35.6 38.7h0.7v0.7h-0.7zM36.4 38.5h0.7v0.7h-0.7zM38.1 38.6h0.7v0.7h-0.7zM45.8 38.7h0.7v0.7h-0.7zM55.0 38.4h0.7v0.7h-0.7zM16.3 39.6h0.7v0.7h-0.7zM16.8 39.7h0.7v0.7h-0.7zM19.0 39.4h0.7v0.7h-0.7zM20.1 39.4h0.7v0.7h-0.7zM20.7 39.3h0.7v0.7h-0.7zM25.6 39.5h0.7v0.7h-0.7zM26.4 39.5h0.7v0.7h-0.7zM27.3 39.3h0.7v0.7h-0.7zM27.7 39.4h0.7v0.7h-0.7zM28.5 39.4h0.7v0.7h-0.7zM29.8 39.3h0.7v0.7h-0.7zM30.6 39.1h0.7v0.7h-0.7zM31.5 39.4h0.7v0.7h-0.7zM32.0 39.7h0.7v0.7h-0.7zM34.3 39.1h0.7v0.7h-0.7zM36.2 39.2h0.7v0.7h-0.7zM36.7 39.1h0.7v0.7h-0.7zM38.2 39.4h0.7v0.7h-0.7zM14.4 40.3h0.7v0.7h-0.7zM17.7 40.2h0.7v0.7h-0.7zM18.3 40.1h0.7v0.7h-0.7zM18.5 40.2h0.7v0.7h-0.7zM19.7 39.8h0.7v0.7h-0.7zM20.0 40.2h0.7v0.7h-0.7zM21.2 40.0h0.7v0.7h-0.7zM21.3 39.9h0.7v0.7h-0.7zM23.4 39.8h0.7v0.7h-0.7zM24.7 40.4h0.7v0.7h-0.7zM26.4 40.3h0.7v0.7h-0.7zM27.0 39.9h0.7v0.7h-0.7zM30.7 40.1h0.7v0.7h-0.7zM31.3 40.4h0.7v0.7h-0.7zM31.8 40.4h0.7v0.7h-0.7zM33.1 40.2h0.7v0.7h-0.7zM34.7 39.8h0.7v0.7h-0.7zM36.5 40.0h0.7v0.7h-0.7zM38.3 40.1h0.7v0.7h-0.7zM40.5 40.1h0.7v0.7h-0.7zM14.5 40.9h0.7v0.7h-0.7zM15.0 40.5h0.7v0.7h-0.7zM16.2 41.0h0.7v0.7h-0.7zM18.0 40.7h0.7v0.7h-0.7zM18.6 40.9h0.7v0.7h-0.7zM19.5 41.1h0.7v0.7h-0.7zM21.4 40.6h0.7v0.7h-0.7zM22.5 40.9h0.7v0.7h-0.7zM24.2 40.6h0.7v0.7h-0.7zM26.8 40.5h0.7v0.7h-0.7zM27.4 41.1h0.7v0.7h-0.7zM28.1 41.0h0.7v0.7h-0.7zM30.4 41.1h0.7v0.7h-0.7zM31.6 40.6h0.7v0.7h-0.7zM32.3 40.7h0.7v0.7h-0.7zM32.6 40.5h0.7v0.7h-0.7zM33.5 41.1h0.7v0.7h-0.7zM34.4 41.1h0.7v0.7h-0.7zM35.1 40.8h0.7v0.7h-0.7zM36.6 41.0h0.7v0.7h-0.7zM37.1 41.0h0.7v0.7h-0.7zM38.7 41.1h0.7v0.7h-0.7zM50.3 40.7h0.7v0.7h-0.7zM15.4 41.3h0.7v0.7h-0.7zM15.8 41.6h0.7v0.7h-0.7zM16.8 41.2h0.7v0.7h-0.7zM17.9 41.7h0.7v0.7h-0.7zM21.4 41.7h0.7v0.7h-0.7zM22.5 41.7h0.7v0.7h-0.7zM23.7 41.4h0.7v0.7h-0.7zM25.0 41.2h0.7v0.7h-0.7zM25.8 41.5h0.7v0.7h-0.7zM26.3 41.4h0.7v0.7h-0.7zM27.1 41.8h0.7v0.7h-0.7zM28.5 41.6h0.7v0.7h-0.7zM29.4 41.7h0.7v0.7h-0.7zM30.2 41.6h0.7v0.7h-0.7zM31.6 41.2h0.7v0.7h-0.7zM32.0 41.8h0.7v0.7h-0.7zM33.1 41.6h0.7v0.7h-0.7zM33.8 41.5h0.7v0.7h-0.7zM34.2 41.4h0.7v0.7h-0.7zM35.9 41.3h0.7v0.7h-0.7zM36.1 41.4h0.7v0.7h-0.7zM38.2 41.7h0.7v0.7h-0.7zM40.1 41.8h0.7v0.7h-0.7zM12.7 42.0h0.7v0.7h-0.7zM14.1 42.1h0.7v0.7h-0.7zM16.1 42.5h0.7v0.7h-0.7zM19.5 42.1h0.7v0.7h-0.7zM19.9 42.3h0.7v0.7h-0.7zM21.0 42.2h0.7v0.7h-0.7zM21.5 42.5h0.7v0.7h-0.7zM23.0 42.1h0.7v0.7h-0.7zM24.6 42.1h0.7v0.7h-0.7zM25.9 42.1h0.7v0.7h-0.7zM26.8 42.3h0.7v0.7h-0.7zM27.2 42.4h0.7v0.7h-0.7zM27.9 42.2h0.7v0.7h-0.7zM28.6 42.1h0.7v0.7h-0.7zM29.2 42.0h0.7v0.7h-0.7zM30.6 42.1h0.7v0.7h-0.7zM31.3 42.2h0.7v0.7h-0.7zM32.0 42.4h0.7v0.7h-0.7zM33.6 41.9h0.7v0.7h-0.7zM34.9 42.0h0.7v0.7h-0.7zM35.7 42.4h0.7v0.7h-0.7zM36.5 42.0h0.7v0.7h-0.7zM37.2 42.5h0.7v0.7h-0.7zM41.7 42.5h0.7v0.7h-0.7zM12.3 43.1h0.7v0.7h-0.7zM13.7 42.8h0.7v0.7h-0.7zM15.2 42.7h0.7v0.7h-0.7zM16.1 43.1h0.7v0.7h-0.7zM18.2 43.2h0.7v0.7h-0.7zM18.8 43.0h0.7v0.7h-0.7zM19.8 43.2h0.7v0.7h-0.7zM20.5 42.6h0.7v0.7h-0.7zM21.0 43.1h0.7v0.7h-0.7zM21.4 42.8h0.7v0.7h-0.7zM22.1 42.9h0.7v0.7h-0.7zM23.0 42.9h0.7v0.7h-0.7zM25.8 42.7h0.7v0.7h-0.7zM26.4 42.7h0.7v0.7h-0.7zM29.2 43.2h0.7v0.7h-0.7zM30.1 42.7h0.7v0.7h-0.7zM30.6 42.6h0.7v0.7h-0.7zM32.0 42.9h0.7v0.7h-0.7zM33.0 42.9h0.7v0.7h-0.7zM33.3 43.2h0.7v0.7h-0.7zM35.9 43.2h0.7v0.7h-0.7zM36.9 42.7h0.7v0.7h-0.7zM37.4 43.1h0.7v0.7h-0.7zM38.3 43.1h0.7v0.7h-0.7zM14.2 43.7h0.7v0.7h-0.7zM14.9 43.5h0.7v0.7h-0.7zM16.8 43.7h0.7v0.7h-0.7zM19.1 43.6h0.7v0.7h-0.7zM20.4 43.8h0.7v0.7h-0.7zM20.9 43.6h0.7v0.7h-0.7zM21.7 43.8h0.7v0.7h-0.7zM22.5 43.6h0.7v0.7h-0.7zM23.7 43.7h0.7v0.7h-0.7zM24.4 43.7h0.7v0.7h-0.7zM25.0 43.5h0.7v0.7h-0.7zM25.7 43.9h0.7v0.7h-0.7zM26.6 43.5h0.7v0.7h-0.7zM27.5 43.9h0.7v0.7h-0.7zM27.9 43.6h0.7v0.7h-0.7zM28.6 43.4h0.7v0.7h-0.7zM30.0 43.5h0.7v0.7h-0.7zM30.8 43.4h0.7v0.7h-0.7zM32.9 43.6h0.7v0.7h-0.7zM33.8 43.3h0.7v0.7h-0.7zM33.9 43.8h0.7v0.7h-0.7zM34.6 43.9h0.7v0.7h-0.7zM35.3 43.6h0.7v0.7h-0.7zM36.6 43.5h0.7v0.7h-0.7zM40.1 43.3h0.7v0.7h-0.7zM40.3 43.3h0.7v0.7h-0.7zM13.7 44.5h0.7v0.7h-0.7zM15.1 44.3h0.7v0.7h-0.7zM17.0 44.0h0.7v0.7h-0.7zM17.4 44.1h0.7v0.7h-0.7zM20.0 44.4h0.7v0.7h-0.7zM20.6 44.3h0.7v0.7h-0.7zM23.9 44.1h0.7v0.7h-0.7zM24.2 44.0h0.7v0.7h-0.7zM25.5 44.0h0.7v0.7h-0.7zM26.4 44.2h0.7v0.7h-0.7zM26.9 44.4h0.7v0.7h-0.7zM28.4 44.0h0.7v0.7h-0.7zM29.7 44.5h0.7v0.7h-0.7zM31.0 44.5h0.7v0.7h-0.7zM32.1 44.0h0.7v0.7h-0.7zM33.6 44.3h0.7v0.7h-0.7zM33.9 44.6h0.7v0.7h-0.7zM35.2 44.3h0.7v0.7h-0.7zM36.5 44.1h0.7v0.7h-0.7zM37.5 44.2h0.7v0.7h-0.7zM39.1 44.5h0.7v0.7h-0.7zM45.3 44.3h0.7v0.7h-0.7zM13.1 45.1h0.7v0.7h-0.7zM15.1 45.1h0.7v0.7h-0.7zM15.7 45.3h0.7v0.7h-0.7zM17.0 45.3h0.7v0.7h-0.7zM19.1 45.2h0.7v0.7h-0.7zM20.4 45.2h0.7v0.7h-0.7zM22.1 44.7h0.7v0.7h-0.7zM23.7 45.2h0.7v0.7h-0.7zM25.0 45.2h0.7v0.7h-0.7zM25.6 45.2h0.7v0.7h-0.7zM26.6 45.0h0.7v0.7h-0.7zM27.5 44.9h0.7v0.7h-0.7zM29.4 44.9h0.7v0.7h-0.7zM30.0 44.8h0.7v0.7h-0.7zM30.9 44.8h0.7v0.7h-0.7zM32.1 45.1h0.7v0.7h-0.7zM32.8 45.3h0.7v0.7h-0.7zM33.3 44.8h0.7v0.7h-0.7zM36.5 45.2h0.7v0.7h-0.7zM38.7 45.0h0.7v0.7h-0.7zM40.5 44.8h0.7v0.7h-0.7zM14.5 46.0h0.7v0.7h-0.7zM16.0 45.7h0.7v0.7h-0.7zM17.9 46.0h0.7v0.7h-0.7zM18.7 45.6h0.7v0.7h-0.7zM19.5 45.6h0.7v0.7h-0.7zM20.5 45.8h0.7v0.7h-0.7zM20.7 45.6h0.7v0.7h-0.7zM21.8 45.4h0.7v0.7h-0.7zM23.3 45.7h0.7v0.7h-0.7zM23.6 46.0h0.7v0.7h-0.7zM25.0 45.8h0.7v0.7h-0.7zM27.5 45.5h0.7v0.7h-0.7zM28.1 46.0h0.7v0.7h-0.7zM29.2 45.9h0.7v0.7h-0.7zM31.4 45.5h0.7v0.7h-0.7zM31.9 45.9h0.7v0.7h-0.7zM32.5 45.6h0.7v0.7h-0.7zM33.2 45.9h0.7v0.7h-0.7zM34.1 45.6h0.7v0.7h-0.7zM35.5 45.5h0.7v0.7h-0.7zM37.1 45.5h0.7v0.7h-0.7zM38.2 45.8h0.7v0.7h-0.7zM39.1 45.6h0.7v0.7h-0.7zM39.5 45.4h0.7v0.7h-0.7zM40.5 45.7h0.7v0.7h-0.7zM53.4 45.5h0.7v0.7h-0.7zM12.5 46.4h0.7v0.7h-0.7zM14.5 46.3h0.7v0.7h-0.7zM15.2 46.2h0.7v0.7h-0.7zM16.2 46.2h0.7v0.7h-0.7zM16.8 46.6h0.7v0.7h-0.7zM18.6 46.3h0.7v0.7h-0.7zM19.8 46.6h0.7v0.7h-0.7zM20.2 46.4h0.7v0.7h-0.7zM21.7 46.3h0.7v0.7h-0.7zM22.5 46.5h0.7v0.7h-0.7zM22.9 46.5h0.7v0.7h-0.7zM23.8 46.4h0.7v0.7h-0.7zM24.6 46.4h0.7v0.7h-0.7zM25.3 46.4h0.7v0.7h-0.7zM27.3 46.6h0.7v0.7h-0.7zM30.1 46.3h0.7v0.7h-0.7zM30.8 46.3h0.7v0.7h-0.7zM31.9 46.1h0.7v0.7h-0.7zM32.8 46.7h0.7v0.7h-0.7zM34.7 46.4h0.7v0.7h-0.7zM36.0 46.5h0.7v0.7h-0.7zM37.3 46.6h0.7v0.7h-0.7zM38.5 46.4h0.7v0.7h-0.7zM38.9 46.7h0.7v0.7h-0.7zM39.7 46.6h0.7v0.7h-0.7zM14.5 47.0h0.7v0.7h-0.7zM16.0 46.9h0.7v0.7h-0.7zM17.5 47.1h0.7v0.7h-0.7zM18.2 47.4h0.7v0.7h-0.7zM18.6 46.8h0.7v0.7h-0.7zM19.8 47.4h0.7v0.7h-0.7zM20.2 47.4h0.7v0.7h-0.7zM20.9 47.0h0.7v0.7h-0.7zM21.8 46.8h0.7v0.7h-0.7zM23.7 47.3h0.7v0.7h-0.7zM25.1 47.1h0.7v0.7h-0.7zM25.6 47.2h0.7v0.7h-0.7zM26.7 47.1h0.7v0.7h-0.7zM27.3 47.3h0.7v0.7h-0.7zM28.2 47.2h0.7v0.7h-0.7zM28.7 47.2h0.7v0.7h-0.7zM29.6 47.2h0.7v0.7h-0.7zM30.2 47.2h0.7v0.7h-0.7zM30.5 46.8h0.7v0.7h-0.7zM31.5 47.4h0.7v0.7h-0.7zM32.0 47.1h0.7v0.7h-0.7zM33.4 47.1h0.7v0.7h-0.7zM34.3 46.9h0.7v0.7h-0.7zM36.2 47.0h0.7v0.7h-0.7zM37.2 47.2h0.7v0.7h-0.7zM38.4 47.0h0.7v0.7h-0.7zM41.4 47.2h0.7v0.7h-0.7zM11.5 47.9h0.7v0.7h-0.7zM14.6 47.7h0.7v0.7h-0.7zM16.6 47.6h0.7v0.7h-0.7zM17.5 47.7h0.7v0.7h-0.7zM19.0 47.7h0.7v0.7h-0.7zM20.9 47.7h0.7v0.7h-0.7zM22.2 47.5h0.7v0.7h-0.7zM23.2 47.6h0.7v0.7h-0.7zM23.8 47.5h0.7v0.7h-0.7zM24.4 47.6h0.7v0.7h-0.7zM26.4 47.6h0.7v0.7h-0.7zM28.2 47.9h0.7v0.7h-0.7zM28.5 47.7h0.7v0.7h-0.7zM29.3 47.7h0.7v0.7h-0.7zM31.4 47.8h0.7v0.7h-0.7zM32.4 47.7h0.7v0.7h-0.7zM32.8 47.9h0.7v0.7h-0.7zM33.5 47.5h0.7v0.7h-0.7zM34.4 47.5h0.7v0.7h-0.7zM35.8 47.6h0.7v0.7h-0.7zM50.9 47.7h0.7v0.7h-0.7zM46.9 48.3h0.7v0.7h-0.7zM54.0 49.7h0.7v0.7h-0.7zM45.4 50.8h0.7v0.7h-0.7zM52.1 50.7h0.7v0.7h-0.7zM39.7 51.4h0.7v0.7h-0.7zM46.0 54.1h0.7v0.7h-0.7zM48.8 53.9h0.7v0.7h-0.7zM38.3 55.6h0.7v0.7h-0.7zM42.6 55.3h0.7v0.7h-0.7zM50.5 56.4h0.7v0.7h-0.7zM51.0 57.0h0.7v0.7h-0.7zM54.3 56.9h0.7v0.7h-0.7zM38.4 57.8h0.7v0.7h-0.7zM51.2 60.6h0.7v0.7h-0.7zM54.2 60.5h0.7v0.7h-0.7z" fill="#6e6e6e" filter="url(#b05)"/>
<path d="M12.8 61.0L12.6 51L13.6 47.6L16 46.6L19 47.8L22.4 47.7L26 46.3L29.6 44L33.2 41.4L35.7 40.6L37.6 41.6L37.2 45L34.6 48.5L32 51.2L29.3 53.9L25.8 56.6L21.4 58.9L17 60.4L14 61.0Z" fill="#000" fill-opacity="0.9" filter="url(#b05)"/>
<text x="43.31" y="59.53" font-size="3.2" font-weight="normal" fill="#333" textLength="7.00" lengthAdjust="spacingAndGlyphs">11.6</text>
<rect x="72.8" y="11.5" width="51.00" height="50.10" fill="none" stroke="#8a8a8a" stroke-width="0.9"/>
<rect x="90.6" y="27.6" width="19.9" height="15.4" fill="none" stroke="#666" stroke-width="1.0"/>
<path d="M86.9 20.4h0.7v0.7h-0.7zM95.7 20.2h0.7v0.7h-0.7zM119.8 21.1h0.7v0.7h-0.7zM115.4 22.9h0.7v0.7h-0.7zM115.2 24.4h0.7v0.7h-0.7zM88.3 27.1h0.7v0.7h-0.7zM78.4 29.2h0.7v0.7h-0.7zM81.9 29.5h0.7v0.7h-0.7zM83.0 29.5h0.7v0.7h-0.7zM76.1 30.0h0.7v0.7h-0.7zM77.3 30.1h0.7v0.7h-0.7zM80.1 29.8h0.7v0.7h-0.7zM81.0 29.8h0.7v0.7h-0.7zM81.4 30.1h0.7v0.7h-0.7zM82.1 29.9h0.7v0.7h-0.7zM83.3 30.1h0.7v0.7h-0.7zM84.8 29.8h0.7v0.7h-0.7zM85.9 30.2h0.7v0.7h-0.7zM76.4 30.9h0.7v0.7h-0.7zM76.9 30.9h0.7v0.7h-0.7zM78.0 30.9h0.7v0.7h-0.7zM78.8 30.6h0.7v0.7h-0.7zM79.1 31.0h0.7v0.7h-0.7zM80.0 30.5h0.7v0.7h-0.7zM80.4 30.5h0.7v0.7h-0.7zM81.3 31.0h0.7v0.7h-0.7zM82.0 30.4h0.7v0.7h-0.7zM82.6 30.9h0.7v0.7h-0.7zM83.5 30.9h0.7v0.7h-0.7zM84.2 30.9h0.7v0.7h-0.7zM85.2 30.9h0.7v0.7h-0.7zM86.5 30.7h0.7v0.7h-0.7zM86.9 30.5h0.7v0.7h-0.7zM75.2 31.7h0.7v0.7h-0.7zM76.7 31.2h0.7v0.7h-0.7zM77.5 31.4h0.7v0.7h-0.7zM77.8 31.6h0.7v0.7h-0.7zM78.7 31.5h0.7v0.7h-0.7zM79.3 31.5h0.7v0.7h-0.7zM79.8 31.2h0.7v0.7h-0.7zM80.8 31.1h0.7v0.7h-0.7zM81.3 31.3h0.7v0.7h-0.7zM82.1 31.3h0.7v0.7h-0.7zM82.7 31.4h0.7v0.7h-0.7zM83.2 31.2h0.7v0.7h-0.7zM84.3 31.7h0.7v0.7h-0.7zM85.0 31.7h0.7v0.7h-0.7zM85.6 31.2h0.7v0.7h-0.7zM86.4 31.4h0.7v0.7h-0.7zM87.7 31.3h0.7v0.7h-0.7zM96.2 31.4h0.7v0.7h-0.7zM97.2 31.2h0.7v0.7h-0.7zM99.0 31.5h0.7v0.7h-0.7zM103.9 31.2h0.7v0.7h-0.7zM75.7 32.4h0.7v0.7h-0.7zM76.3 31.8h0.7v0.7h-0.7zM77.3 32.3h0.7v0.7h-0.7zM77.8 32.0h0.7v0.7h-0.7zM78.6 32.2h0.7v0.7h-0.7zM79.1 32.1h0.7v0.7h-0.7zM80.2 32.1h0.7v0.7h-0.7zM80.7 32.2h0.7v0.7h-0.7zM81.1 31.9h0.7v0.7h-0.7zM82.3 31.8h0.7v0.7h-0.7zM82.8 32.4h0.7v0.7h-0.7zM83.5 32.3h0.7v0.7h-0.7zM84.1 32.3h0.7v0.7h-0.7zM85.0 32.0h0.7v0.7h-0.7zM85.7 31.9h0.7v0.7h-0.7zM86.0 32.1h0.7v0.7h-0.7zM86.9 31.8h0.7v0.7h-0.7zM100.1 32.2h0.7v0.7h-0.7zM100.7 32.2h0.7v0.7h-0.7zM102.0 32.4h0.7v0.7h-0.7zM74.4 33.1h0.7v0.7h-0.7zM76.1 33.1h0.7v0.7h-0.7zM76.4 32.8h0.7v0.7h-0.7zM77.2 32.9h0.7v0.7h-0.7zM77.7 32.6h0.7v0.7h-0.7zM78.8 32.7h0.7v0.7h-0.7zM79.1 32.5h0.7v0.7h-0.7zM79.8 32.9h0.7v0.7h-0.7zM81.0 32.7h0.7v0.7h-0.7zM81.3 32.9h0.7v0.7h-0.7zM81.8 33.0h0.7v0.7h-0.7zM83.0 32.7h0.7v0.7h-0.7zM83.4 32.8h0.7v0.7h-0.7zM84.2 32.8h0.7v0.7h-0.7zM84.6 32.5h0.7v0.7h-0.7zM85.3 32.5h0.7v0.7h-0.7zM86.3 32.8h0.7v0.7h-0.7zM95.0 32.9h0.7v0.7h-0.7zM97.3 32.7h0.7v0.7h-0.7zM102.5 32.8h0.7v0.7h-0.7zM103.4 32.6h0.7v0.7h-0.7zM74.8 33.4h0.7v0.7h-0.7zM75.8 33.7h0.7v0.7h-0.7zM76.7 33.4h0.7v0.7h-0.7zM77.0 33.8h0.7v0.7h-0.7zM77.9 33.7h0.7v0.7h-0.7zM78.8 33.4h0.7v0.7h-0.7zM79.2 33.3h0.7v0.7h-0.7zM80.1 33.4h0.7v0.7h-0.7zM80.5 33.3h0.7v0.7h-0.7zM81.5 33.8h0.7v0.7h-0.7zM82.3 33.3h0.7v0.7h-0.7zM83.0 33.5h0.7v0.7h-0.7zM83.8 33.3h0.7v0.7h-0.7zM84.5 33.8h0.7v0.7h-0.7zM84.7 33.3h0.7v0.7h-0.7zM85.7 33.5h0.7v0.7h-0.7zM86.5 33.2h0.7v0.7h-0.7zM86.9 33.6h0.7v0.7h-0.7zM97.6 33.6h0.7v0.7h-0.7zM98.2 33.4h0.7v0.7h-0.7zM100.5 33.6h0.7v0.7h-0.7zM103.1 33.7h0.7v0.7h-0.7zM112.3 33.2h0.7v0.7h-0.7zM74.4 34.3h0.7v0.7h-0.7zM75.4 34.2h0.7v0.7h-0.7zM76.1 34.3h0.7v0.7h-0.7zM76.3 33.9h0.7v0.7h-0.7zM77.1 34.1h0.7v0.7h-0.7zM78.2 34.1h0.7v0.7h-0.7zM78.9 34.3h0.7v0.7h-0.7zM79.4 34.4h0.7v0.7h-0.7zM80.2 34.1h0.7v0.7h-0.7zM80.6 34.0h0.7v0.7h-0.7zM81.4 34.3h0.7v0.7h-0.7zM82.0 34.3h0.7v0.7h-0.7zM82.6 34.3h0.7v0.7h-0.7zM83.2 33.9h0.7v0.7h-0.7zM84.0 34.4h0.7v0.7h-0.7zM84.9 34.3h0.7v0.7h-0.7zM85.7 34.1h0.7v0.7h-0.7zM86.2 34.1h0.7v0.7h-0.7zM87.2 34.0h0.7v0.7h-0.7zM95.2 34.0h0.7v0.7h-0.7zM100.2 34.4h0.7v0.7h-0.7zM101.0 34.5h0.7v0.7h-0.7zM101.6 34.3h0.7v0.7h-0.7zM74.3 34.7h0.7v0.7h-0.7zM76.0 35.2h0.7v0.7h-0.7zM76.6 35.0h0.7v0.7h-0.7zM77.4 34.6h0.7v0.7h-0.7zM77.9 35.0h0.7v0.7h-0.7zM78.5 34.6h0.7v0.7h-0.7zM79.5 35.1h0.7v0.7h-0.7zM80.0 35.2h0.7v0.7h-0.7zM80.6 34.8h0.7v0.7h-0.7zM81.5 34.8h0.7v0.7h-0.7zM82.2 34.8h0.7v0.7h-0.7zM82.7 34.9h0.7v0.7h-0.7zM83.7 34.7h0.7v0.7h-0.7zM84.5 34.9h0.7v0.7h-0.7zM84.9 34.8h0.7v0.7h-0.7zM85.8 34.8h0.7v0.7h-0.7zM86.2 34.9h0.7v0.7h-0.7zM87.3 34.9h0.7v0.7h-0.7zM96.8 35.2h0.7v0.7h-0.7zM98.5 34.9h0.7v0.7h-0.7zM99.1 34.9h0.7v0.7h-0.7zM99.3 34.9h0.7v0.7h-0.7zM100.1 34.7h0.7v0.7h-0.7zM101.0 34.7h0.7v0.7h-0.7zM102.0 35.1h0.7v0.7h-0.7zM102.4 35.1h0.7v0.7h-0.7zM103.4 35.1h0.7v0.7h-0.7zM103.5 35.2h0.7v0.7h-0.7zM76.8 35.5h0.7v0.7h-0.7zM77.4 35.3h0.7v0.7h-0.7zM78.0 35.6h0.7v0.7h-0.7zM78.7 35.4h0.7v0.7h-0.7zM79.6 35.8h0.7v0.7h-0.7zM80.3 35.6h0.7v0.7h-0.7zM80.6 35.8h0.7v0.7h-0.7zM81.7 35.4h0.7v0.7h-0.7zM82.1 35.5h0.7v0.7h-0.7zM82.7 35.9h0.7v0.7h-0.7zM83.3 35.9h0.7v0.7h-0.7zM84.1 35.7h0.7v0.7h-0.7zM85.2 35.5h0.7v0.7h-0.7zM85.8 35.4h0.7v0.7h-0.7zM87.2 35.5h0.7v0.7h-0.7zM96.5 35.8h0.7v0.7h-0.7zM98.4 35.9h0.7v0.7h-0.7zM99.5 35.3h0.7v0.7h-0.7zM100.3 35.5h0.7v0.7h-0.7zM101.7 35.5h0.7v0.7h-0.7zM102.5 35.3h0.7v0.7h-0.7zM103.2 35.7h0.7v0.7h-0.7zM75.2 36.2h0.7v0.7h-0.7zM76.5 36.5h0.7v0.7h-0.7zM77.5 36.3h0.7v0.7h-0.7zM77.9 36.3h0.7v0.7h-0.7zM78.9 36.1h0.7v0.7h-0.7zM79.4 36.0h0.7v0.7h-0.7zM80.0 36.4h0.7v0.7h-0.7zM80.8 36.3h0.7v0.7h-0.7zM81.5 36.2h0.7v0.7h-0.7zM82.3 36.1h0.7v0.7h-0.7zM82.6 36.2h0.7v0.7h-0.7zM83.7 36.5h0.7v0.7h-0.7zM84.2 36.6h0.7v0.7h-0.7zM85.0 36.4h0.7v0.7h-0.7zM85.5 36.3h0.7v0.7h-0.7zM86.3 36.1h0.7v0.7h-0.7zM95.2 36.4h0.7v0.7h-0.7zM98.8 36.4h0.7v0.7h-0.7zM99.3 36.2h0.7v0.7h-0.7zM100.6 36.6h0.7v0.7h-0.7zM101.9 36.2h0.7v0.7h-0.7zM103.2 36.0h0.7v0.7h-0.7zM103.7 36.1h0.7v0.7h-0.7zM74.5 37.3h0.7v0.7h-0.7zM76.4 37.2h0.7v0.7h-0.7zM77.0 36.8h0.7v0.7h-0.7zM77.9 37.1h0.7v0.7h-0.7zM78.8 36.8h0.7v0.7h-0.7zM79.2 36.7h0.7v0.7h-0.7zM80.3 36.7h0.7v0.7h-0.7zM80.6 36.9h0.7v0.7h-0.7zM81.3 37.1h0.7v0.7h-0.7zM82.3 37.1h0.7v0.7h-0.7zM83.0 36.7h0.7v0.7h-0.7zM83.6 36.7h0.7v0.7h-0.7zM84.1 37.0h0.7v0.7h-0.7zM85.2 37.3h0.7v0.7h-0.7zM85.6 36.7h0.7v0.7h-0.7zM99.1 36.7h0.7v0.7h-0.7zM100.9 37.1h0.7v0.7h-0.7zM102.4 36.8h0.7v0.7h-0.7zM103.5 36.9h0.7v0.7h-0.7zM75.6 37.4h0.7v0.7h-0.7zM77.9 37.6h0.7v0.7h-0.7zM79.2 37.7h0.7v0.7h-0.7zM80.0 37.7h0.7v0.7h-0.7zM80.6 38.0h0.7v0.7h-0.7zM81.6 37.5h0.7v0.7h-0.7zM82.2 37.9h0.7v0.7h-0.7zM82.9 37.8h0.7v0.7h-0.7zM83.7 37.8h0.7v0.7h-0.7zM84.3 38.0h0.7v0.7h-0.7zM97.6 37.8h0.7v0.7h-0.7zM98.2 37.5h0.7v0.7h-0.7zM100.9 38.0h0.7v0.7h-0.7zM104.2 37.9h0.7v0.7h-0.7zM78.0 38.7h0.7v0.7h-0.7zM78.3 38.3h0.7v0.7h-0.7zM79.6 38.3h0.7v0.7h-0.7zM80.5 38.6h0.7v0.7h-0.7zM81.5 38.2h0.7v0.7h-0.7zM81.9 38.5h0.7v0.7h-0.7zM83.5 38.2h0.7v0.7h-0.7zM84.0 38.3h0.7v0.7h-0.7zM80.3 38.8h0.7v0.7h-0.7zM82.9 39.1h0.7v0.7h-0.7zM83.5 38.9h0.7v0.7h-0.7zM88.5 39.4h0.7v0.7h-0.7zM99.2 38.9h0.7v0.7h-0.7zM100.3 39.0h0.7v0.7h-0.7zM101.2 39.3h0.7v0.7h-0.7zM102.3 39.2h0.7v0.7h-0.7zM113.4 38.8h0.7v0.7h-0.7zM73.6 39.6h0.7v0.7h-0.7zM82.9 39.9h0.7v0.7h-0.7zM83.4 39.7h0.7v0.7h-0.7zM88.2 39.6h0.7v0.7h-0.7zM100.2 39.7h0.7v0.7h-0.7zM103.1 39.6h0.7v0.7h-0.7zM78.2 40.7h0.7v0.7h-0.7zM78.9 40.6h0.7v0.7h-0.7zM80.2 40.5h0.7v0.7h-0.7zM83.5 40.8h0.7v0.7h-0.7zM80.3 41.2h0.7v0.7h-0.7zM80.6 41.3h0.7v0.7h-0.7zM81.5 41.4h0.7v0.7h-0.7zM81.8 41.3h0.7v0.7h-0.7zM86.2 41.3h0.7v0.7h-0.7zM78.1 41.7h0.7v0.7h-0.7zM79.6 41.9h0.7v0.7h-0.7zM80.1 42.1h0.7v0.7h-0.7zM80.7 41.8h0.7v0.7h-0.7zM82.6 42.2h0.7v0.7h-0.7zM85.9 41.9h0.7v0.7h-0.7zM87.5 41.8h0.7v0.7h-0.7zM114.5 41.8h0.7v0.7h-0.7zM78.2 42.3h0.7v0.7h-0.7zM82.3 42.7h0.7v0.7h-0.7zM88.9 42.8h0.7v0.7h-0.7zM84.3 43.2h0.7v0.7h-0.7zM89.1 43.0h0.7v0.7h-0.7zM100.6 43.3h0.7v0.7h-0.7zM103.2 43.3h0.7v0.7h-0.7zM86.8 44.0h0.7v0.7h-0.7zM74.9 44.7h0.7v0.7h-0.7zM76.0 44.7h0.7v0.7h-0.7zM77.5 44.7h0.7v0.7h-0.7zM80.5 45.0h0.7v0.7h-0.7zM81.9 44.7h0.7v0.7h-0.7zM82.8 45.0h0.7v0.7h-0.7zM83.4 44.7h0.7v0.7h-0.7zM86.4 44.5h0.7v0.7h-0.7zM87.2 44.7h0.7v0.7h-0.7zM90.3 44.5h0.7v0.7h-0.7zM75.0 45.3h0.7v0.7h-0.7zM75.9 45.6h0.7v0.7h-0.7zM76.3 45.2h0.7v0.7h-0.7zM77.5 45.3h0.7v0.7h-0.7zM78.0 45.7h0.7v0.7h-0.7zM78.8 45.6h0.7v0.7h-0.7zM82.4 45.5h0.7v0.7h-0.7zM82.5 45.4h0.7v0.7h-0.7zM84.2 45.1h0.7v0.7h-0.7zM85.7 45.4h0.7v0.7h-0.7zM86.3 45.5h0.7v0.7h-0.7zM86.9 45.7h0.7v0.7h-0.7zM87.5 45.6h0.7v0.7h-0.7zM88.5 45.6h0.7v0.7h-0.7zM89.1 45.2h0.7v0.7h-0.7zM90.1 45.3h0.7v0.7h-0.7zM90.4 45.4h0.7v0.7h-0.7zM91.3 45.6h0.7v0.7h-0.7zM74.5 46.0h0.7v0.7h-0.7zM75.3 46.4h0.7v0.7h-0.7zM75.6 46.1h0.7v0.7h-0.7zM76.6 46.4h0.7v0.7h-0.7zM77.3 46.3h0.7v0.7h-0.7zM77.8 46.4h0.7v0.7h-0.7zM78.5 46.0h0.7v0.7h-0.7zM79.1 46.3h0.7v0.7h-0.7zM79.9 46.0h0.7v0.7h-0.7zM80.5 46.4h0.7v0.7h-0.7zM81.7 46.3h0.7v0.7h-0.7zM82.4 45.9h0.7v0.7h-0.7zM82.5 45.9h0.7v0.7h-0.7zM83.4 46.1h0.7v0.7h-0.7zM84.5 46.0h0.7v0.7h-0.7zM84.8 45.9h0.7v0.7h-0.7zM85.6 46.4h0.7v0.7h-0.7zM86.1 45.9h0.7v0.7h-0.7zM87.2 46.3h0.7v0.7h-0.7zM88.8 46.0h0.7v0.7h-0.7zM89.6 45.9h0.7v0.7h-0.7zM91.5 46.1h0.7v0.7h-0.7zM75.3 46.7h0.7v0.7h-0.7zM75.8 46.9h0.7v0.7h-0.7zM76.5 47.0h0.7v0.7h-0.7zM77.0 46.7h0.7v0.7h-0.7zM78.1 46.6h0.7v0.7h-0.7zM78.8 46.8h0.7v0.7h-0.7zM79.3 46.7h0.7v0.7h-0.7zM80.3 47.0h0.7v0.7h-0.7zM80.5 46.8h0.7v0.7h-0.7zM81.5 46.8h0.7v0.7h-0.7zM81.8 47.0h0.7v0.7h-0.7zM82.6 47.0h0.7v0.7h-0.7zM83.8 46.7h0.7v0.7h-0.7zM84.3 46.9h0.7v0.7h-0.7zM84.6 47.1h0.7v0.7h-0.7zM85.4 46.9h0.7v0.7h-0.7zM86.5 46.8h0.7v0.7h-0.7zM86.8 46.6h0.7v0.7h-0.7zM87.6 47.0h0.7v0.7h-0.7zM88.7 46.7h0.7v0.7h-0.7zM92.7 46.9h0.7v0.7h-0.7zM93.2 46.8h0.7v0.7h-0.7zM73.7 47.7h0.7v0.7h-0.7zM74.7 47.8h0.7v0.7h-0.7zM75.0 47.5h0.7v0.7h-0.7zM76.0 47.5h0.7v0.7h-0.7zM76.7 47.8h0.7v0.7h-0.7zM77.4 47.4h0.7v0.7h-0.7zM78.2 47.6h0.7v0.7h-0.7zM78.7 47.5h0.7v0.7h-0.7zM79.6 47.8h0.7v0.7h-0.7zM79.8 47.8h0.7v0.7h-0.7zM80.9 47.5h0.7v0.7h-0.7zM81.7 47.8h0.7v0.7h-0.7zM82.2 47.7h0.7v0.7h-0.7zM82.8 47.7h0.7v0.7h-0.7zM83.6 47.7h0.7v0.7h-0.7zM84.3 47.6h0.7v0.7h-0.7zM84.9 47.6h0.7v0.7h-0.7zM85.4 47.7h0.7v0.7h-0.7zM86.1 47.4h0.7v0.7h-0.7zM87.2 47.2h0.7v0.7h-0.7zM88.0 47.4h0.7v0.7h-0.7zM89.7 47.6h0.7v0.7h-0.7zM90.3 47.3h0.7v0.7h-0.7zM91.3 47.2h0.7v0.7h-0.7zM92.1 47.5h0.7v0.7h-0.7zM96.9 47.2h0.7v0.7h-0.7zM74.6 48.1h0.7v0.7h-0.7zM75.3 48.0h0.7v0.7h-0.7zM75.6 48.0h0.7v0.7h-0.7zM76.3 48.1h0.7v0.7h-0.7zM77.0 48.5h0.7v0.7h-0.7zM78.1 48.3h0.7v0.7h-0.7zM78.6 48.4h0.7v0.7h-0.7zM79.2 48.5h0.7v0.7h-0.7zM79.8 48.0h0.7v0.7h-0.7zM80.5 48.3h0.7v0.7h-0.7zM81.2 48.3h0.7v0.7h-0.7zM82.1 48.5h0.7v0.7h-0.7zM82.7 48.4h0.7v0.7h-0.7zM83.3 48.3h0.7v0.7h-0.7zM83.9 48.4h0.7v0.7h-0.7zM84.6 48.2h0.7v0.7h-0.7zM85.4 48.1h0.7v0.7h-0.7zM86.3 48.3h0.7v0.7h-0.7zM87.2 48.5h0.7v0.7h-0.7zM87.8 47.9h0.7v0.7h-0.7zM88.3 48.4h0.7v0.7h-0.7zM90.0 48.1h0.7v0.7h-0.7zM75.2 48.6h0.7v0.7h-0.7zM76.1 49.1h0.7v0.7h-0.7zM76.4 48.6h0.7v0.7h-0.7zM77.3 49.0h0.7v0.7h-0.7zM77.8 48.8h0.7v0.7h-0.7zM78.6 49.0h0.7v0.7h-0.7zM79.1 48.9h0.7v0.7h-0.7zM79.9 48.7h0.7v0.7h-0.7zM80.5 49.0h0.7v0.7h-0.7zM81.3 48.9h0.7v0.7h-0.7zM82.2 48.6h0.7v0.7h-0.7zM82.7 48.6h0.7v0.7h-0.7zM83.6 49.0h0.7v0.7h-0.7zM84.1 48.6h0.7v0.7h-0.7zM85.1 49.0h0.7v0.7h-0.7zM85.9 48.8h0.7v0.7h-0.7zM86.3 48.7h0.7v0.7h-0.7zM86.9 49.1h0.7v0.7h-0.7zM87.6 48.7h0.7v0.7h-0.7zM75.3 49.7h0.7v0.7h-0.7zM75.5 49.7h0.7v0.7h-0.7zM76.4 49.4h0.7v0.7h-0.7zM77.2 49.6h0.7v0.7h-0.7zM77.7 49.6h0.7v0.7h-0.7zM78.5 49.4h0.7v0.7h-0.7zM79.6 49.6h0.7v0.7h-0.7zM79.8 49.9h0.7v0.7h-0.7zM81.0 49.5h0.7v0.7h-0.7zM81.5 49.4h0.7v0.7h-0.7zM82.2 49.4h0.7v0.7h-0.7zM82.5 49.4h0.7v0.7h-0.7zM83.2 49.7h0.7v0.7h-0.7zM83.9 49.8h0.7v0.7h-0.7zM84.9 49.9h0.7v0.7h-0.7zM85.4 49.8h0.7v0.7h-0.7zM86.2 49.5h0.7v0.7h-0.7zM86.7 49.9h0.7v0.7h-0.7zM87.9 49.9h0.7v0.7h-0.7zM88.1 49.3h0.7v0.7h-0.7zM99.4 49.4h0.7v0.7h-0.7zM74.6 50.1h0.7v0.7h-0.7zM75.0 50.1h0.7v0.7h-0.7zM75.9 50.6h0.7v0.7h-0.7zM76.5 50.6h0.7v0.7h-0.7zM77.3 50.4h0.7v0.7h-0.7zM77.8 50.1h0.7v0.7h-0.7zM78.9 50.1h0.7v0.7h-0.7zM79.6 50.0h0.7v0.7h-0.7zM79.9 50.2h0.7v0.7h-0.7zM81.0 50.2h0.7v0.7h-0.7zM81.1 50.2h0.7v0.7h-0.7zM82.4 50.6h0.7v0.7h-0.7zM82.7 50.1h0.7v0.7h-0.7zM83.5 50.3h0.7v0.7h-0.7zM84.4 50.4h0.7v0.7h-0.7zM84.9 50.2h0.7v0.7h-0.7zM85.4 50.1h0.7v0.7h-0.7zM86.2 50.5h0.7v0.7h-0.7zM87.2 50.1h0.7v0.7h-0.7zM87.5 50.1h0.7v0.7h-0.7zM88.2 50.3h0.7v0.7h-0.7zM91.5 50.1h0.7v0.7h-0.7zM75.3 51.0h0.7v0.7h-0.7zM75.8 50.9h0.7v0.7h-0.7zM76.7 50.8h0.7v0.7h-0.7zM77.1 50.9h0.7v0.7h-0.7zM77.9 51.3h0.7v0.7h-0.7zM78.8 51.0h0.7v0.7h-0.7zM79.1 50.9h0.7v0.7h-0.7zM79.7 51.0h0.7v0.7h-0.7zM81.0 51.2h0.7v0.7h-0.7zM81.3 50.7h0.7v0.7h-0.7zM82.4 51.3h0.7v0.7h-0.7zM82.6 51.3h0.7v0.7h-0.7zM83.4 50.9h0.7v0.7h-0.7zM84.5 50.8h0.7v0.7h-0.7zM84.6 50.7h0.7v0.7h-0.7zM85.5 51.1h0.7v0.7h-0.7zM86.3 51.1h0.7v0.7h-0.7zM87.0 50.9h0.7v0.7h-0.7zM87.9 51.0h0.7v0.7h-0.7zM88.4 51.3h0.7v0.7h-0.7zM75.0 52.0h0.7v0.7h-0.7zM75.6 51.5h0.7v0.7h-0.7zM76.6 51.9h0.7v0.7h-0.7zM77.2 51.5h0.7v0.7h-0.7zM77.8 51.4h0.7v0.7h-0.7zM78.4 51.4h0.7v0.7h-0.7zM79.4 51.4h0.7v0.7h-0.7zM80.1 51.6h0.7v0.7h-0.7zM80.9 51.5h0.7v0.7h-0.7zM81.2 51.9h0.7v0.7h-0.7zM82.4 51.5h0.7v0.7h-0.7zM82.7 51.4h0.7v0.7h-0.7zM83.2 51.5h0.7v0.7h-0.7zM84.1 51.6h0.7v0.7h-0.7zM84.6 51.8h0.7v0.7h-0.7zM85.4 51.7h0.7v0.7h-0.7zM86.5 51.8h0.7v0.7h-0.7zM86.8 51.8h0.7v0.7h-0.7zM88.2 51.6h0.7v0.7h-0.7zM89.8 51.8h0.7v0.7h-0.7zM74.6 52.1h0.7v0.7h-0.7zM76.1 52.5h0.7v0.7h-0.7zM76.4 52.7h0.7v0.7h-0.7zM77.2 52.3h0.7v0.7h-0.7zM78.0 52.2h0.7v0.7h-0.7zM78.5 52.4h0.7v0.7h-0.7zM79.5 52.6h0.7v0.7h-0.7zM79.9 52.3h0.7v0.7h-0.7zM80.4 52.5h0.7v0.7h-0.7zM81.2 52.1h0.7v0.7h-0.7zM82.4 52.4h0.7v0.7h-0.7zM83.1 52.6h0.7v0.7h-0.7zM83.5 52.4h0.7v0.7h-0.7zM84.4 52.5h0.7v0.7h-0.7zM84.9 52.2h0.7v0.7h-0.7zM85.8 52.6h0.7v0.7h-0.7zM86.2 52.6h0.7v0.7h-0.7zM87.1 52.2h0.7v0.7h-0.7zM87.7 52.1h0.7v0.7h-0.7zM89.9 52.3h0.7v0.7h-0.7zM90.4 52.7h0.7v0.7h-0.7zM99.9 52.7h0.7v0.7h-0.7zM74.0 52.9h0.7v0.7h-0.7zM74.3 53.1h0.7v0.7h-0.7zM75.2 53.3h0.7v0.7h-0.7zM76.1 52.9h0.7v0.7h-0.7zM76.4 53.2h0.7v0.7h-0.7zM77.3 53.2h0.7v0.7h-0.7zM78.2 53.4h0.7v0.7h-0.7zM78.6 53.0h0.7v0.7h-0.7zM79.4 53.3h0.7v0.7h-0.7zM80.1 53.1h0.7v0.7h-0.7zM80.5 53.2h0.7v0.7h-0.7zM81.6 52.8h0.7v0.7h-0.7zM82.0 53.1h0.7v0.7h-0.7zM83.1 53.1h0.7v0.7h-0.7zM83.3 53.3h0.7v0.7h-0.7zM84.5 53.1h0.7v0.7h-0.7zM84.8 53.3h0.7v0.7h-0.7zM85.8 52.9h0.7v0.7h-0.7zM86.4 53.3h0.7v0.7h-0.7zM86.9 52.9h0.7v0.7h-0.7zM87.5 53.0h0.7v0.7h-0.7zM88.4 53.1h0.7v0.7h-0.7zM90.1 53.0h0.7v0.7h-0.7zM91.8 53.2h0.7v0.7h-0.7zM97.8 53.2h0.7v0.7h-0.7zM75.3 54.0h0.7v0.7h-0.7zM75.8 53.6h0.7v0.7h-0.7zM76.7 54.0h0.7v0.7h-0.7zM77.2 54.1h0.7v0.7h-0.7zM78.1 54.0h0.7v0.7h-0.7zM78.6 53.7h0.7v0.7h-0.7zM79.0 54.1h0.7v0.7h-0.7zM80.3 53.8h0.7v0.7h-0.7zM80.6 53.5h0.7v0.7h-0.7zM81.4 53.5h0.7v0.7h-0.7zM82.1 53.5h0.7v0.7h-0.7zM82.9 53.8h0.7v0.7h-0.7zM83.8 54.0h0.7v0.7h-0.7zM84.4 53.6h0.7v0.7h-0.7zM84.7 53.9h0.7v0.7h-0.7zM85.7 53.9h0.7v0.7h-0.7zM86.5 53.8h0.7v0.7h-0.7zM87.0 53.8h0.7v0.7h-0.7zM87.8 53.7h0.7v0.7h-0.7zM88.9 53.7h0.7v0.7h-0.7zM90.8 53.7h0.7v0.7h-0.7zM91.3 53.6h0.7v0.7h-0.7zM74.9 54.7h0.7v0.7h-0.7zM76.1 54.3h0.7v0.7h-0.7zM76.5 54.5h0.7v0.7h-0.7zM77.4 54.8h0.7v0.7h-0.7zM78.2 54.8h0.7v0.7h-0.7zM78.6 54.4h0.7v0.7h-0.7zM79.2 54.8h0.7v0.7h-0.7zM80.3 54.3h0.7v0.7h-0.7zM80.8 54.8h0.7v0.7h-0.7zM81.6 54.4h0.7v0.7h-0.7zM82.0 54.5h0.7v0.7h-0.7zM82.9 54.6h0.7v0.7h-0.7zM83.5 54.6h0.7v0.7h-0.7zM84.0 54.5h0.7v0.7h-0.7zM85.0 54.6h0.7v0.7h-0.7zM85.6 54.6h0.7v0.7h-0.7zM86.1 54.8h0.7v0.7h-0.7zM87.1 54.6h0.7v0.7h-0.7zM89.4 54.4h0.7v0.7h-0.7zM98.7 54.5h0.7v0.7h-0.7zM74.5 55.2h0.7v0.7h-0.7zM74.9 55.2h0.7v0.7h-0.7zM75.9 55.0h0.7v0.7h-0.7zM76.6 55.2h0.7v0.7h-0.7zM77.1 55.0h0.7v0.7h-0.7zM77.9 55.5h0.7v0.7h-0.7zM78.4 54.9h0.7v0.7h-0.7zM79.3 55.5h0.7v0.7h-0.7zM80.3 55.0h0.7v0.7h-0.7zM80.6 55.2h0.7v0.7h-0.7zM81.1 55.4h0.7v0.7h-0.7zM82.2 55.3h0.7v0.7h-0.7zM82.5 55.1h0.7v0.7h-0.7zM83.2 55.0h0.7v0.7h-0.7zM84.1 55.3h0.7v0.7h-0.7zM84.9 55.3h0.7v0.7h-0.7zM85.5 55.4h0.7v0.7h-0.7zM86.1 55.1h0.7v0.7h-0.7zM86.9 54.9h0.7v0.7h-0.7zM87.4 55.2h0.7v0.7h-0.7zM89.1 55.5h0.7v0.7h-0.7zM90.6 55.5h0.7v0.7h-0.7zM92.1 55.0h0.7v0.7h-0.7zM98.9 54.9h0.7v0.7h-0.7zM74.0 56.1h0.7v0.7h-0.7zM74.3 55.8h0.7v0.7h-0.7zM74.9 56.2h0.7v0.7h-0.7zM75.8 56.2h0.7v0.7h-0.7zM76.3 55.7h0.7v0.7h-0.7zM77.2 55.8h0.7v0.7h-0.7zM77.6 56.0h0.7v0.7h-0.7zM78.7 55.8h0.7v0.7h-0.7zM79.2 56.2h0.7v0.7h-0.7zM80.3 55.8h0.7v0.7h-0.7zM80.7 56.2h0.7v0.7h-0.7zM81.6 56.0h0.7v0.7h-0.7zM82.1 55.7h0.7v0.7h-0.7zM82.5 55.9h0.7v0.7h-0.7zM83.3 56.1h0.7v0.7h-0.7zM84.4 55.6h0.7v0.7h-0.7zM85.1 56.2h0.7v0.7h-0.7zM85.8 56.0h0.7v0.7h-0.7zM86.3 56.2h0.7v0.7h-0.7zM86.9 55.7h0.7v0.7h-0.7zM88.0 56.1h0.7v0.7h-0.7zM89.1 56.2h0.7v0.7h-0.7zM89.5 56.2h0.7v0.7h-0.7zM99.0 56.1h0.7v0.7h-0.7zM99.7 56.1h0.7v0.7h-0.7zM73.5 56.8h0.7v0.7h-0.7zM74.9 56.4h0.7v0.7h-0.7zM76.0 56.4h0.7v0.7h-0.7zM76.4 56.8h0.7v0.7h-0.7zM77.3 56.6h0.7v0.7h-0.7zM77.8 56.7h0.7v0.7h-0.7zM78.5 56.3h0.7v0.7h-0.7zM79.1 56.8h0.7v0.7h-0.7zM79.8 56.4h0.7v0.7h-0.7zM81.0 56.7h0.7v0.7h-0.7zM81.6 56.4h0.7v0.7h-0.7zM82.4 56.6h0.7v0.7h-0.7zM82.6 56.8h0.7v0.7h-0.7zM83.4 56.6h0.7v0.7h-0.7zM84.2 56.9h0.7v0.7h-0.7zM84.8 56.7h0.7v0.7h-0.7zM85.3 56.6h0.7v0.7h-0.7zM86.4 56.4h0.7v0.7h-0.7zM87.3 56.6h0.7v0.7h-0.7zM87.9 56.7h0.7v0.7h-0.7zM91.8 56.6h0.7v0.7h-0.7zM99.9 56.9h0.7v0.7h-0.7zM74.7 57.0h0.7v0.7h-0.7zM74.9 57.0h0.7v0.7h-0.7zM75.5 57.4h0.7v0.7h-0.7zM76.4 57.5h0.7v0.7h-0.7zM77.0 57.1h0.7v0.7h-0.7zM77.8 57.1h0.7v0.7h-0.7zM78.4 57.5h0.7v0.7h-0.7zM79.3 57.6h0.7v0.7h-0.7zM80.1 57.4h0.7v0.7h-0.7zM80.4 57.6h0.7v0.7h-0.7zM81.6 57.4h0.7v0.7h-0.7zM82.0 57.2h0.7v0.7h-0.7zM82.6 57.4h0.7v0.7h-0.7zM83.8 57.4h0.7v0.7h-0.7zM84.5 57.2h0.7v0.7h-0.7zM84.7 57.4h0.7v0.7h-0.7zM85.8 57.0h0.7v0.7h-0.7zM86.1 57.6h0.7v0.7h-0.7zM87.3 57.3h0.7v0.7h-0.7zM90.1 57.3h0.7v0.7h-0.7zM91.1 57.2h0.7v0.7h-0.7zM75.4 57.9h0.7v0.7h-0.7zM75.7 57.9h0.7v0.7h-0.7zM76.3 57.9h0.7v0.7h-0.7zM77.4 58.0h0.7v0.7h-0.7zM77.9 58.0h0.7v0.7h-0.7zM78.8 58.2h0.7v0.7h-0.7zM79.3 58.3h0.7v0.7h-0.7zM80.2 58.0h0.7v0.7h-0.7zM80.9 58.1h0.7v0.7h-0.7zM81.3 57.9h0.7v0.7h-0.7zM82.2 58.0h0.7v0.7h-0.7zM82.6 57.8h0.7v0.7h-0.7zM83.3 57.9h0.7v0.7h-0.7zM84.2 58.3h0.7v0.7h-0.7zM84.9 58.2h0.7v0.7h-0.7zM85.3 57.9h0.7v0.7h-0.7zM86.2 57.9h0.7v0.7h-0.7zM87.2 58.2h0.7v0.7h-0.7zM89.0 58.1h0.7v0.7h-0.7zM73.9 58.4h0.7v0.7h-0.7zM74.7 58.7h0.7v0.7h-0.7zM75.2 58.7h0.7v0.7h-0.7zM75.8 58.6h0.7v0.7h-0.7zM76.3 58.4h0.7v0.7h-0.7zM77.0 58.5h0.7v0.7h-0.7zM78.1 58.6h0.7v0.7h-0.7zM78.7 59.0h0.7v0.7h-0.7zM79.6 58.4h0.7v0.7h-0.7zM80.3 59.0h0.7v0.7h-0.7zM80.4 58.8h0.7v0.7h-0.7zM81.4 58.5h0.7v0.7h-0.7zM82.2 58.7h0.7v0.7h-0.7zM83.1 58.4h0.7v0.7h-0.7zM83.6 58.5h0.7v0.7h-0.7zM84.2 58.7h0.7v0.7h-0.7zM85.0 59.0h0.7v0.7h-0.7zM85.5 58.4h0.7v0.7h-0.7zM86.1 58.4h0.7v0.7h-0.7zM86.7 58.7h0.7v0.7h-0.7zM87.8 58.6h0.7v0.7h-0.7zM88.5 58.4h0.7v0.7h-0.7zM91.4 58.6h0.7v0.7h-0.7zM93.8 58.7h0.7v0.7h-0.7zM97.0 58.4h0.7v0.7h-0.7zM74.4 59.4h0.7v0.7h-0.7zM75.8 59.7h0.7v0.7h-0.7zM76.8 59.4h0.7v0.7h-0.7zM77.4 59.2h0.7v0.7h-0.7zM79.2 59.2h0.7v0.7h-0.7zM80.2 59.5h0.7v0.7h-0.7zM81.0 59.6h0.7v0.7h-0.7zM81.6 59.5h0.7v0.7h-0.7zM81.9 59.3h0.7v0.7h-0.7zM82.7 59.5h0.7v0.7h-0.7zM83.6 59.6h0.7v0.7h-0.7zM83.9 59.1h0.7v0.7h-0.7zM84.7 59.2h0.7v0.7h-0.7zM85.7 59.5h0.7v0.7h-0.7zM86.3 59.2h0.7v0.7h-0.7zM86.8 59.2h0.7v0.7h-0.7zM87.5 59.6h0.7v0.7h-0.7zM89.1 59.3h0.7v0.7h-0.7zM89.6 59.7h0.7v0.7h-0.7zM90.8 59.6h0.7v0.7h-0.7zM91.1 59.2h0.7v0.7h-0.7zM91.7 59.3h0.7v0.7h-0.7zM97.0 59.6h0.7v0.7h-0.7zM75.3 60.4h0.7v0.7h-0.7zM75.6 60.3h0.7v0.7h-0.7zM77.5 59.9h0.7v0.7h-0.7zM78.1 59.9h0.7v0.7h-0.7zM78.8 60.0h0.7v0.7h-0.7zM80.3 60.4h0.7v0.7h-0.7zM80.9 60.0h0.7v0.7h-0.7zM81.6 60.3h0.7v0.7h-0.7zM82.2 60.2h0.7v0.7h-0.7zM83.1 59.9h0.7v0.7h-0.7zM84.4 60.2h0.7v0.7h-0.7zM87.0 60.3h0.7v0.7h-0.7zM90.7 59.9h0.7v0.7h-0.7z" fill="#000" filter="url(#b05)"/>
<path d="M77.5 32.0L80 31.5L84 31.6L85.5 32.6L85.3 34.5L83.8 36.0L82.0 36.8L79 36.8L77.3 35.7L76.6 34Z" fill="#000" fill-opacity="0.9"/>
<path d="M75.6 46.6L86.4 46.6L86.9 52L86.5 58.8L75.6 58.8Z" fill="#000" fill-opacity="0.95"/>
<text x="112.19" y="51.92" font-size="3.2" font-weight="normal" fill="#333" textLength="5.39" lengthAdjust="spacingAndGlyphs">2.44</text>
<rect x="7.5" y="112.2" width="50.40" height="49.90" fill="none" stroke="#8a8a8a" stroke-width="0.9"/>
<path d="M23.7 146.1h0.7v0.7h-0.7zM25.0 146.3h0.7v0.7h-0.7zM26.1 145.7h0.7v0.7h-0.7zM26.3 146.3h0.7v0.7h-0.7zM28.1 146.3h0.7v0.7h-0.7zM23.5 146.7h0.7v0.7h-0.7zM24.2 146.5h0.7v0.7h-0.7zM25.0 146.9h0.7v0.7h-0.7zM26.7 146.6h0.7v0.7h-0.7zM28.4 146.9h0.7v0.7h-0.7zM29.3 146.4h0.7v0.7h-0.7zM29.9 146.9h0.7v0.7h-0.7zM27.4 147.3h0.7v0.7h-0.7zM28.9 147.4h0.7v0.7h-0.7zM33.2 147.6h0.7v0.7h-0.7zM21.6 147.8h0.7v0.7h-0.7zM25.9 148.4h0.7v0.7h-0.7zM27.2 148.0h0.7v0.7h-0.7zM27.7 148.0h0.7v0.7h-0.7zM32.8 148.3h0.7v0.7h-0.7zM33.8 148.2h0.7v0.7h-0.7zM20.3 148.7h0.7v0.7h-0.7zM21.5 148.7h0.7v0.7h-0.7zM23.0 148.7h0.7v0.7h-0.7zM24.6 149.1h0.7v0.7h-0.7zM28.2 148.9h0.7v0.7h-0.7zM29.1 148.8h0.7v0.7h-0.7zM31.0 149.0h0.7v0.7h-0.7zM32.3 148.9h0.7v0.7h-0.7zM35.6 148.9h0.7v0.7h-0.7zM19.7 149.4h0.7v0.7h-0.7zM21.8 149.6h0.7v0.7h-0.7zM22.8 149.3h0.7v0.7h-0.7zM24.1 149.4h0.7v0.7h-0.7zM24.9 149.7h0.7v0.7h-0.7zM25.9 149.4h0.7v0.7h-0.7zM26.6 149.3h0.7v0.7h-0.7zM27.7 149.6h0.7v0.7h-0.7zM28.6 149.2h0.7v0.7h-0.7zM30.3 149.4h0.7v0.7h-0.7zM31.2 149.4h0.7v0.7h-0.7zM32.2 149.3h0.7v0.7h-0.7zM32.8 149.6h0.7v0.7h-0.7zM33.8 149.5h0.7v0.7h-0.7zM34.9 149.4h0.7v0.7h-0.7zM35.7 149.4h0.7v0.7h-0.7zM17.9 150.5h0.7v0.7h-0.7zM19.3 150.5h0.7v0.7h-0.7zM20.4 150.0h0.7v0.7h-0.7zM21.2 150.2h0.7v0.7h-0.7zM21.9 150.1h0.7v0.7h-0.7zM22.6 150.1h0.7v0.7h-0.7zM23.3 150.2h0.7v0.7h-0.7zM23.4 150.4h0.7v0.7h-0.7zM24.3 150.4h0.7v0.7h-0.7zM25.8 150.2h0.7v0.7h-0.7zM26.5 150.2h0.7v0.7h-0.7zM27.0 150.4h0.7v0.7h-0.7zM27.9 150.2h0.7v0.7h-0.7zM30.6 150.0h0.7v0.7h-0.7zM32.3 149.9h0.7v0.7h-0.7zM33.4 150.0h0.7v0.7h-0.7zM34.0 150.1h0.7v0.7h-0.7zM35.4 150.2h0.7v0.7h-0.7zM36.3 150.2h0.7v0.7h-0.7zM37.1 150.2h0.7v0.7h-0.7zM37.8 150.0h0.7v0.7h-0.7zM17.4 151.2h0.7v0.7h-0.7zM17.9 150.9h0.7v0.7h-0.7zM18.7 151.2h0.7v0.7h-0.7zM20.1 151.0h0.7v0.7h-0.7zM20.7 151.1h0.7v0.7h-0.7zM21.8 150.9h0.7v0.7h-0.7zM22.4 151.0h0.7v0.7h-0.7zM23.1 151.0h0.7v0.7h-0.7zM23.8 150.6h0.7v0.7h-0.7zM24.5 151.1h0.7v0.7h-0.7zM25.2 151.1h0.7v0.7h-0.7zM25.5 150.7h0.7v0.7h-0.7zM26.6 151.2h0.7v0.7h-0.7zM27.7 151.1h0.7v0.7h-0.7zM28.9 150.8h0.7v0.7h-0.7zM29.2 150.9h0.7v0.7h-0.7zM29.8 150.6h0.7v0.7h-0.7zM31.4 150.8h0.7v0.7h-0.7zM33.8 151.0h0.7v0.7h-0.7zM34.7 150.6h0.7v0.7h-0.7zM35.8 151.2h0.7v0.7h-0.7zM36.6 151.0h0.7v0.7h-0.7zM38.0 151.2h0.7v0.7h-0.7zM38.4 150.9h0.7v0.7h-0.7zM16.5 151.9h0.7v0.7h-0.7zM17.1 151.7h0.7v0.7h-0.7zM17.9 151.9h0.7v0.7h-0.7zM18.6 151.8h0.7v0.7h-0.7zM19.6 151.6h0.7v0.7h-0.7zM20.0 151.4h0.7v0.7h-0.7zM21.2 151.8h0.7v0.7h-0.7zM21.3 151.5h0.7v0.7h-0.7zM22.3 151.8h0.7v0.7h-0.7zM22.8 151.5h0.7v0.7h-0.7zM23.8 151.4h0.7v0.7h-0.7zM24.3 151.5h0.7v0.7h-0.7zM25.4 151.6h0.7v0.7h-0.7zM26.0 151.6h0.7v0.7h-0.7zM26.3 151.8h0.7v0.7h-0.7zM27.2 151.5h0.7v0.7h-0.7zM27.8 151.7h0.7v0.7h-0.7zM28.8 151.5h0.7v0.7h-0.7zM29.1 151.6h0.7v0.7h-0.7zM30.0 151.3h0.7v0.7h-0.7zM32.6 151.6h0.7v0.7h-0.7zM34.9 151.8h0.7v0.7h-0.7zM35.4 151.9h0.7v0.7h-0.7zM14.7 152.5h0.7v0.7h-0.7zM16.7 152.6h0.7v0.7h-0.7zM17.3 152.6h0.7v0.7h-0.7zM18.1 152.5h0.7v0.7h-0.7zM18.9 152.1h0.7v0.7h-0.7zM19.6 152.5h0.7v0.7h-0.7zM20.5 152.6h0.7v0.7h-0.7zM20.9 152.3h0.7v0.7h-0.7zM21.9 152.2h0.7v0.7h-0.7zM22.1 152.5h0.7v0.7h-0.7zM23.2 152.5h0.7v0.7h-0.7zM23.7 152.6h0.7v0.7h-0.7zM24.3 152.2h0.7v0.7h-0.7zM25.2 152.3h0.7v0.7h-0.7zM25.7 152.6h0.7v0.7h-0.7zM26.3 152.1h0.7v0.7h-0.7zM27.3 152.2h0.7v0.7h-0.7zM27.7 152.3h0.7v0.7h-0.7zM29.4 152.2h0.7v0.7h-0.7zM30.9 152.3h0.7v0.7h-0.7zM31.3 152.2h0.7v0.7h-0.7zM32.8 152.1h0.7v0.7h-0.7zM35.9 152.5h0.7v0.7h-0.7zM15.9 152.9h0.7v0.7h-0.7zM16.4 152.9h0.7v0.7h-0.7zM17.7 152.9h0.7v0.7h-0.7zM17.8 153.2h0.7v0.7h-0.7zM18.8 153.2h0.7v0.7h-0.7zM19.4 152.9h0.7v0.7h-0.7zM20.1 152.7h0.7v0.7h-0.7zM20.6 153.2h0.7v0.7h-0.7zM21.4 153.1h0.7v0.7h-0.7zM22.5 153.1h0.7v0.7h-0.7zM22.9 152.7h0.7v0.7h-0.7zM23.7 153.1h0.7v0.7h-0.7zM24.3 153.1h0.7v0.7h-0.7zM25.4 153.2h0.7v0.7h-0.7zM26.1 153.1h0.7v0.7h-0.7zM27.4 153.0h0.7v0.7h-0.7zM27.7 153.0h0.7v0.7h-0.7zM28.5 152.8h0.7v0.7h-0.7zM29.5 152.7h0.7v0.7h-0.7zM30.1 153.3h0.7v0.7h-0.7zM30.7 153.3h0.7v0.7h-0.7zM32.0 153.1h0.7v0.7h-0.7zM33.2 153.2h0.7v0.7h-0.7zM35.4 153.3h0.7v0.7h-0.7zM36.2 153.2h0.7v0.7h-0.7zM14.4 153.7h0.7v0.7h-0.7zM15.1 153.4h0.7v0.7h-0.7zM16.3 154.0h0.7v0.7h-0.7zM16.9 154.0h0.7v0.7h-0.7zM17.5 153.5h0.7v0.7h-0.7zM18.1 153.5h0.7v0.7h-0.7zM18.7 153.8h0.7v0.7h-0.7zM19.5 153.5h0.7v0.7h-0.7zM20.4 153.5h0.7v0.7h-0.7zM21.0 153.6h0.7v0.7h-0.7zM21.5 153.9h0.7v0.7h-0.7zM22.1 153.5h0.7v0.7h-0.7zM23.1 153.5h0.7v0.7h-0.7zM23.7 153.8h0.7v0.7h-0.7zM24.4 153.5h0.7v0.7h-0.7zM25.2 153.6h0.7v0.7h-0.7zM25.7 154.0h0.7v0.7h-0.7zM26.3 153.5h0.7v0.7h-0.7zM27.5 153.8h0.7v0.7h-0.7zM27.9 153.7h0.7v0.7h-0.7zM28.8 153.6h0.7v0.7h-0.7zM29.1 153.8h0.7v0.7h-0.7zM29.9 153.5h0.7v0.7h-0.7zM31.0 153.5h0.7v0.7h-0.7zM32.1 153.5h0.7v0.7h-0.7zM33.5 153.9h0.7v0.7h-0.7zM14.7 154.4h0.7v0.7h-0.7zM15.2 154.2h0.7v0.7h-0.7zM16.0 154.5h0.7v0.7h-0.7zM17.0 154.3h0.7v0.7h-0.7zM17.5 154.2h0.7v0.7h-0.7zM18.3 154.2h0.7v0.7h-0.7zM18.5 154.4h0.7v0.7h-0.7zM19.8 154.7h0.7v0.7h-0.7zM20.2 154.2h0.7v0.7h-0.7zM21.1 154.7h0.7v0.7h-0.7zM21.7 154.5h0.7v0.7h-0.7zM22.4 154.3h0.7v0.7h-0.7zM23.2 154.3h0.7v0.7h-0.7zM24.0 154.7h0.7v0.7h-0.7zM24.5 154.3h0.7v0.7h-0.7zM25.2 154.2h0.7v0.7h-0.7zM25.5 154.6h0.7v0.7h-0.7zM26.7 154.5h0.7v0.7h-0.7zM27.1 154.7h0.7v0.7h-0.7zM27.6 154.2h0.7v0.7h-0.7zM28.9 154.3h0.7v0.7h-0.7zM29.6 154.3h0.7v0.7h-0.7zM29.9 154.4h0.7v0.7h-0.7zM30.9 154.1h0.7v0.7h-0.7zM31.1 154.4h0.7v0.7h-0.7zM33.0 154.5h0.7v0.7h-0.7zM34.8 154.2h0.7v0.7h-0.7zM35.5 154.1h0.7v0.7h-0.7zM14.0 155.1h0.7v0.7h-0.7zM15.1 155.4h0.7v0.7h-0.7zM15.8 155.1h0.7v0.7h-0.7zM16.6 155.0h0.7v0.7h-0.7zM17.2 155.0h0.7v0.7h-0.7zM18.0 155.2h0.7v0.7h-0.7zM19.0 155.1h0.7v0.7h-0.7zM19.6 155.3h0.7v0.7h-0.7zM20.3 155.1h0.7v0.7h-0.7zM21.0 155.1h0.7v0.7h-0.7zM21.3 155.0h0.7v0.7h-0.7zM22.6 155.3h0.7v0.7h-0.7zM22.9 154.9h0.7v0.7h-0.7zM23.5 155.4h0.7v0.7h-0.7zM24.2 155.1h0.7v0.7h-0.7zM25.4 155.1h0.7v0.7h-0.7zM25.6 155.2h0.7v0.7h-0.7zM26.7 155.1h0.7v0.7h-0.7zM27.1 155.0h0.7v0.7h-0.7zM27.7 155.1h0.7v0.7h-0.7zM28.5 155.1h0.7v0.7h-0.7zM30.2 155.1h0.7v0.7h-0.7zM32.1 154.8h0.7v0.7h-0.7zM33.7 155.3h0.7v0.7h-0.7zM34.3 155.1h0.7v0.7h-0.7zM35.3 154.8h0.7v0.7h-0.7zM13.9 155.9h0.7v0.7h-0.7zM14.6 155.6h0.7v0.7h-0.7zM15.3 155.7h0.7v0.7h-0.7zM16.2 155.6h0.7v0.7h-0.7zM16.6 156.1h0.7v0.7h-0.7zM17.6 155.6h0.7v0.7h-0.7zM18.4 156.1h0.7v0.7h-0.7zM19.7 156.1h0.7v0.7h-0.7zM20.1 155.6h0.7v0.7h-0.7zM21.1 155.7h0.7v0.7h-0.7zM21.4 156.1h0.7v0.7h-0.7zM22.6 156.0h0.7v0.7h-0.7zM22.7 155.6h0.7v0.7h-0.7zM23.4 155.9h0.7v0.7h-0.7zM24.3 156.1h0.7v0.7h-0.7zM25.2 156.0h0.7v0.7h-0.7zM26.1 156.0h0.7v0.7h-0.7zM26.5 155.8h0.7v0.7h-0.7zM27.3 156.1h0.7v0.7h-0.7zM28.0 155.6h0.7v0.7h-0.7zM28.8 155.9h0.7v0.7h-0.7zM29.5 155.9h0.7v0.7h-0.7zM29.9 155.7h0.7v0.7h-0.7zM33.8 156.1h0.7v0.7h-0.7zM14.5 156.3h0.7v0.7h-0.7zM15.1 156.3h0.7v0.7h-0.7zM16.3 156.4h0.7v0.7h-0.7zM16.7 156.7h0.7v0.7h-0.7zM17.2 156.6h0.7v0.7h-0.7zM18.3 156.3h0.7v0.7h-0.7zM18.9 156.8h0.7v0.7h-0.7zM20.2 156.7h0.7v0.7h-0.7zM20.7 156.4h0.7v0.7h-0.7zM21.3 156.8h0.7v0.7h-0.7zM22.2 156.8h0.7v0.7h-0.7zM23.1 156.4h0.7v0.7h-0.7zM24.4 156.5h0.7v0.7h-0.7zM24.8 156.5h0.7v0.7h-0.7zM25.9 156.8h0.7v0.7h-0.7zM26.7 156.3h0.7v0.7h-0.7zM27.4 156.2h0.7v0.7h-0.7zM28.2 156.2h0.7v0.7h-0.7zM28.8 156.8h0.7v0.7h-0.7zM30.8 156.6h0.7v0.7h-0.7zM33.1 156.7h0.7v0.7h-0.7zM14.0 157.5h0.7v0.7h-0.7zM14.3 157.2h0.7v0.7h-0.7zM15.6 157.1h0.7v0.7h-0.7zM16.1 157.1h0.7v0.7h-0.7zM16.7 157.5h0.7v0.7h-0.7zM17.1 157.1h0.7v0.7h-0.7zM18.4 156.9h0.7v0.7h-0.7zM18.7 157.3h0.7v0.7h-0.7zM19.8 157.2h0.7v0.7h-0.7zM20.1 156.9h0.7v0.7h-0.7zM21.1 157.0h0.7v0.7h-0.7zM21.7 157.5h0.7v0.7h-0.7zM22.2 157.2h0.7v0.7h-0.7zM23.1 157.1h0.7v0.7h-0.7zM23.9 157.0h0.7v0.7h-0.7zM24.3 157.5h0.7v0.7h-0.7zM25.1 156.9h0.7v0.7h-0.7zM25.9 157.2h0.7v0.7h-0.7zM26.2 157.4h0.7v0.7h-0.7zM27.0 157.0h0.7v0.7h-0.7zM27.9 157.0h0.7v0.7h-0.7zM29.6 157.2h0.7v0.7h-0.7zM30.0 157.1h0.7v0.7h-0.7zM31.5 157.0h0.7v0.7h-0.7zM14.4 157.8h0.7v0.7h-0.7zM15.1 158.1h0.7v0.7h-0.7zM15.9 157.7h0.7v0.7h-0.7zM16.8 158.0h0.7v0.7h-0.7zM17.4 158.1h0.7v0.7h-0.7zM18.2 158.2h0.7v0.7h-0.7zM18.9 157.7h0.7v0.7h-0.7zM19.7 157.7h0.7v0.7h-0.7zM20.0 158.1h0.7v0.7h-0.7zM20.6 158.2h0.7v0.7h-0.7zM21.6 158.2h0.7v0.7h-0.7zM22.0 158.2h0.7v0.7h-0.7zM23.2 158.2h0.7v0.7h-0.7zM23.6 157.6h0.7v0.7h-0.7zM24.5 157.8h0.7v0.7h-0.7zM25.0 157.6h0.7v0.7h-0.7zM25.6 158.2h0.7v0.7h-0.7zM26.5 158.2h0.7v0.7h-0.7zM27.3 158.2h0.7v0.7h-0.7zM29.4 157.8h0.7v0.7h-0.7zM14.8 158.5h0.7v0.7h-0.7zM15.6 158.5h0.7v0.7h-0.7zM15.9 158.9h0.7v0.7h-0.7zM16.5 158.8h0.7v0.7h-0.7zM17.6 158.6h0.7v0.7h-0.7zM18.3 158.4h0.7v0.7h-0.7zM18.9 158.3h0.7v0.7h-0.7zM19.4 158.5h0.7v0.7h-0.7zM20.3 158.8h0.7v0.7h-0.7zM21.0 158.8h0.7v0.7h-0.7zM21.4 158.9h0.7v0.7h-0.7zM22.0 158.8h0.7v0.7h-0.7zM23.2 158.6h0.7v0.7h-0.7zM23.7 158.7h0.7v0.7h-0.7zM25.8 158.7h0.7v0.7h-0.7zM14.5 159.2h0.7v0.7h-0.7zM15.1 159.5h0.7v0.7h-0.7zM16.3 159.3h0.7v0.7h-0.7zM16.7 159.6h0.7v0.7h-0.7zM17.7 159.4h0.7v0.7h-0.7zM17.9 159.3h0.7v0.7h-0.7zM19.0 159.1h0.7v0.7h-0.7zM19.3 159.0h0.7v0.7h-0.7zM20.4 159.6h0.7v0.7h-0.7zM21.7 159.5h0.7v0.7h-0.7zM22.2 159.2h0.7v0.7h-0.7zM22.8 159.3h0.7v0.7h-0.7zM24.0 159.6h0.7v0.7h-0.7zM24.6 159.3h0.7v0.7h-0.7zM14.2 160.2h0.7v0.7h-0.7zM14.6 159.9h0.7v0.7h-0.7zM15.2 160.1h0.7v0.7h-0.7zM16.7 160.1h0.7v0.7h-0.7zM19.4 159.7h0.7v0.7h-0.7zM20.1 159.8h0.7v0.7h-0.7zM20.7 159.9h0.7v0.7h-0.7zM21.6 160.0h0.7v0.7h-0.7zM22.3 160.2h0.7v0.7h-0.7zM23.3 160.1h0.7v0.7h-0.7zM25.0 159.9h0.7v0.7h-0.7zM13.8 160.5h0.7v0.7h-0.7zM14.5 160.9h0.7v0.7h-0.7zM15.2 160.6h0.7v0.7h-0.7zM16.2 160.9h0.7v0.7h-0.7zM16.6 161.0h0.7v0.7h-0.7zM17.2 160.7h0.7v0.7h-0.7zM18.2 161.0h0.7v0.7h-0.7zM18.7 160.6h0.7v0.7h-0.7zM20.4 160.6h0.7v0.7h-0.7zM20.6 160.9h0.7v0.7h-0.7z" fill="#000" filter="url(#b05)"/>
<path d="M35.2 120.8h0.7v0.7h-0.7zM39.5 120.9h0.7v0.7h-0.7zM15.6 121.7h0.7v0.7h-0.7zM16.1 121.5h0.7v0.7h-0.7zM16.7 121.6h0.7v0.7h-0.7zM27.9 121.5h0.7v0.7h-0.7zM28.7 121.5h0.7v0.7h-0.7zM29.6 121.5h0.7v0.7h-0.7zM31.9 121.2h0.7v0.7h-0.7zM37.7 121.5h0.7v0.7h-0.7zM14.0 122.0h0.7v0.7h-0.7zM18.4 122.0h0.7v0.7h-0.7zM23.9 122.0h0.7v0.7h-0.7zM31.1 122.3h0.7v0.7h-0.7zM32.5 122.5h0.7v0.7h-0.7zM40.0 122.2h0.7v0.7h-0.7zM43.5 122.1h0.7v0.7h-0.7zM46.3 122.4h0.7v0.7h-0.7zM46.9 122.1h0.7v0.7h-0.7zM47.6 122.0h0.7v0.7h-0.7zM21.8 122.8h0.7v0.7h-0.7zM25.1 123.1h0.7v0.7h-0.7zM35.1 123.0h0.7v0.7h-0.7zM35.5 122.7h0.7v0.7h-0.7zM45.8 122.7h0.7v0.7h-0.7zM20.0 123.4h0.7v0.7h-0.7zM21.1 123.4h0.7v0.7h-0.7zM47.3 123.7h0.7v0.7h-0.7zM17.2 124.1h0.7v0.7h-0.7zM20.5 124.3h0.7v0.7h-0.7zM21.9 124.5h0.7v0.7h-0.7zM29.5 124.6h0.7v0.7h-0.7zM30.3 124.1h0.7v0.7h-0.7zM31.6 124.4h0.7v0.7h-0.7zM33.1 124.3h0.7v0.7h-0.7zM48.1 124.6h0.7v0.7h-0.7zM15.9 124.9h0.7v0.7h-0.7zM30.9 125.2h0.7v0.7h-0.7zM39.0 124.7h0.7v0.7h-0.7zM42.4 124.9h0.7v0.7h-0.7zM17.1 125.5h0.7v0.7h-0.7zM21.0 125.9h0.7v0.7h-0.7zM31.3 125.9h0.7v0.7h-0.7zM40.6 125.9h0.7v0.7h-0.7zM42.0 125.8h0.7v0.7h-0.7zM14.6 126.7h0.7v0.7h-0.7zM15.0 126.5h0.7v0.7h-0.7zM21.8 126.7h0.7v0.7h-0.7zM31.9 126.3h0.7v0.7h-0.7zM38.4 126.2h0.7v0.7h-0.7zM14.3 127.3h0.7v0.7h-0.7zM16.0 127.1h0.7v0.7h-0.7zM27.2 126.9h0.7v0.7h-0.7zM28.6 126.8h0.7v0.7h-0.7zM30.8 126.9h0.7v0.7h-0.7zM31.4 127.1h0.7v0.7h-0.7zM32.6 127.2h0.7v0.7h-0.7zM35.1 126.9h0.7v0.7h-0.7zM35.7 127.3h0.7v0.7h-0.7zM37.0 127.2h0.7v0.7h-0.7zM20.2 127.6h0.7v0.7h-0.7zM22.5 127.6h0.7v0.7h-0.7zM29.9 127.7h0.7v0.7h-0.7zM30.9 128.1h0.7v0.7h-0.7zM33.0 127.9h0.7v0.7h-0.7zM43.9 128.0h0.7v0.7h-0.7zM22.5 128.5h0.7v0.7h-0.7zM27.4 128.4h0.7v0.7h-0.7zM27.6 128.7h0.7v0.7h-0.7zM31.3 128.5h0.7v0.7h-0.7zM35.2 128.6h0.7v0.7h-0.7zM39.9 128.4h0.7v0.7h-0.7zM17.9 129.0h0.7v0.7h-0.7zM20.8 129.4h0.7v0.7h-0.7zM26.4 129.0h0.7v0.7h-0.7zM33.0 129.2h0.7v0.7h-0.7zM33.7 129.1h0.7v0.7h-0.7zM34.1 129.3h0.7v0.7h-0.7zM45.2 129.2h0.7v0.7h-0.7zM47.5 128.9h0.7v0.7h-0.7zM13.8 130.2h0.7v0.7h-0.7zM30.5 129.9h0.7v0.7h-0.7zM33.6 130.0h0.7v0.7h-0.7zM34.4 129.7h0.7v0.7h-0.7zM38.4 130.1h0.7v0.7h-0.7zM40.4 129.9h0.7v0.7h-0.7zM27.0 130.3h0.7v0.7h-0.7zM45.4 130.7h0.7v0.7h-0.7zM30.3 131.2h0.7v0.7h-0.7zM39.6 131.0h0.7v0.7h-0.7zM13.6 131.8h0.7v0.7h-0.7zM15.6 131.9h0.7v0.7h-0.7zM34.3 132.1h0.7v0.7h-0.7zM37.3 132.2h0.7v0.7h-0.7zM37.9 132.3h0.7v0.7h-0.7zM40.3 132.1h0.7v0.7h-0.7zM46.2 132.2h0.7v0.7h-0.7zM13.1 133.0h0.7v0.7h-0.7zM14.4 133.0h0.7v0.7h-0.7zM16.2 132.5h0.7v0.7h-0.7zM18.2 133.0h0.7v0.7h-0.7zM20.4 132.9h0.7v0.7h-0.7zM25.8 132.6h0.7v0.7h-0.7zM32.6 133.0h0.7v0.7h-0.7zM36.1 132.6h0.7v0.7h-0.7zM38.1 132.6h0.7v0.7h-0.7zM14.0 133.4h0.7v0.7h-0.7zM16.8 133.4h0.7v0.7h-0.7zM19.6 133.4h0.7v0.7h-0.7zM36.8 133.2h0.7v0.7h-0.7zM38.4 133.3h0.7v0.7h-0.7zM40.0 133.7h0.7v0.7h-0.7zM45.5 133.1h0.7v0.7h-0.7zM31.6 134.2h0.7v0.7h-0.7zM32.1 134.2h0.7v0.7h-0.7zM37.1 134.0h0.7v0.7h-0.7zM42.4 133.9h0.7v0.7h-0.7zM46.2 133.8h0.7v0.7h-0.7zM18.4 134.9h0.7v0.7h-0.7zM20.9 134.8h0.7v0.7h-0.7zM26.1 134.6h0.7v0.7h-0.7zM31.0 135.0h0.7v0.7h-0.7zM35.4 134.9h0.7v0.7h-0.7zM38.4 134.6h0.7v0.7h-0.7zM42.0 135.1h0.7v0.7h-0.7zM47.5 135.1h0.7v0.7h-0.7zM13.4 135.5h0.7v0.7h-0.7zM14.3 135.5h0.7v0.7h-0.7zM19.8 135.7h0.7v0.7h-0.7zM21.7 135.7h0.7v0.7h-0.7zM30.4 135.3h0.7v0.7h-0.7zM34.3 135.7h0.7v0.7h-0.7zM43.3 135.3h0.7v0.7h-0.7zM44.1 135.6h0.7v0.7h-0.7zM48.0 135.4h0.7v0.7h-0.7zM22.6 136.2h0.7v0.7h-0.7zM22.9 135.9h0.7v0.7h-0.7zM23.8 136.4h0.7v0.7h-0.7zM29.3 136.3h0.7v0.7h-0.7zM38.2 135.9h0.7v0.7h-0.7zM41.3 136.2h0.7v0.7h-0.7zM45.2 136.1h0.7v0.7h-0.7zM14.8 137.0h0.7v0.7h-0.7zM18.6 137.2h0.7v0.7h-0.7zM24.8 137.2h0.7v0.7h-0.7zM27.8 136.9h0.7v0.7h-0.7zM46.2 137.0h0.7v0.7h-0.7zM46.8 136.9h0.7v0.7h-0.7zM13.4 137.5h0.7v0.7h-0.7zM14.2 137.6h0.7v0.7h-0.7zM41.5 137.9h0.7v0.7h-0.7zM46.3 137.7h0.7v0.7h-0.7zM14.1 138.4h0.7v0.7h-0.7zM15.8 138.5h0.7v0.7h-0.7zM22.2 138.6h0.7v0.7h-0.7zM23.2 138.4h0.7v0.7h-0.7zM26.0 138.0h0.7v0.7h-0.7zM33.0 138.5h0.7v0.7h-0.7zM36.4 138.3h0.7v0.7h-0.7zM45.9 138.9h0.7v0.7h-0.7zM47.2 138.9h0.7v0.7h-0.7zM17.2 139.5h0.7v0.7h-0.7zM25.3 139.7h0.7v0.7h-0.7zM28.2 139.4h0.7v0.7h-0.7zM28.5 139.9h0.7v0.7h-0.7zM31.3 139.4h0.7v0.7h-0.7zM34.4 139.9h0.7v0.7h-0.7zM37.4 139.8h0.7v0.7h-0.7zM38.7 140.0h0.7v0.7h-0.7zM43.5 139.6h0.7v0.7h-0.7zM14.6 140.4h0.7v0.7h-0.7zM17.3 140.3h0.7v0.7h-0.7zM26.2 140.7h0.7v0.7h-0.7zM27.4 140.4h0.7v0.7h-0.7zM29.5 140.3h0.7v0.7h-0.7zM29.7 140.2h0.7v0.7h-0.7zM30.6 140.6h0.7v0.7h-0.7zM36.1 140.4h0.7v0.7h-0.7zM37.6 140.4h0.7v0.7h-0.7zM38.5 140.7h0.7v0.7h-0.7zM41.3 140.4h0.7v0.7h-0.7zM13.6 141.1h0.7v0.7h-0.7zM14.7 140.8h0.7v0.7h-0.7zM15.4 141.0h0.7v0.7h-0.7zM27.5 141.0h0.7v0.7h-0.7zM33.5 141.0h0.7v0.7h-0.7zM34.3 141.2h0.7v0.7h-0.7zM40.2 141.3h0.7v0.7h-0.7zM43.6 141.2h0.7v0.7h-0.7zM14.0 141.6h0.7v0.7h-0.7zM19.3 142.1h0.7v0.7h-0.7zM24.7 141.8h0.7v0.7h-0.7zM25.5 141.5h0.7v0.7h-0.7zM28.6 142.0h0.7v0.7h-0.7zM33.3 141.7h0.7v0.7h-0.7zM35.1 141.8h0.7v0.7h-0.7zM37.1 141.5h0.7v0.7h-0.7zM40.4 141.9h0.7v0.7h-0.7zM41.8 141.8h0.7v0.7h-0.7zM43.7 142.1h0.7v0.7h-0.7zM45.5 142.0h0.7v0.7h-0.7zM48.1 141.6h0.7v0.7h-0.7zM16.3 142.4h0.7v0.7h-0.7zM17.3 142.7h0.7v0.7h-0.7zM24.5 142.4h0.7v0.7h-0.7zM28.8 142.3h0.7v0.7h-0.7zM31.0 142.8h0.7v0.7h-0.7zM31.4 142.4h0.7v0.7h-0.7zM33.2 142.5h0.7v0.7h-0.7zM46.4 142.7h0.7v0.7h-0.7zM17.5 143.2h0.7v0.7h-0.7zM24.6 143.2h0.7v0.7h-0.7zM26.8 143.0h0.7v0.7h-0.7zM28.6 143.4h0.7v0.7h-0.7zM33.4 143.3h0.7v0.7h-0.7zM34.1 143.0h0.7v0.7h-0.7zM40.0 143.0h0.7v0.7h-0.7zM41.1 143.3h0.7v0.7h-0.7zM44.8 143.0h0.7v0.7h-0.7zM46.2 143.0h0.7v0.7h-0.7zM14.9 143.7h0.7v0.7h-0.7zM19.4 143.7h0.7v0.7h-0.7zM20.1 144.0h0.7v0.7h-0.7zM22.7 143.8h0.7v0.7h-0.7zM27.4 144.2h0.7v0.7h-0.7zM28.0 143.7h0.7v0.7h-0.7zM31.4 143.8h0.7v0.7h-0.7zM36.8 143.7h0.7v0.7h-0.7zM46.0 144.0h0.7v0.7h-0.7zM46.7 144.0h0.7v0.7h-0.7zM17.1 144.3h0.7v0.7h-0.7zM30.2 144.6h0.7v0.7h-0.7zM38.6 144.5h0.7v0.7h-0.7zM38.8 144.5h0.7v0.7h-0.7zM40.8 144.5h0.7v0.7h-0.7zM44.2 144.4h0.7v0.7h-0.7zM17.5 145.4h0.7v0.7h-0.7zM18.4 145.2h0.7v0.7h-0.7zM24.4 145.0h0.7v0.7h-0.7zM30.7 145.5h0.7v0.7h-0.7zM35.9 145.4h0.7v0.7h-0.7zM37.6 145.4h0.7v0.7h-0.7zM40.7 145.5h0.7v0.7h-0.7zM42.7 145.5h0.7v0.7h-0.7zM45.5 145.6h0.7v0.7h-0.7zM52.7 145.1h0.7v0.7h-0.7zM15.4 146.3h0.7v0.7h-0.7zM18.4 145.9h0.7v0.7h-0.7zM19.5 145.9h0.7v0.7h-0.7zM22.8 146.1h0.7v0.7h-0.7zM32.4 145.9h0.7v0.7h-0.7zM34.3 145.9h0.7v0.7h-0.7zM35.1 146.2h0.7v0.7h-0.7zM38.9 145.9h0.7v0.7h-0.7zM44.7 145.8h0.7v0.7h-0.7zM15.8 146.4h0.7v0.7h-0.7zM19.8 146.6h0.7v0.7h-0.7zM21.0 147.0h0.7v0.7h-0.7zM34.8 146.4h0.7v0.7h-0.7zM40.5 147.0h0.7v0.7h-0.7zM43.1 147.0h0.7v0.7h-0.7zM16.9 147.1h0.7v0.7h-0.7zM19.0 147.7h0.7v0.7h-0.7zM19.5 147.6h0.7v0.7h-0.7zM20.7 147.3h0.7v0.7h-0.7zM27.1 147.2h0.7v0.7h-0.7zM27.6 147.2h0.7v0.7h-0.7zM28.4 147.7h0.7v0.7h-0.7zM31.0 147.3h0.7v0.7h-0.7zM35.7 147.5h0.7v0.7h-0.7zM38.3 147.7h0.7v0.7h-0.7zM40.6 147.3h0.7v0.7h-0.7zM44.0 147.5h0.7v0.7h-0.7zM52.2 147.6h0.7v0.7h-0.7zM13.5 147.8h0.7v0.7h-0.7zM13.6 147.8h0.7v0.7h-0.7zM19.0 148.2h0.7v0.7h-0.7zM20.1 148.0h0.7v0.7h-0.7zM24.0 147.9h0.7v0.7h-0.7zM27.0 148.1h0.7v0.7h-0.7zM31.5 148.4h0.7v0.7h-0.7zM41.1 148.4h0.7v0.7h-0.7zM46.1 148.1h0.7v0.7h-0.7zM47.3 148.2h0.7v0.7h-0.7zM16.1 148.9h0.7v0.7h-0.7zM21.0 148.6h0.7v0.7h-0.7zM43.6 148.6h0.7v0.7h-0.7zM47.1 148.8h0.7v0.7h-0.7zM16.9 149.3h0.7v0.7h-0.7zM20.2 149.4h0.7v0.7h-0.7zM21.0 149.6h0.7v0.7h-0.7zM24.7 149.5h0.7v0.7h-0.7zM31.0 149.8h0.7v0.7h-0.7zM35.9 149.6h0.7v0.7h-0.7zM44.3 149.5h0.7v0.7h-0.7zM46.0 149.4h0.7v0.7h-0.7zM42.4 150.3h0.7v0.7h-0.7zM44.8 150.3h0.7v0.7h-0.7zM46.2 150.1h0.7v0.7h-0.7zM47.3 150.0h0.7v0.7h-0.7zM43.6 150.8h0.7v0.7h-0.7zM45.6 150.9h0.7v0.7h-0.7zM51.6 150.7h0.7v0.7h-0.7zM48.7 152.6h0.7v0.7h-0.7zM50.4 153.1h0.7v0.7h-0.7zM43.8 153.7h0.7v0.7h-0.7zM51.9 153.6h0.7v0.7h-0.7zM45.5 154.7h0.7v0.7h-0.7zM49.8 154.6h0.7v0.7h-0.7zM42.1 155.0h0.7v0.7h-0.7zM47.2 155.1h0.7v0.7h-0.7zM51.2 156.6h0.7v0.7h-0.7zM43.8 157.0h0.7v0.7h-0.7zM52.4 157.3h0.7v0.7h-0.7zM51.5 157.7h0.7v0.7h-0.7zM45.6 158.7h0.7v0.7h-0.7zM51.0 158.8h0.7v0.7h-0.7zM42.8 159.0h0.7v0.7h-0.7zM52.4 159.6h0.7v0.7h-0.7zM47.3 159.9h0.7v0.7h-0.7z" fill="#8a8a8a" filter="url(#b05)"/>
<path d="M14.8 160.8L15.0 155.5L17.5 153.5L21 152.5L24 153L22 157L18.5 159.8Z" fill="#000" fill-opacity="0.95" filter="url(#b05)"/>
<path d="M13.5 160.4L14.1 153.6L16.6 150.6L24.6 145.0L27.7 145.3L38.1 149.3L38.7 151.2L36.3 154.9L32.6 157.3L24.0 160.4L19.1 161.5L14.8 161.5Z" stroke="#222" stroke-width="0.9" fill="none"/>
<text x="45.68" y="161.22" font-size="3.2" font-weight="normal" fill="#333" textLength="6.12" lengthAdjust="spacingAndGlyphs">91.5</text>
<rect x="72.5" y="112.2" width="51.30" height="49.90" fill="none" stroke="#8a8a8a" stroke-width="0.9"/>
<rect x="101.0" y="123.6" width="18.4" height="20.8" fill="none" stroke="#666" stroke-width="1.0"/>
<path d="M84.6 139.7h0.7v0.7h-0.7zM77.5 140.7h0.7v0.7h-0.7zM79.7 140.7h0.7v0.7h-0.7zM87.5 140.6h0.7v0.7h-0.7zM79.2 141.1h0.7v0.7h-0.7zM78.4 141.6h0.7v0.7h-0.7zM79.3 142.0h0.7v0.7h-0.7zM80.1 141.5h0.7v0.7h-0.7zM83.4 141.9h0.7v0.7h-0.7zM85.9 141.9h0.7v0.7h-0.7zM88.2 141.9h0.7v0.7h-0.7zM75.4 142.6h0.7v0.7h-0.7zM77.3 142.8h0.7v0.7h-0.7zM80.1 142.7h0.7v0.7h-0.7zM83.4 142.4h0.7v0.7h-0.7zM87.4 142.7h0.7v0.7h-0.7zM77.1 143.3h0.7v0.7h-0.7zM78.1 143.1h0.7v0.7h-0.7zM83.0 143.2h0.7v0.7h-0.7zM85.6 143.4h0.7v0.7h-0.7zM87.6 143.0h0.7v0.7h-0.7zM84.9 144.1h0.7v0.7h-0.7zM88.2 143.6h0.7v0.7h-0.7zM82.6 144.5h0.7v0.7h-0.7zM84.2 144.4h0.7v0.7h-0.7zM87.2 144.7h0.7v0.7h-0.7zM76.2 145.0h0.7v0.7h-0.7zM76.8 145.0h0.7v0.7h-0.7zM77.8 145.3h0.7v0.7h-0.7zM81.3 145.3h0.7v0.7h-0.7zM84.2 145.4h0.7v0.7h-0.7zM85.0 145.3h0.7v0.7h-0.7zM86.7 145.6h0.7v0.7h-0.7zM75.4 146.2h0.7v0.7h-0.7zM77.2 145.9h0.7v0.7h-0.7zM77.9 146.1h0.7v0.7h-0.7zM79.0 145.9h0.7v0.7h-0.7zM80.0 146.2h0.7v0.7h-0.7zM82.6 145.7h0.7v0.7h-0.7zM83.1 145.9h0.7v0.7h-0.7zM83.8 146.2h0.7v0.7h-0.7zM84.6 146.1h0.7v0.7h-0.7zM85.7 146.1h0.7v0.7h-0.7zM85.9 145.8h0.7v0.7h-0.7zM75.9 146.4h0.7v0.7h-0.7zM76.1 146.5h0.7v0.7h-0.7zM76.9 146.9h0.7v0.7h-0.7zM77.8 147.0h0.7v0.7h-0.7zM78.5 146.6h0.7v0.7h-0.7zM79.1 147.0h0.7v0.7h-0.7zM79.7 146.9h0.7v0.7h-0.7zM80.6 146.6h0.7v0.7h-0.7zM81.0 146.7h0.7v0.7h-0.7zM81.9 146.5h0.7v0.7h-0.7zM82.8 146.7h0.7v0.7h-0.7zM83.1 146.7h0.7v0.7h-0.7zM84.1 146.8h0.7v0.7h-0.7zM84.4 146.4h0.7v0.7h-0.7zM85.4 146.5h0.7v0.7h-0.7zM86.2 146.5h0.7v0.7h-0.7zM86.9 146.5h0.7v0.7h-0.7zM87.8 146.9h0.7v0.7h-0.7zM88.3 146.8h0.7v0.7h-0.7zM75.7 147.2h0.7v0.7h-0.7zM76.3 147.1h0.7v0.7h-0.7zM77.2 147.5h0.7v0.7h-0.7zM77.8 147.2h0.7v0.7h-0.7zM78.6 147.2h0.7v0.7h-0.7zM79.3 147.5h0.7v0.7h-0.7zM80.0 147.5h0.7v0.7h-0.7zM80.6 147.4h0.7v0.7h-0.7zM81.1 147.6h0.7v0.7h-0.7zM82.2 147.2h0.7v0.7h-0.7zM82.9 147.3h0.7v0.7h-0.7zM83.5 147.3h0.7v0.7h-0.7zM83.7 147.2h0.7v0.7h-0.7zM84.7 147.7h0.7v0.7h-0.7zM85.5 147.7h0.7v0.7h-0.7zM86.2 147.7h0.7v0.7h-0.7zM86.6 147.2h0.7v0.7h-0.7zM87.6 147.3h0.7v0.7h-0.7zM88.1 147.3h0.7v0.7h-0.7zM76.4 148.4h0.7v0.7h-0.7zM77.2 148.3h0.7v0.7h-0.7zM77.5 148.2h0.7v0.7h-0.7zM78.2 148.4h0.7v0.7h-0.7zM78.9 148.4h0.7v0.7h-0.7zM79.6 148.2h0.7v0.7h-0.7zM80.8 147.9h0.7v0.7h-0.7zM81.0 148.2h0.7v0.7h-0.7zM81.6 147.9h0.7v0.7h-0.7zM82.9 148.4h0.7v0.7h-0.7zM83.2 148.2h0.7v0.7h-0.7zM84.0 148.4h0.7v0.7h-0.7zM84.6 148.3h0.7v0.7h-0.7zM85.3 148.1h0.7v0.7h-0.7zM86.0 148.2h0.7v0.7h-0.7zM87.0 148.1h0.7v0.7h-0.7zM87.5 148.0h0.7v0.7h-0.7zM88.3 148.4h0.7v0.7h-0.7zM76.4 148.8h0.7v0.7h-0.7zM76.8 148.7h0.7v0.7h-0.7zM78.0 149.0h0.7v0.7h-0.7zM78.4 148.9h0.7v0.7h-0.7zM79.2 148.6h0.7v0.7h-0.7zM80.0 148.8h0.7v0.7h-0.7zM80.3 148.9h0.7v0.7h-0.7zM81.0 149.1h0.7v0.7h-0.7zM81.9 148.6h0.7v0.7h-0.7zM82.5 148.9h0.7v0.7h-0.7zM83.4 148.7h0.7v0.7h-0.7zM84.0 148.7h0.7v0.7h-0.7zM85.0 148.7h0.7v0.7h-0.7zM85.4 149.0h0.7v0.7h-0.7zM86.1 148.9h0.7v0.7h-0.7zM86.9 148.6h0.7v0.7h-0.7zM87.7 148.7h0.7v0.7h-0.7zM76.4 149.8h0.7v0.7h-0.7zM77.2 149.4h0.7v0.7h-0.7zM77.8 149.8h0.7v0.7h-0.7zM78.1 149.6h0.7v0.7h-0.7zM79.4 149.5h0.7v0.7h-0.7zM79.6 149.3h0.7v0.7h-0.7zM80.8 149.2h0.7v0.7h-0.7zM80.9 149.3h0.7v0.7h-0.7zM81.7 149.2h0.7v0.7h-0.7zM82.6 149.2h0.7v0.7h-0.7zM83.5 149.5h0.7v0.7h-0.7zM83.7 149.5h0.7v0.7h-0.7zM84.9 149.6h0.7v0.7h-0.7zM85.5 149.5h0.7v0.7h-0.7zM86.3 149.8h0.7v0.7h-0.7zM86.8 149.4h0.7v0.7h-0.7zM87.7 149.6h0.7v0.7h-0.7zM75.6 150.4h0.7v0.7h-0.7zM76.1 150.0h0.7v0.7h-0.7zM76.8 150.0h0.7v0.7h-0.7zM77.6 150.3h0.7v0.7h-0.7zM78.2 150.4h0.7v0.7h-0.7zM79.1 150.2h0.7v0.7h-0.7zM80.1 150.4h0.7v0.7h-0.7zM80.4 150.1h0.7v0.7h-0.7zM81.4 149.9h0.7v0.7h-0.7zM81.9 150.4h0.7v0.7h-0.7zM82.4 150.2h0.7v0.7h-0.7zM83.1 150.4h0.7v0.7h-0.7zM84.0 150.3h0.7v0.7h-0.7zM84.5 150.5h0.7v0.7h-0.7zM85.4 149.9h0.7v0.7h-0.7zM85.9 150.0h0.7v0.7h-0.7zM86.9 150.4h0.7v0.7h-0.7zM87.5 149.9h0.7v0.7h-0.7zM87.9 150.0h0.7v0.7h-0.7zM76.4 151.1h0.7v0.7h-0.7zM77.0 151.0h0.7v0.7h-0.7zM77.8 150.8h0.7v0.7h-0.7zM78.7 150.9h0.7v0.7h-0.7zM79.1 150.6h0.7v0.7h-0.7zM79.5 150.9h0.7v0.7h-0.7zM80.5 151.0h0.7v0.7h-0.7zM81.1 151.1h0.7v0.7h-0.7zM81.8 150.9h0.7v0.7h-0.7zM82.8 151.0h0.7v0.7h-0.7zM83.1 151.1h0.7v0.7h-0.7zM84.0 151.0h0.7v0.7h-0.7zM84.6 150.8h0.7v0.7h-0.7zM85.7 150.9h0.7v0.7h-0.7zM86.1 150.8h0.7v0.7h-0.7zM87.0 150.8h0.7v0.7h-0.7zM87.4 150.8h0.7v0.7h-0.7zM88.3 151.1h0.7v0.7h-0.7zM75.6 151.5h0.7v0.7h-0.7zM76.3 151.9h0.7v0.7h-0.7zM77.1 151.6h0.7v0.7h-0.7zM77.8 151.3h0.7v0.7h-0.7zM78.3 151.5h0.7v0.7h-0.7zM79.3 151.5h0.7v0.7h-0.7zM79.8 151.6h0.7v0.7h-0.7zM80.7 151.8h0.7v0.7h-0.7zM81.5 151.3h0.7v0.7h-0.7zM82.0 151.5h0.7v0.7h-0.7zM82.7 151.7h0.7v0.7h-0.7zM83.2 151.7h0.7v0.7h-0.7zM84.2 151.4h0.7v0.7h-0.7zM84.6 151.4h0.7v0.7h-0.7zM85.3 151.8h0.7v0.7h-0.7zM86.0 151.4h0.7v0.7h-0.7zM86.6 151.5h0.7v0.7h-0.7zM87.4 151.8h0.7v0.7h-0.7zM87.9 151.7h0.7v0.7h-0.7zM76.7 152.6h0.7v0.7h-0.7zM77.8 152.4h0.7v0.7h-0.7zM78.6 152.6h0.7v0.7h-0.7zM79.3 152.2h0.7v0.7h-0.7zM80.0 152.6h0.7v0.7h-0.7zM80.6 152.6h0.7v0.7h-0.7zM81.3 152.1h0.7v0.7h-0.7zM81.9 152.2h0.7v0.7h-0.7zM82.9 152.5h0.7v0.7h-0.7zM83.0 152.1h0.7v0.7h-0.7zM84.2 152.4h0.7v0.7h-0.7zM84.5 152.6h0.7v0.7h-0.7zM85.2 152.5h0.7v0.7h-0.7zM86.3 152.3h0.7v0.7h-0.7zM86.8 152.4h0.7v0.7h-0.7zM87.3 152.2h0.7v0.7h-0.7zM88.2 152.5h0.7v0.7h-0.7zM76.6 153.0h0.7v0.7h-0.7zM77.3 153.0h0.7v0.7h-0.7zM77.7 153.3h0.7v0.7h-0.7zM78.3 153.1h0.7v0.7h-0.7zM79.3 153.1h0.7v0.7h-0.7zM80.0 153.1h0.7v0.7h-0.7zM80.5 153.3h0.7v0.7h-0.7zM81.1 152.8h0.7v0.7h-0.7zM81.7 153.1h0.7v0.7h-0.7zM82.8 152.9h0.7v0.7h-0.7zM83.5 153.2h0.7v0.7h-0.7zM83.9 153.2h0.7v0.7h-0.7zM84.4 152.7h0.7v0.7h-0.7zM85.5 153.2h0.7v0.7h-0.7zM85.8 152.9h0.7v0.7h-0.7zM86.9 153.1h0.7v0.7h-0.7zM87.2 153.3h0.7v0.7h-0.7zM88.0 153.0h0.7v0.7h-0.7zM76.1 153.7h0.7v0.7h-0.7zM76.8 153.9h0.7v0.7h-0.7zM77.8 153.4h0.7v0.7h-0.7zM78.7 153.7h0.7v0.7h-0.7zM79.3 153.8h0.7v0.7h-0.7zM79.6 153.7h0.7v0.7h-0.7zM80.7 153.7h0.7v0.7h-0.7zM81.0 153.4h0.7v0.7h-0.7zM81.7 153.8h0.7v0.7h-0.7zM82.8 153.8h0.7v0.7h-0.7zM83.2 154.0h0.7v0.7h-0.7zM83.8 153.7h0.7v0.7h-0.7zM84.5 153.9h0.7v0.7h-0.7zM85.6 154.0h0.7v0.7h-0.7zM85.8 153.5h0.7v0.7h-0.7zM86.6 153.7h0.7v0.7h-0.7zM87.8 153.8h0.7v0.7h-0.7zM75.5 154.6h0.7v0.7h-0.7zM76.3 154.5h0.7v0.7h-0.7zM77.1 154.7h0.7v0.7h-0.7zM78.0 154.2h0.7v0.7h-0.7zM78.2 154.4h0.7v0.7h-0.7zM78.9 154.2h0.7v0.7h-0.7zM79.6 154.7h0.7v0.7h-0.7zM80.2 154.5h0.7v0.7h-0.7zM81.3 154.3h0.7v0.7h-0.7zM81.9 154.2h0.7v0.7h-0.7zM82.8 154.5h0.7v0.7h-0.7zM83.6 154.6h0.7v0.7h-0.7zM83.9 154.5h0.7v0.7h-0.7zM84.6 154.4h0.7v0.7h-0.7zM85.3 154.3h0.7v0.7h-0.7zM86.0 154.1h0.7v0.7h-0.7zM87.1 154.7h0.7v0.7h-0.7zM87.4 154.2h0.7v0.7h-0.7zM88.0 154.4h0.7v0.7h-0.7zM75.5 155.2h0.7v0.7h-0.7zM76.3 155.2h0.7v0.7h-0.7zM77.1 155.4h0.7v0.7h-0.7zM77.8 155.2h0.7v0.7h-0.7zM78.4 154.8h0.7v0.7h-0.7zM79.4 155.2h0.7v0.7h-0.7zM79.5 155.2h0.7v0.7h-0.7zM80.4 155.3h0.7v0.7h-0.7zM81.4 155.0h0.7v0.7h-0.7zM81.6 155.0h0.7v0.7h-0.7zM82.8 155.3h0.7v0.7h-0.7zM83.1 155.3h0.7v0.7h-0.7zM84.1 155.0h0.7v0.7h-0.7zM85.0 155.3h0.7v0.7h-0.7zM85.2 155.0h0.7v0.7h-0.7zM86.4 155.1h0.7v0.7h-0.7zM86.6 155.2h0.7v0.7h-0.7zM87.2 155.0h0.7v0.7h-0.7zM88.1 154.9h0.7v0.7h-0.7zM75.8 155.6h0.7v0.7h-0.7zM76.6 155.5h0.7v0.7h-0.7zM77.0 156.1h0.7v0.7h-0.7zM78.0 155.7h0.7v0.7h-0.7zM78.2 155.6h0.7v0.7h-0.7zM78.9 156.1h0.7v0.7h-0.7zM79.9 155.8h0.7v0.7h-0.7zM80.6 156.0h0.7v0.7h-0.7zM81.0 155.7h0.7v0.7h-0.7zM81.7 156.0h0.7v0.7h-0.7zM82.5 155.5h0.7v0.7h-0.7zM83.4 155.8h0.7v0.7h-0.7zM83.8 155.7h0.7v0.7h-0.7zM84.6 155.9h0.7v0.7h-0.7zM85.2 155.9h0.7v0.7h-0.7zM86.0 156.1h0.7v0.7h-0.7zM86.7 155.8h0.7v0.7h-0.7zM76.3 156.5h0.7v0.7h-0.7zM76.9 156.4h0.7v0.7h-0.7zM77.8 156.5h0.7v0.7h-0.7zM78.6 156.3h0.7v0.7h-0.7zM78.8 156.8h0.7v0.7h-0.7zM79.9 156.7h0.7v0.7h-0.7zM80.4 156.5h0.7v0.7h-0.7zM81.3 156.6h0.7v0.7h-0.7zM82.1 156.4h0.7v0.7h-0.7zM82.9 156.7h0.7v0.7h-0.7zM83.3 156.6h0.7v0.7h-0.7zM84.1 156.7h0.7v0.7h-0.7zM84.6 156.5h0.7v0.7h-0.7zM85.5 156.7h0.7v0.7h-0.7zM86.3 156.5h0.7v0.7h-0.7zM87.0 156.6h0.7v0.7h-0.7zM87.7 156.8h0.7v0.7h-0.7zM75.8 157.5h0.7v0.7h-0.7zM76.3 156.9h0.7v0.7h-0.7zM77.3 157.0h0.7v0.7h-0.7zM77.7 157.0h0.7v0.7h-0.7zM78.2 157.1h0.7v0.7h-0.7zM79.2 157.4h0.7v0.7h-0.7zM79.6 157.1h0.7v0.7h-0.7zM80.3 157.0h0.7v0.7h-0.7zM81.1 156.9h0.7v0.7h-0.7zM82.0 157.3h0.7v0.7h-0.7zM82.8 157.4h0.7v0.7h-0.7zM83.4 157.1h0.7v0.7h-0.7zM83.8 157.2h0.7v0.7h-0.7zM84.5 157.1h0.7v0.7h-0.7zM85.7 157.2h0.7v0.7h-0.7zM85.8 157.2h0.7v0.7h-0.7zM87.0 157.3h0.7v0.7h-0.7zM87.6 156.9h0.7v0.7h-0.7zM88.1 156.9h0.7v0.7h-0.7zM76.2 158.1h0.7v0.7h-0.7zM76.8 157.7h0.7v0.7h-0.7zM77.8 157.6h0.7v0.7h-0.7zM78.2 157.9h0.7v0.7h-0.7zM78.8 158.2h0.7v0.7h-0.7zM80.0 157.6h0.7v0.7h-0.7zM80.7 157.8h0.7v0.7h-0.7zM81.4 157.7h0.7v0.7h-0.7zM82.0 157.7h0.7v0.7h-0.7zM82.6 158.0h0.7v0.7h-0.7zM83.2 157.9h0.7v0.7h-0.7zM83.8 158.0h0.7v0.7h-0.7zM84.9 158.1h0.7v0.7h-0.7zM85.3 157.9h0.7v0.7h-0.7zM86.1 158.0h0.7v0.7h-0.7zM86.7 158.1h0.7v0.7h-0.7zM87.7 157.7h0.7v0.7h-0.7zM88.1 158.0h0.7v0.7h-0.7zM76.3 158.7h0.7v0.7h-0.7zM77.0 158.7h0.7v0.7h-0.7zM77.8 158.9h0.7v0.7h-0.7zM78.7 158.9h0.7v0.7h-0.7zM79.2 158.7h0.7v0.7h-0.7zM79.8 158.8h0.7v0.7h-0.7zM80.7 158.4h0.7v0.7h-0.7zM81.2 158.8h0.7v0.7h-0.7zM82.0 158.8h0.7v0.7h-0.7zM82.4 158.5h0.7v0.7h-0.7zM83.4 158.9h0.7v0.7h-0.7zM83.9 158.7h0.7v0.7h-0.7zM84.9 158.4h0.7v0.7h-0.7zM85.6 158.6h0.7v0.7h-0.7zM85.8 158.4h0.7v0.7h-0.7zM86.7 158.7h0.7v0.7h-0.7zM76.1 159.3h0.7v0.7h-0.7zM77.0 159.5h0.7v0.7h-0.7zM77.8 159.5h0.7v0.7h-0.7zM78.3 159.3h0.7v0.7h-0.7zM79.1 159.1h0.7v0.7h-0.7zM79.8 159.0h0.7v0.7h-0.7zM80.4 159.5h0.7v0.7h-0.7zM81.2 159.2h0.7v0.7h-0.7zM82.1 159.0h0.7v0.7h-0.7zM82.9 159.2h0.7v0.7h-0.7zM83.4 159.0h0.7v0.7h-0.7zM83.8 159.1h0.7v0.7h-0.7zM85.0 159.2h0.7v0.7h-0.7zM85.2 159.1h0.7v0.7h-0.7zM86.0 159.6h0.7v0.7h-0.7zM86.6 159.1h0.7v0.7h-0.7zM87.6 159.3h0.7v0.7h-0.7zM88.1 159.4h0.7v0.7h-0.7zM75.5 160.2h0.7v0.7h-0.7zM76.5 160.3h0.7v0.7h-0.7zM77.2 160.1h0.7v0.7h-0.7zM78.0 160.1h0.7v0.7h-0.7zM78.4 160.1h0.7v0.7h-0.7zM78.9 159.8h0.7v0.7h-0.7zM79.8 160.1h0.7v0.7h-0.7zM80.7 159.9h0.7v0.7h-0.7zM81.2 160.1h0.7v0.7h-0.7zM82.2 160.2h0.7v0.7h-0.7zM82.7 160.1h0.7v0.7h-0.7zM83.4 159.8h0.7v0.7h-0.7zM83.9 160.1h0.7v0.7h-0.7zM84.5 160.0h0.7v0.7h-0.7zM85.6 160.0h0.7v0.7h-0.7zM86.0 160.2h0.7v0.7h-0.7zM86.6 160.3h0.7v0.7h-0.7zM87.5 160.0h0.7v0.7h-0.7zM88.9 160.2h0.7v0.7h-0.7zM76.3 161.0h0.7v0.7h-0.7zM77.5 160.5h0.7v0.7h-0.7zM78.3 160.5h0.7v0.7h-0.7zM79.3 160.5h0.7v0.7h-0.7zM79.7 160.9h0.7v0.7h-0.7zM80.4 160.8h0.7v0.7h-0.7zM81.5 161.0h0.7v0.7h-0.7zM82.0 160.8h0.7v0.7h-0.7zM83.5 160.5h0.7v0.7h-0.7zM83.9 160.8h0.7v0.7h-0.7zM84.8 160.5h0.7v0.7h-0.7zM85.6 160.5h0.7v0.7h-0.7zM85.9 160.5h0.7v0.7h-0.7zM87.0 160.4h0.7v0.7h-0.7zM88.5 160.5h0.7v0.7h-0.7zM88.6 160.7h0.7v0.7h-0.7z" fill="#000" filter="url(#b05)"/>
<path d="M106.4 113.1h0.7v0.7h-0.7zM89.5 114.8h0.7v0.7h-0.7zM87.3 122.2h0.7v0.7h-0.7zM110.7 126.6h0.7v0.7h-0.7zM111.3 127.3h0.7v0.7h-0.7zM75.4 128.1h0.7v0.7h-0.7zM113.4 128.1h0.7v0.7h-0.7zM104.9 128.7h0.7v0.7h-0.7zM107.3 128.5h0.7v0.7h-0.7zM112.3 128.8h0.7v0.7h-0.7zM112.9 128.8h0.7v0.7h-0.7zM106.7 129.4h0.7v0.7h-0.7zM107.6 129.2h0.7v0.7h-0.7zM109.1 129.5h0.7v0.7h-0.7zM111.0 129.1h0.7v0.7h-0.7zM114.3 129.2h0.7v0.7h-0.7zM108.2 130.0h0.7v0.7h-0.7zM110.7 129.7h0.7v0.7h-0.7zM111.4 130.0h0.7v0.7h-0.7zM112.8 130.1h0.7v0.7h-0.7zM106.1 130.4h0.7v0.7h-0.7zM107.2 130.3h0.7v0.7h-0.7zM108.8 130.4h0.7v0.7h-0.7zM109.1 130.5h0.7v0.7h-0.7zM109.7 130.8h0.7v0.7h-0.7zM111.9 130.4h0.7v0.7h-0.7zM113.0 130.3h0.7v0.7h-0.7zM108.7 131.3h0.7v0.7h-0.7zM110.9 131.2h0.7v0.7h-0.7zM111.9 131.5h0.7v0.7h-0.7zM114.0 131.5h0.7v0.7h-0.7zM108.1 131.9h0.7v0.7h-0.7zM109.0 131.8h0.7v0.7h-0.7zM109.8 132.0h0.7v0.7h-0.7zM110.6 132.2h0.7v0.7h-0.7zM111.2 132.1h0.7v0.7h-0.7zM111.8 131.9h0.7v0.7h-0.7zM113.6 132.3h0.7v0.7h-0.7zM106.5 132.9h0.7v0.7h-0.7zM107.7 132.6h0.7v0.7h-0.7zM108.3 132.8h0.7v0.7h-0.7zM108.9 132.9h0.7v0.7h-0.7zM111.2 132.8h0.7v0.7h-0.7zM112.7 132.9h0.7v0.7h-0.7zM77.8 133.6h0.7v0.7h-0.7zM93.9 133.6h0.7v0.7h-0.7zM105.6 133.3h0.7v0.7h-0.7zM107.1 133.2h0.7v0.7h-0.7zM108.4 133.2h0.7v0.7h-0.7zM109.4 133.6h0.7v0.7h-0.7zM112.1 133.3h0.7v0.7h-0.7zM115.5 133.3h0.7v0.7h-0.7zM78.4 133.9h0.7v0.7h-0.7zM80.6 134.2h0.7v0.7h-0.7zM82.5 134.3h0.7v0.7h-0.7zM86.4 134.3h0.7v0.7h-0.7zM86.7 134.4h0.7v0.7h-0.7zM87.6 134.4h0.7v0.7h-0.7zM88.0 134.2h0.7v0.7h-0.7zM91.3 134.4h0.7v0.7h-0.7zM94.7 133.9h0.7v0.7h-0.7zM106.4 133.8h0.7v0.7h-0.7zM107.2 134.0h0.7v0.7h-0.7zM107.8 134.4h0.7v0.7h-0.7zM109.0 134.1h0.7v0.7h-0.7zM111.0 133.9h0.7v0.7h-0.7zM113.8 134.0h0.7v0.7h-0.7zM77.8 134.7h0.7v0.7h-0.7zM78.7 134.8h0.7v0.7h-0.7zM80.1 135.0h0.7v0.7h-0.7zM80.4 134.7h0.7v0.7h-0.7zM81.1 134.8h0.7v0.7h-0.7zM82.5 135.0h0.7v0.7h-0.7zM83.1 134.8h0.7v0.7h-0.7zM84.2 135.0h0.7v0.7h-0.7zM85.8 134.8h0.7v0.7h-0.7zM97.0 134.8h0.7v0.7h-0.7zM108.4 135.1h0.7v0.7h-0.7zM109.0 135.1h0.7v0.7h-0.7zM110.1 135.1h0.7v0.7h-0.7zM110.7 134.8h0.7v0.7h-0.7zM112.3 134.8h0.7v0.7h-0.7zM77.0 135.4h0.7v0.7h-0.7zM78.8 135.3h0.7v0.7h-0.7zM81.1 135.3h0.7v0.7h-0.7zM82.2 135.3h0.7v0.7h-0.7zM86.0 135.3h0.7v0.7h-0.7zM87.7 135.2h0.7v0.7h-0.7zM92.5 135.5h0.7v0.7h-0.7zM94.8 135.7h0.7v0.7h-0.7zM108.2 135.8h0.7v0.7h-0.7zM110.0 135.4h0.7v0.7h-0.7zM110.4 135.4h0.7v0.7h-0.7zM114.4 135.6h0.7v0.7h-0.7zM79.4 136.1h0.7v0.7h-0.7zM80.2 136.0h0.7v0.7h-0.7zM82.4 136.4h0.7v0.7h-0.7zM84.6 136.4h0.7v0.7h-0.7zM85.7 136.1h0.7v0.7h-0.7zM86.8 136.3h0.7v0.7h-0.7zM87.2 136.1h0.7v0.7h-0.7zM97.3 136.5h0.7v0.7h-0.7zM102.6 136.4h0.7v0.7h-0.7zM107.3 136.0h0.7v0.7h-0.7zM108.4 135.9h0.7v0.7h-0.7zM110.3 136.0h0.7v0.7h-0.7zM112.5 135.9h0.7v0.7h-0.7zM78.1 137.2h0.7v0.7h-0.7zM79.4 136.7h0.7v0.7h-0.7zM80.1 136.9h0.7v0.7h-0.7zM80.4 137.0h0.7v0.7h-0.7zM81.2 137.1h0.7v0.7h-0.7zM84.7 137.0h0.7v0.7h-0.7zM86.1 136.8h0.7v0.7h-0.7zM106.5 136.8h0.7v0.7h-0.7zM110.7 136.7h0.7v0.7h-0.7zM111.5 137.2h0.7v0.7h-0.7zM77.1 137.4h0.7v0.7h-0.7zM78.9 137.6h0.7v0.7h-0.7zM79.6 137.8h0.7v0.7h-0.7zM80.6 137.8h0.7v0.7h-0.7zM82.7 137.7h0.7v0.7h-0.7zM85.6 137.9h0.7v0.7h-0.7zM86.0 137.4h0.7v0.7h-0.7zM87.7 137.7h0.7v0.7h-0.7zM95.3 137.6h0.7v0.7h-0.7zM104.1 137.5h0.7v0.7h-0.7zM105.3 137.6h0.7v0.7h-0.7zM106.4 137.9h0.7v0.7h-0.7zM107.2 137.4h0.7v0.7h-0.7zM108.1 137.4h0.7v0.7h-0.7zM108.7 137.6h0.7v0.7h-0.7zM110.8 137.6h0.7v0.7h-0.7zM77.4 138.0h0.7v0.7h-0.7zM79.6 138.1h0.7v0.7h-0.7zM80.7 138.6h0.7v0.7h-0.7zM81.5 138.5h0.7v0.7h-0.7zM81.9 138.3h0.7v0.7h-0.7zM82.5 138.4h0.7v0.7h-0.7zM83.6 138.3h0.7v0.7h-0.7zM85.3 138.0h0.7v0.7h-0.7zM86.0 138.6h0.7v0.7h-0.7zM87.8 138.5h0.7v0.7h-0.7zM88.1 138.5h0.7v0.7h-0.7zM91.5 138.1h0.7v0.7h-0.7zM109.2 138.4h0.7v0.7h-0.7zM110.5 138.5h0.7v0.7h-0.7zM111.6 138.5h0.7v0.7h-0.7zM75.9 139.0h0.7v0.7h-0.7zM77.6 139.3h0.7v0.7h-0.7zM79.0 139.3h0.7v0.7h-0.7zM79.7 138.9h0.7v0.7h-0.7zM82.8 139.3h0.7v0.7h-0.7zM86.2 138.8h0.7v0.7h-0.7zM87.2 139.0h0.7v0.7h-0.7zM88.9 139.1h0.7v0.7h-0.7zM92.3 139.0h0.7v0.7h-0.7zM75.7 139.6h0.7v0.7h-0.7zM77.2 139.7h0.7v0.7h-0.7zM78.0 139.8h0.7v0.7h-0.7zM78.4 139.6h0.7v0.7h-0.7zM80.7 139.8h0.7v0.7h-0.7zM81.5 139.7h0.7v0.7h-0.7zM82.0 139.8h0.7v0.7h-0.7zM83.5 139.9h0.7v0.7h-0.7zM83.8 139.9h0.7v0.7h-0.7zM85.3 139.8h0.7v0.7h-0.7zM85.9 139.5h0.7v0.7h-0.7zM92.7 139.6h0.7v0.7h-0.7zM97.9 139.8h0.7v0.7h-0.7zM76.9 140.5h0.7v0.7h-0.7zM78.7 140.1h0.7v0.7h-0.7zM79.2 140.6h0.7v0.7h-0.7zM82.8 140.5h0.7v0.7h-0.7zM83.9 140.5h0.7v0.7h-0.7zM84.8 140.3h0.7v0.7h-0.7zM86.0 140.6h0.7v0.7h-0.7zM86.6 140.5h0.7v0.7h-0.7zM87.5 140.7h0.7v0.7h-0.7zM88.4 140.7h0.7v0.7h-0.7zM88.8 140.7h0.7v0.7h-0.7zM110.9 140.4h0.7v0.7h-0.7zM112.5 140.6h0.7v0.7h-0.7zM76.5 141.0h0.7v0.7h-0.7zM78.3 140.9h0.7v0.7h-0.7zM79.5 141.4h0.7v0.7h-0.7zM80.3 140.8h0.7v0.7h-0.7zM81.2 141.1h0.7v0.7h-0.7zM82.3 140.8h0.7v0.7h-0.7zM84.3 141.3h0.7v0.7h-0.7zM85.5 141.2h0.7v0.7h-0.7zM85.8 141.4h0.7v0.7h-0.7zM87.8 141.2h0.7v0.7h-0.7zM88.8 141.0h0.7v0.7h-0.7zM94.7 140.9h0.7v0.7h-0.7zM104.6 140.9h0.7v0.7h-0.7zM112.0 141.0h0.7v0.7h-0.7zM76.7 141.6h0.7v0.7h-0.7zM77.9 141.7h0.7v0.7h-0.7zM78.6 141.7h0.7v0.7h-0.7zM80.5 142.0h0.7v0.7h-0.7zM81.5 142.0h0.7v0.7h-0.7zM82.5 142.1h0.7v0.7h-0.7zM85.9 142.0h0.7v0.7h-0.7zM87.6 141.9h0.7v0.7h-0.7zM88.0 141.9h0.7v0.7h-0.7zM89.0 142.1h0.7v0.7h-0.7zM90.8 141.6h0.7v0.7h-0.7zM91.6 141.6h0.7v0.7h-0.7zM94.7 141.9h0.7v0.7h-0.7zM107.4 141.8h0.7v0.7h-0.7zM112.3 141.9h0.7v0.7h-0.7zM112.7 141.5h0.7v0.7h-0.7zM113.3 142.0h0.7v0.7h-0.7zM78.0 142.4h0.7v0.7h-0.7zM79.3 142.6h0.7v0.7h-0.7zM79.6 142.2h0.7v0.7h-0.7zM80.8 142.5h0.7v0.7h-0.7zM81.2 142.6h0.7v0.7h-0.7zM82.5 142.4h0.7v0.7h-0.7zM83.2 142.7h0.7v0.7h-0.7zM83.8 142.4h0.7v0.7h-0.7zM85.2 142.8h0.7v0.7h-0.7zM85.8 142.6h0.7v0.7h-0.7zM88.1 142.7h0.7v0.7h-0.7zM89.3 142.8h0.7v0.7h-0.7zM77.2 143.4h0.7v0.7h-0.7zM78.0 143.3h0.7v0.7h-0.7zM78.4 143.0h0.7v0.7h-0.7zM79.1 143.0h0.7v0.7h-0.7zM82.2 143.0h0.7v0.7h-0.7zM85.4 143.0h0.7v0.7h-0.7zM89.4 143.2h0.7v0.7h-0.7zM77.7 143.9h0.7v0.7h-0.7zM79.3 143.7h0.7v0.7h-0.7zM79.9 143.6h0.7v0.7h-0.7zM94.2 144.1h0.7v0.7h-0.7zM76.1 144.5h0.7v0.7h-0.7zM77.1 144.9h0.7v0.7h-0.7zM77.7 144.8h0.7v0.7h-0.7zM78.2 144.5h0.7v0.7h-0.7zM79.5 144.7h0.7v0.7h-0.7zM81.5 144.3h0.7v0.7h-0.7zM84.7 144.4h0.7v0.7h-0.7zM86.0 144.6h0.7v0.7h-0.7zM88.1 144.5h0.7v0.7h-0.7zM76.4 145.1h0.7v0.7h-0.7zM77.3 145.3h0.7v0.7h-0.7zM77.7 145.0h0.7v0.7h-0.7zM80.0 145.3h0.7v0.7h-0.7zM80.3 145.6h0.7v0.7h-0.7zM81.8 145.1h0.7v0.7h-0.7zM83.3 145.5h0.7v0.7h-0.7zM83.9 145.1h0.7v0.7h-0.7zM85.7 145.1h0.7v0.7h-0.7zM89.0 145.2h0.7v0.7h-0.7zM96.6 145.0h0.7v0.7h-0.7zM116.9 145.3h0.7v0.7h-0.7zM77.7 145.9h0.7v0.7h-0.7zM78.6 146.1h0.7v0.7h-0.7zM80.0 146.1h0.7v0.7h-0.7zM80.7 145.9h0.7v0.7h-0.7zM81.0 146.1h0.7v0.7h-0.7zM82.0 145.7h0.7v0.7h-0.7zM85.0 146.2h0.7v0.7h-0.7zM86.8 146.0h0.7v0.7h-0.7zM87.6 145.9h0.7v0.7h-0.7zM88.2 146.3h0.7v0.7h-0.7zM90.4 145.8h0.7v0.7h-0.7zM99.2 146.1h0.7v0.7h-0.7zM77.2 146.5h0.7v0.7h-0.7zM80.4 146.6h0.7v0.7h-0.7zM81.4 146.7h0.7v0.7h-0.7zM83.2 146.8h0.7v0.7h-0.7zM85.4 146.9h0.7v0.7h-0.7zM86.0 146.5h0.7v0.7h-0.7zM94.4 146.7h0.7v0.7h-0.7zM82.1 147.7h0.7v0.7h-0.7zM88.1 147.3h0.7v0.7h-0.7zM94.4 147.4h0.7v0.7h-0.7zM98.6 147.5h0.7v0.7h-0.7zM89.1 147.9h0.7v0.7h-0.7zM96.4 148.7h0.7v0.7h-0.7zM103.7 149.0h0.7v0.7h-0.7zM88.7 149.8h0.7v0.7h-0.7zM92.1 149.8h0.7v0.7h-0.7zM100.8 149.2h0.7v0.7h-0.7zM93.3 150.0h0.7v0.7h-0.7zM95.3 150.1h0.7v0.7h-0.7zM98.2 149.9h0.7v0.7h-0.7zM88.8 151.6h0.7v0.7h-0.7zM99.7 151.4h0.7v0.7h-0.7zM90.9 153.0h0.7v0.7h-0.7zM97.0 152.9h0.7v0.7h-0.7zM98.2 152.9h0.7v0.7h-0.7zM120.8 152.9h0.7v0.7h-0.7zM89.7 154.0h0.7v0.7h-0.7zM93.0 153.9h0.7v0.7h-0.7zM94.5 153.6h0.7v0.7h-0.7zM107.8 154.0h0.7v0.7h-0.7zM89.5 154.3h0.7v0.7h-0.7zM94.6 154.1h0.7v0.7h-0.7zM96.6 154.5h0.7v0.7h-0.7zM98.2 155.8h0.7v0.7h-0.7zM84.8 157.4h0.7v0.7h-0.7zM91.1 157.0h0.7v0.7h-0.7zM76.5 157.7h0.7v0.7h-0.7zM98.1 158.4h0.7v0.7h-0.7zM88.7 159.6h0.7v0.7h-0.7zM98.2 159.5h0.7v0.7h-0.7zM98.7 159.4h0.7v0.7h-0.7zM97.2 160.2h0.7v0.7h-0.7zM98.7 160.6h0.7v0.7h-0.7z" fill="#7a7a7a" filter="url(#b05)"/>
<rect x="77.0" y="147.2" width="10.0" height="12.7" fill="#000" fill-opacity="0.95"/>
<text x="112.18" y="121.53" font-size="3.2" font-weight="normal" fill="#333" textLength="6.12" lengthAdjust="spacingAndGlyphs">3.25</text>
<text x="10.86" y="69.88" font-size="6.8" font-weight="normal" fill="#000" textLength="15.91" lengthAdjust="spacingAndGlyphs" stroke="#000" stroke-width="0.5" stroke-linejoin="round">FSC-A</text>
<line x1="31.00" y1="67.60" x2="51.50" y2="67.60" stroke="#000" stroke-width="1.15"/>
<path d="M51.00 66.00L54.20 67.60L51.00 69.20Z" fill="#000"/>
<text x="4.67" y="58.79" font-size="6.8" font-weight="normal" fill="#000" transform="rotate(-90 4.67 58.79)" textLength="16.06" lengthAdjust="spacingAndGlyphs" stroke="#000" stroke-width="0.5" stroke-linejoin="round">SSC-A</text>
<line x1="2.40" y1="37.00" x2="2.40" y2="17.70" stroke="#000" stroke-width="1.15"/>
<path d="M0.80 18.20L2.40 15.00L4.00 18.20Z" fill="#000"/>
<text x="75.84" y="69.72" font-size="6.8" font-weight="normal" fill="#000" textLength="16.14" lengthAdjust="spacingAndGlyphs" stroke="#000" stroke-width="0.5" stroke-linejoin="round">FoxP3</text>
<line x1="101.00" y1="66.70" x2="116.20" y2="66.70" stroke="#000" stroke-width="1.15"/>
<path d="M115.70 65.10L118.90 66.70L115.70 68.30Z" fill="#000"/>
<text x="70.38" y="58.55" font-size="6.8" font-weight="normal" fill="#000" transform="rotate(-90 70.38 58.55)" textLength="10.89" lengthAdjust="spacingAndGlyphs" stroke="#000" stroke-width="0.5" stroke-linejoin="round">CD4</text>
<line x1="68.00" y1="38.50" x2="68.00" y2="18.70" stroke="#000" stroke-width="1.15"/>
<path d="M66.40 19.20L68.00 16.00L69.60 19.20Z" fill="#000"/>
<text x="12.17" y="171.18" font-size="6.8" font-weight="normal" fill="#000" textLength="15.61" lengthAdjust="spacingAndGlyphs" stroke="#000" stroke-width="0.5" stroke-linejoin="round">FSC-A</text>
<line x1="32.00" y1="168.50" x2="51.90" y2="168.50" stroke="#000" stroke-width="1.15"/>
<path d="M51.40 166.90L54.60 168.50L51.40 170.10Z" fill="#000"/>
<text x="6.12" y="160.02" font-size="6.8" font-weight="normal" fill="#000" transform="rotate(-90 6.12 160.02)" textLength="14.79" lengthAdjust="spacingAndGlyphs" stroke="#000" stroke-width="0.5" stroke-linejoin="round">SSC-A</text>
<line x1="3.00" y1="138.50" x2="3.00" y2="119.30" stroke="#000" stroke-width="1.15"/>
<path d="M1.40 119.80L3.00 116.60L4.60 119.80Z" fill="#000"/>
<text x="76.64" y="170.64" font-size="6.8" font-weight="normal" fill="#000" textLength="10.03" lengthAdjust="spacingAndGlyphs" stroke="#000" stroke-width="0.5" stroke-linejoin="round">Ly6G</text>
<line x1="101.70" y1="167.70" x2="116.30" y2="167.70" stroke="#000" stroke-width="1.15"/>
<path d="M115.80 166.10L119.00 167.70L115.80 169.30Z" fill="#000"/>
<text x="70.14" y="160.09" font-size="6.8" font-weight="normal" fill="#000" transform="rotate(-90 70.14 160.09)" textLength="18.49" lengthAdjust="spacingAndGlyphs" stroke="#000" stroke-width="0.5" stroke-linejoin="round">CD11b</text>
<line x1="67.90" y1="139.50" x2="67.90" y2="120.50" stroke="#000" stroke-width="1.15"/>
<path d="M66.30 121.00L67.90 117.80L69.50 121.00Z" fill="#000"/>
</g>
</svg>
</body></html>
